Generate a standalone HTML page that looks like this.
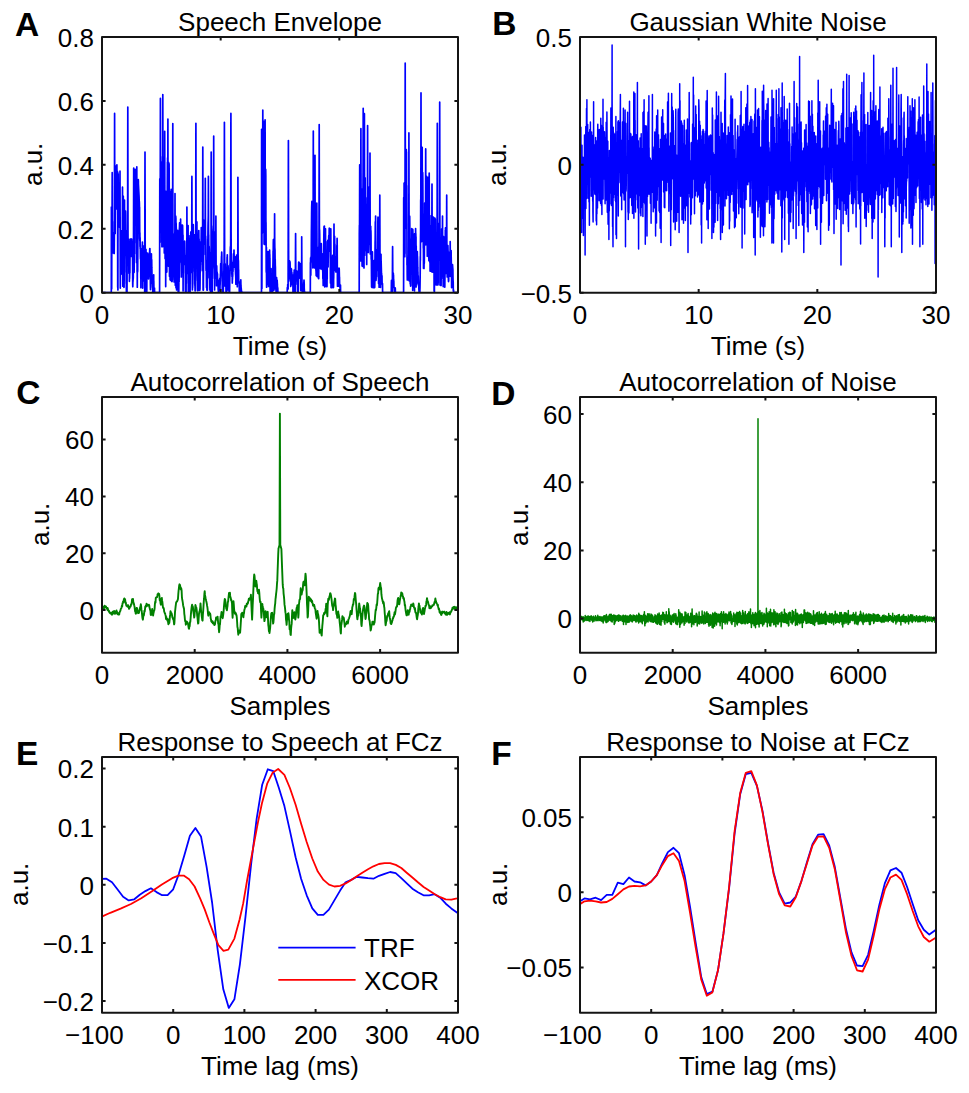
<!DOCTYPE html>
<html><head><meta charset="utf-8"><style>html,body{margin:0;padding:0;background:#fff;font-family:"Liberation Sans", sans-serif;}svg{display:block}</style></head>
<body><svg width="969" height="1093" viewBox="0 0 969 1093" font-family="'Liberation Sans', sans-serif" fill="#000">
<clipPath id="c00"><rect x="102" y="37" width="356" height="255.7"/></clipPath>
<path d="M102.0 292.7 102.1 292.7 102.2 292.7 102.3 292.7 102.4 292.7 102.5 292.7 102.6 292.7 102.6 292.7 102.7 292.7 102.8 292.7 102.9 292.7 103.0 292.7 103.1 292.7 103.2 292.7 103.3 292.7 103.4 292.7 103.5 292.7 103.6 292.7 103.7 292.7 103.8 292.7 103.9 292.7 103.9 292.7 104.0 292.7 104.1 292.7 104.2 292.7 104.3 292.7 104.4 292.7 104.5 292.7 104.6 292.7 104.7 292.7 104.8 292.7 104.9 292.7 105.0 292.7 105.1 292.7 105.2 292.7 105.2 292.7 105.3 292.7 105.4 292.7 105.5 292.7 105.6 292.7 105.7 292.7 105.8 292.7 105.9 292.7 106.0 292.7 106.1 292.7 106.2 292.7 106.3 292.7 106.4 292.7 106.5 292.7 106.5 292.7 106.6 292.7 106.7 292.7 106.8 292.7 106.9 292.7 107.0 292.7 107.1 292.7 107.2 292.7 107.3 292.7 107.4 292.7 107.5 292.7 107.6 292.7 107.7 292.7 107.7 292.7 107.8 292.7 107.9 292.7 108.0 292.7 108.1 292.7 108.2 292.7 108.3 292.7 108.4 292.7 108.5 292.7 108.6 292.7 108.7 292.7 108.8 292.7 108.9 292.7 109.0 292.7 109.0 292.7 109.1 292.7 109.2 292.7 109.3 292.7 109.4 292.7 109.5 292.7 109.6 292.7 109.7 292.7 109.8 292.7 109.9 292.7 110.0 292.7 110.1 292.7 110.2 292.7 110.3 292.7 110.3 292.7 110.4 292.7 110.5 292.7 110.6 292.7 110.7 292.7 110.8 292.7 110.9 292.7 111.0 292.7 111.1 292.7 111.2 292.7 111.3 292.7 111.4 207.1 111.5 288.5 111.6 227.0 111.6 223.8 111.7 288.7 111.8 235.1 111.9 221.2 112.0 225.9 112.1 212.6 112.2 172.5 112.3 212.6 112.4 239.6 112.5 221.5 112.6 249.8 112.7 241.9 112.8 246.6 112.8 252.6 112.9 252.7 113.0 252.7 113.1 252.8 113.2 252.8 113.3 248.1 113.4 252.9 113.5 251.6 113.6 232.7 113.7 253.1 113.8 253.1 113.9 253.2 114.0 253.2 114.1 253.3 114.1 244.0 114.2 253.4 114.3 243.9 114.4 232.9 114.5 173.2 114.6 113.4 114.7 173.2 114.8 232.9 114.9 228.6 115.0 218.8 115.1 208.2 115.2 233.4 115.3 204.1 115.4 204.9 115.4 201.4 115.5 203.4 115.6 183.4 115.7 194.7 115.8 166.0 115.9 177.0 116.0 168.3 116.1 169.7 116.2 166.8 116.3 188.3 116.4 175.9 116.5 186.5 116.6 183.5 116.7 200.6 116.7 209.0 116.8 207.5 116.9 164.8 117.0 186.6 117.1 194.8 117.2 184.1 117.3 171.6 117.4 171.3 117.5 176.6 117.6 172.0 117.7 287.2 117.8 172.6 117.9 173.0 117.9 289.9 118.0 173.8 118.1 174.0 118.2 174.4 118.3 188.8 118.4 184.9 118.5 184.8 118.6 200.8 118.7 208.6 118.8 209.9 118.9 219.0 119.0 220.8 119.1 209.9 119.2 218.4 119.2 207.9 119.3 211.0 119.4 210.9 119.5 216.8 119.6 227.3 119.7 218.2 119.8 226.6 119.9 210.2 120.0 171.2 120.1 210.4 120.2 239.8 120.3 288.1 120.4 266.7 120.5 267.0 120.5 267.7 120.6 268.8 120.7 269.9 120.8 271.0 120.9 272.1 121.0 273.2 121.1 274.3 121.2 271.2 121.3 244.1 121.4 255.2 121.5 232.3 121.6 253.5 121.7 246.6 121.8 230.5 121.8 250.3 121.9 247.1 122.0 236.2 122.1 254.7 122.2 255.7 122.3 257.5 122.4 222.4 122.5 187.2 122.6 222.4 122.7 257.5 122.8 286.2 122.9 284.2 123.0 261.9 123.1 243.4 123.1 231.4 123.2 202.6 123.3 196.2 123.4 217.1 123.5 240.2 123.6 236.7 123.7 242.5 123.8 258.6 123.9 287.3 124.0 269.7 124.1 286.9 124.2 267.5 124.3 272.2 124.3 252.0 124.4 230.9 124.5 200.0 124.6 230.9 124.7 239.3 124.8 232.5 124.9 229.1 125.0 231.8 125.1 214.4 125.2 212.0 125.3 217.4 125.4 223.7 125.5 211.1 125.6 215.0 125.6 216.9 125.7 228.8 125.8 237.4 125.9 230.3 126.0 254.7 126.1 259.7 126.2 283.4 126.3 282.4 126.4 291.8 126.5 291.9 126.6 292.0 126.7 292.2 126.8 292.3 126.9 292.5 126.9 289.6 127.0 292.7 127.1 267.8 127.2 258.2 127.3 262.7 127.4 253.7 127.5 258.1 127.6 230.8 127.7 168.9 127.8 107.0 127.9 168.9 128.0 230.8 128.1 258.3 128.2 260.1 128.2 248.1 128.3 248.4 128.4 239.0 128.5 246.1 128.6 244.2 128.7 254.3 128.8 263.5 128.9 273.3 129.0 268.6 129.1 265.5 129.2 269.7 129.3 269.9 129.4 271.5 129.4 281.3 129.5 273.1 129.6 278.5 129.7 272.5 129.8 261.1 129.9 272.7 130.0 255.7 130.1 243.6 130.2 239.0 130.3 239.0 130.4 239.0 130.5 239.0 130.6 239.0 130.7 239.0 130.7 239.0 130.8 239.7 130.9 248.6 131.0 243.7 131.1 246.9 131.2 256.4 131.3 239.0 131.4 256.5 131.5 248.5 131.6 246.9 131.7 239.0 131.8 251.9 131.9 240.9 132.0 254.6 132.0 248.0 132.1 249.8 132.2 254.3 132.3 250.6 132.4 248.0 132.5 254.1 132.6 266.6 132.7 284.0 132.8 286.8 132.9 281.2 133.0 281.5 133.1 279.2 133.2 279.2 133.3 277.3 133.3 274.1 133.4 273.5 133.5 251.1 133.6 209.6 133.7 168.0 133.8 209.6 133.9 251.1 134.0 253.5 134.1 272.2 134.2 265.9 134.3 242.4 134.4 244.8 134.5 253.8 134.5 207.9 134.6 211.4 134.7 197.9 134.8 197.1 134.9 177.6 135.0 179.7 135.1 177.3 135.2 169.3 135.3 194.0 135.4 180.9 135.5 206.3 135.6 176.5 135.7 193.2 135.8 199.6 135.8 201.0 135.9 181.4 136.0 170.7 136.1 183.7 136.2 219.4 136.3 243.1 136.4 212.7 136.5 262.6 136.6 250.7 136.7 208.7 136.8 166.8 136.9 208.7 137.0 250.7 137.1 271.7 137.1 254.8 137.2 268.5 137.3 287.2 137.4 262.0 137.5 256.3 137.6 272.2 137.7 270.1 137.8 252.6 137.9 237.8 138.0 239.0 138.1 212.4 138.2 182.6 138.3 179.6 138.4 181.6 138.4 183.5 138.5 185.5 138.6 187.5 138.7 189.5 138.8 191.5 138.9 193.5 139.0 195.4 139.1 197.4 139.2 202.4 139.3 201.4 139.4 203.4 139.5 208.0 139.6 207.3 139.6 212.7 139.7 229.7 139.8 240.5 139.9 232.8 140.0 246.5 140.1 237.5 140.2 248.8 140.3 244.7 140.4 256.4 140.5 258.9 140.6 253.6 140.7 259.1 140.8 277.9 140.9 278.8 140.9 287.7 141.0 272.9 141.1 263.9 141.2 271.8 141.3 267.2 141.4 254.9 141.5 258.4 141.6 254.0 141.7 248.5 141.8 259.8 141.9 262.9 142.0 258.3 142.1 268.7 142.2 263.4 142.2 262.5 142.3 261.7 142.4 242.0 142.5 256.0 142.6 245.3 142.7 288.1 142.8 251.9 142.9 256.3 143.0 251.8 143.1 248.9 143.2 245.8 143.3 266.7 143.4 258.2 143.5 266.7 143.5 273.3 143.6 275.6 143.7 277.6 143.8 280.9 143.9 279.1 144.0 263.3 144.1 269.8 144.2 263.6 144.3 268.6 144.4 256.1 144.5 268.2 144.6 272.7 144.7 285.9 144.7 292.5 144.8 245.8 144.9 198.9 145.0 152.1 145.1 198.9 145.2 245.8 145.3 281.1 145.4 292.2 145.5 261.1 145.6 268.8 145.7 265.4 145.8 255.2 145.9 261.4 146.0 249.8 146.0 249.4 146.1 259.5 146.2 252.9 146.3 252.8 146.4 261.6 146.5 268.6 146.6 269.6 146.7 266.5 146.8 291.6 146.9 265.0 147.0 266.8 147.1 268.3 147.2 267.9 147.3 258.3 147.3 262.4 147.4 254.1 147.5 261.9 147.6 253.5 147.7 253.0 147.8 253.9 147.9 253.8 148.0 258.6 148.1 261.2 148.2 268.0 148.3 274.7 148.4 278.3 148.5 279.0 148.6 275.7 148.6 272.3 148.7 274.5 148.8 274.2 148.9 271.4 149.0 276.5 149.1 274.4 149.2 274.9 149.3 270.9 149.4 267.9 149.5 266.0 149.6 254.5 149.7 249.6 149.8 248.6 149.8 248.7 149.9 248.9 150.0 254.8 150.1 260.3 150.2 276.7 150.3 273.5 150.4 285.1 150.5 289.7 150.6 283.0 150.7 279.6 150.8 280.7 150.9 273.0 151.0 280.1 151.1 272.5 151.1 269.4 151.2 269.4 151.3 257.3 151.4 253.8 151.5 264.7 151.6 263.2 151.7 259.7 151.8 267.9 151.9 270.6 152.0 277.0 152.1 276.5 152.2 283.5 152.3 279.5 152.4 281.4 152.4 282.7 152.5 287.3 152.6 287.6 152.7 288.3 152.8 292.7 152.9 292.7 153.0 292.7 153.1 292.7 153.2 292.7 153.3 288.1 153.4 289.1 153.5 285.4 153.6 276.1 153.7 274.8 153.7 280.2 153.8 281.3 153.9 287.7 154.0 288.1 154.1 288.5 154.2 290.6 154.3 292.7 154.4 288.9 154.5 288.1 154.6 292.7 154.7 292.7 154.8 292.7 154.9 292.7 155.0 292.7 155.0 292.7 155.1 292.7 155.2 292.7 155.3 292.7 155.4 292.7 155.5 292.7 155.6 292.7 155.7 292.7 155.8 292.7 155.9 292.7 156.0 292.7 156.1 292.7 156.2 292.7 156.2 292.7 156.3 292.7 156.4 292.7 156.5 292.7 156.6 292.7 156.7 292.7 156.8 292.7 156.9 292.7 157.0 292.7 157.1 292.7 157.2 292.7 157.3 292.7 157.4 292.7 157.5 292.7 157.5 292.7 157.6 292.7 157.7 292.7 157.8 292.7 157.9 292.7 158.0 292.7 158.1 292.7 158.2 292.7 158.3 292.7 158.4 292.7 158.5 292.7 158.6 292.7 158.7 292.7 158.8 292.7 158.8 292.7 158.9 292.7 159.0 292.7 159.1 292.7 159.2 292.7 159.3 292.7 159.4 292.7 159.5 292.7 159.6 292.7 159.7 222.3 159.8 178.8 159.9 220.6 160.0 212.7 160.1 223.6 160.1 242.2 160.2 213.6 160.3 163.1 160.4 98.4 160.5 163.1 160.6 195.0 160.7 156.5 160.8 171.9 160.9 192.9 161.0 205.1 161.1 161.8 161.2 170.4 161.3 168.7 161.3 192.2 161.4 197.9 161.5 205.0 161.6 177.9 161.7 204.3 161.8 201.6 161.9 246.7 162.0 227.1 162.1 246.7 162.2 246.7 162.3 246.7 162.4 246.7 162.5 219.5 162.6 246.7 162.6 212.3 162.7 160.6 162.8 94.5 162.9 160.6 163.0 197.6 163.1 191.7 163.2 221.8 163.3 201.6 163.4 199.9 163.5 173.7 163.6 170.9 163.7 157.0 163.8 179.4 163.9 171.5 163.9 237.1 164.0 227.2 164.1 216.9 164.2 228.6 164.3 252.9 164.4 231.4 164.5 238.9 164.6 185.1 164.7 131.3 164.8 185.1 164.9 238.9 165.0 221.6 165.1 258.6 165.2 238.7 165.2 229.0 165.3 244.7 165.4 207.0 165.5 216.8 165.6 191.0 165.7 286.6 165.8 222.0 165.9 206.2 166.0 231.4 166.1 230.2 166.2 255.6 166.3 267.9 166.4 268.6 166.4 269.3 166.5 270.0 166.6 270.7 166.7 271.4 166.8 272.1 166.9 248.9 167.0 209.6 167.1 231.9 167.2 211.1 167.3 189.4 167.4 162.2 167.5 186.6 167.6 157.9 167.7 158.3 167.7 223.4 167.8 177.0 167.9 119.1 168.0 177.0 168.1 234.8 168.2 262.2 168.3 266.1 168.4 234.7 168.5 221.4 168.6 213.9 168.7 162.4 168.8 162.8 168.9 163.1 169.0 163.5 169.0 163.9 169.1 164.2 169.2 182.3 169.3 223.9 169.4 226.1 169.5 276.2 169.6 258.9 169.7 225.2 169.8 191.4 169.9 225.2 170.0 258.9 170.1 279.7 170.2 279.8 170.3 279.9 170.3 280.0 170.4 280.1 170.5 280.2 170.6 280.3 170.7 280.3 170.8 268.4 170.9 222.1 171.0 215.0 171.1 195.4 171.2 189.4 171.3 198.6 171.4 191.5 171.5 213.1 171.5 247.4 171.6 265.2 171.7 267.4 171.8 281.4 171.9 281.3 172.0 275.3 172.1 281.6 172.2 277.2 172.3 279.7 172.4 276.8 172.5 272.4 172.6 236.3 172.7 180.0 172.8 123.6 172.8 180.0 172.9 236.3 173.0 261.6 173.1 274.8 173.2 233.8 173.3 261.4 173.4 240.6 173.5 255.7 173.6 239.2 173.7 258.8 173.8 235.4 173.9 250.9 174.0 273.8 174.1 245.9 174.1 281.9 174.2 269.2 174.3 256.9 174.4 271.2 174.5 257.1 174.6 270.0 174.7 278.7 174.8 259.7 174.9 226.6 175.0 193.6 175.1 226.6 175.2 259.7 175.3 285.2 175.4 268.7 175.4 230.0 175.5 218.6 175.6 237.3 175.7 216.1 175.8 217.4 175.9 218.6 176.0 287.7 176.1 222.9 176.2 226.7 176.3 228.6 176.4 250.8 176.5 264.7 176.6 275.8 176.6 290.0 176.7 288.9 176.8 282.8 176.9 274.9 177.0 274.7 177.1 248.8 177.2 270.6 177.3 260.3 177.4 251.3 177.5 236.4 177.6 245.5 177.7 230.4 177.8 240.9 177.9 248.9 177.9 254.1 178.0 268.6 178.1 284.1 178.2 292.7 178.3 292.7 178.4 292.7 178.5 292.7 178.6 292.7 178.7 292.7 178.8 290.6 178.9 280.6 179.0 272.1 179.1 281.8 179.2 270.6 179.2 257.2 179.3 262.8 179.4 229.1 179.5 227.1 179.6 222.9 179.7 223.0 179.8 223.1 179.9 223.1 180.0 223.2 180.1 226.4 180.2 223.4 180.3 228.0 180.4 241.5 180.5 233.9 180.5 241.2 180.6 219.2 180.7 243.7 180.8 254.2 180.9 261.9 181.0 257.4 181.1 263.3 181.2 265.2 181.3 276.9 181.4 269.1 181.5 263.2 181.6 271.2 181.7 253.4 181.7 230.2 181.8 240.6 181.9 232.1 182.0 225.1 182.1 225.5 182.2 225.1 182.3 225.2 182.4 225.3 182.5 228.0 182.6 225.4 182.7 229.9 182.8 237.2 182.9 242.5 183.0 235.2 183.0 250.9 183.1 290.9 183.2 245.6 183.3 255.1 183.4 246.7 183.5 258.9 183.6 246.4 183.7 264.4 183.8 248.4 183.9 252.5 184.0 256.2 184.1 247.7 184.2 254.9 184.3 258.9 184.3 257.7 184.4 264.5 184.5 261.2 184.6 260.2 184.7 241.2 184.8 243.1 184.9 252.6 185.0 255.9 185.1 262.3 185.2 273.2 185.3 272.4 185.4 291.1 185.5 292.6 185.6 292.6 185.6 292.6 185.7 292.6 185.8 292.6 185.9 292.5 186.0 292.5 186.1 290.8 186.2 265.1 186.3 283.2 186.4 265.8 186.5 255.8 186.6 265.3 186.7 261.3 186.8 252.7 186.9 235.6 186.9 207.0 187.0 235.6 187.1 255.6 187.2 273.3 187.3 264.7 187.4 258.6 187.5 265.9 187.6 263.8 187.7 266.8 187.8 270.1 187.9 270.3 188.0 248.0 188.1 225.6 188.1 248.0 188.2 270.3 188.3 292.1 188.4 287.9 188.5 260.7 188.6 262.0 188.7 252.3 188.8 245.1 188.9 235.5 189.0 239.2 189.1 238.5 189.2 245.9 189.3 256.1 189.4 260.5 189.4 277.5 189.5 267.5 189.6 291.9 189.7 284.3 189.8 291.9 189.9 291.0 190.0 281.9 190.1 291.8 190.2 267.8 190.3 270.5 190.4 272.8 190.5 269.9 190.6 256.5 190.7 262.8 190.7 232.8 190.8 240.6 190.9 231.9 191.0 238.1 191.1 247.3 191.2 255.1 191.3 267.1 191.4 259.8 191.5 272.5 191.6 269.0 191.7 253.9 191.8 215.1 191.9 176.4 192.0 215.1 192.0 253.9 192.1 267.6 192.2 271.6 192.3 283.9 192.4 290.0 192.5 287.0 192.6 287.6 192.7 284.6 192.8 283.9 192.9 262.8 193.0 252.1 193.1 236.3 193.2 232.3 193.2 229.5 193.3 224.5 193.4 232.5 193.5 238.4 193.6 236.8 193.7 244.2 193.8 241.8 193.9 249.8 194.0 258.6 194.1 239.2 194.2 234.7 194.3 251.4 194.4 248.3 194.5 240.7 194.5 252.1 194.6 271.6 194.7 262.9 194.8 279.1 194.9 285.6 195.0 286.0 195.1 291.0 195.2 291.0 195.3 288.6 195.4 279.5 195.5 275.6 195.6 257.8 195.7 252.0 195.8 236.2 195.8 179.8 195.9 123.3 196.0 179.8 196.1 232.5 196.2 235.8 196.3 234.6 196.4 241.9 196.5 248.1 196.6 250.9 196.7 225.9 196.8 230.2 196.9 221.8 197.0 236.9 197.1 237.0 197.1 248.4 197.2 257.8 197.3 280.5 197.4 271.6 197.5 290.6 197.6 290.6 197.7 290.5 197.8 288.6 197.9 290.5 198.0 276.0 198.1 284.1 198.2 276.5 198.3 272.5 198.3 252.5 198.4 262.0 198.5 255.3 198.6 248.7 198.7 233.2 198.8 230.5 198.9 241.3 199.0 290.5 199.1 239.0 199.2 251.8 199.3 258.8 199.4 271.2 199.5 255.0 199.6 262.8 199.6 280.2 199.7 279.5 199.8 290.2 199.9 277.6 200.0 289.3 200.1 278.7 200.2 260.4 200.3 272.0 200.4 249.4 200.5 253.3 200.6 257.6 200.7 241.8 200.8 248.6 200.9 255.7 200.9 244.5 201.0 247.8 201.1 244.9 201.2 238.1 201.3 227.5 201.4 246.9 201.5 247.9 201.6 236.2 201.7 255.2 201.8 249.3 201.9 252.2 202.0 261.5 202.1 260.9 202.2 260.6 202.2 264.8 202.3 264.1 202.4 270.4 202.5 267.5 202.6 244.1 202.7 195.5 202.8 147.0 202.9 195.5 203.0 244.1 203.1 290.1 203.2 290.1 203.3 290.1 203.4 290.1 203.4 281.7 203.5 273.8 203.6 255.7 203.7 233.8 203.8 220.3 203.9 220.3 204.0 220.3 204.1 220.3 204.2 220.3 204.3 220.3 204.4 220.3 204.5 220.3 204.6 220.3 204.7 228.0 204.7 220.3 204.8 220.3 204.9 223.3 205.0 224.2 205.1 244.2 205.2 216.4 205.3 178.3 205.4 216.4 205.5 254.6 205.6 238.9 205.7 236.2 205.8 241.5 205.9 254.9 206.0 264.5 206.0 268.4 206.1 270.7 206.2 270.7 206.3 264.3 206.4 275.2 206.5 287.4 206.6 286.6 206.7 260.6 206.8 274.4 206.9 290.1 207.0 290.1 207.1 288.6 207.2 290.1 207.3 290.1 207.3 290.1 207.4 290.1 207.5 281.3 207.6 267.5 207.7 259.0 207.8 239.0 207.9 239.3 208.0 228.9 208.1 223.0 208.2 220.3 208.3 215.1 208.4 176.4 208.5 215.1 208.5 226.8 208.6 235.0 208.7 234.9 208.8 256.8 208.9 256.2 209.0 252.0 209.1 246.3 209.2 248.7 209.3 277.8 209.4 267.7 209.5 268.4 209.6 270.6 209.7 271.8 209.8 276.3 209.8 276.5 209.9 290.1 210.0 279.3 210.1 290.2 210.2 290.2 210.3 290.3 210.4 280.7 210.5 291.4 210.6 261.9 210.7 260.1 210.8 255.6 210.9 252.1 211.0 252.2 211.1 245.8 211.1 198.9 211.2 152.1 211.3 198.9 211.4 231.3 211.5 243.0 211.6 225.9 211.7 228.0 211.8 239.7 211.9 252.7 212.0 259.2 212.1 274.5 212.2 292.5 212.3 270.2 212.4 277.2 212.4 268.9 212.5 278.5 212.6 273.9 212.7 266.7 212.8 268.6 212.9 260.2 213.0 257.4 213.1 243.7 213.2 250.7 213.3 231.7 213.4 238.3 213.5 228.9 213.6 229.1 213.6 188.3 213.7 136.1 213.8 188.3 213.9 240.5 214.0 262.7 214.1 258.5 214.2 257.0 214.3 250.0 214.4 241.0 214.5 252.8 214.6 290.0 214.7 231.9 214.8 232.1 214.9 232.3 214.9 235.2 215.0 232.8 215.1 245.9 215.2 233.3 215.3 235.8 215.4 240.4 215.5 243.3 215.6 238.4 215.7 244.0 215.8 241.6 215.9 216.0 216.0 241.6 216.1 267.1 216.2 278.2 216.2 276.3 216.3 271.9 216.4 276.7 216.5 285.7 216.6 271.1 216.7 265.8 216.8 270.6 216.9 271.9 217.0 275.0 217.1 272.0 217.2 274.9 217.3 275.8 217.4 277.3 217.5 273.8 217.5 276.9 217.6 278.9 217.7 283.0 217.8 283.3 217.9 284.6 218.0 283.9 218.1 287.1 218.2 290.3 218.3 289.6 218.4 291.3 218.5 292.7 218.6 292.7 218.7 292.7 218.8 291.6 218.8 284.4 218.9 284.7 219.0 283.4 219.1 280.7 219.2 280.0 219.3 285.3 219.4 283.4 219.5 284.9 219.6 282.1 219.7 281.5 219.8 278.3 219.9 286.7 220.0 290.6 220.0 285.1 220.1 285.3 220.2 282.2 220.3 280.1 220.4 274.3 220.5 274.4 220.6 267.9 220.7 263.6 220.8 266.8 220.9 266.7 221.0 272.6 221.1 267.2 221.2 269.8 221.3 269.2 221.3 263.6 221.4 260.2 221.5 256.2 221.6 256.4 221.7 252.1 221.8 254.9 221.9 261.8 222.0 268.3 222.1 277.2 222.2 279.6 222.3 288.6 222.4 291.4 222.5 292.7 222.6 290.1 222.6 291.8 222.7 292.7 222.8 292.7 222.9 292.7 223.0 292.7 223.1 292.7 223.2 292.7 223.3 292.7 223.4 286.6 223.5 278.4 223.6 277.8 223.7 276.1 223.8 270.8 223.9 278.8 223.9 263.8 224.0 267.6 224.1 265.3 224.2 235.9 224.3 179.1 224.4 122.3 224.5 179.1 224.6 235.9 224.7 286.0 224.8 279.8 224.9 283.8 225.0 269.6 225.1 270.5 225.1 271.2 225.2 263.9 225.3 272.4 225.4 269.0 225.5 272.2 225.6 273.2 225.7 271.5 225.8 276.2 225.9 279.3 226.0 290.9 226.1 292.7 226.2 292.7 226.3 292.7 226.4 289.4 226.4 292.7 226.5 292.7 226.6 292.7 226.7 292.7 226.8 279.3 226.9 270.1 227.0 264.8 227.1 257.2 227.2 260.3 227.3 254.8 227.4 264.0 227.5 278.8 227.6 289.9 227.7 271.2 227.7 281.5 227.8 275.8 227.9 277.3 228.0 265.7 228.1 266.4 228.2 268.3 228.3 275.8 228.4 277.6 228.5 271.5 228.6 280.7 228.7 287.6 228.8 270.9 228.9 275.2 229.0 289.4 229.0 287.9 229.1 292.7 229.2 292.7 229.3 292.7 229.4 292.7 229.5 292.7 229.6 292.7 229.7 282.7 229.8 276.2 229.9 276.2 230.0 264.1 230.1 267.8 230.2 255.4 230.2 262.8 230.3 249.4 230.4 246.7 230.5 246.7 230.6 252.3 230.7 232.9 230.8 173.2 230.9 113.4 231.0 173.2 231.1 232.9 231.2 260.5 231.3 260.4 231.4 267.5 231.5 270.6 231.5 269.5 231.6 262.1 231.7 268.0 231.8 274.2 231.9 272.3 232.0 276.8 232.1 276.3 232.2 274.1 232.3 283.1 232.4 275.8 232.5 279.6 232.6 270.0 232.7 276.5 232.8 268.3 232.8 270.7 232.9 262.6 233.0 271.6 233.1 264.6 233.2 264.1 233.3 264.8 233.4 256.7 233.5 253.8 233.6 254.4 233.7 255.9 233.8 254.9 233.9 256.0 234.0 250.0 234.1 254.8 234.1 254.5 234.2 259.4 234.3 258.4 234.4 267.1 234.5 265.6 234.6 264.5 234.7 263.8 234.8 257.0 234.9 256.9 235.0 256.7 235.1 259.1 235.2 258.0 235.3 269.8 235.3 263.4 235.4 267.4 235.5 272.1 235.6 274.4 235.7 275.3 235.8 278.0 235.9 284.2 236.0 280.0 236.1 277.6 236.2 269.1 236.3 262.2 236.4 256.8 236.5 256.9 236.6 258.6 236.6 255.1 236.7 262.3 236.8 260.0 236.9 265.9 237.0 262.5 237.1 270.3 237.2 272.1 237.3 286.7 237.4 269.6 237.5 271.0 237.6 271.1 237.7 267.5 237.8 254.2 237.9 215.8 237.9 177.3 238.0 215.8 238.1 254.2 238.2 259.6 238.3 260.2 238.4 260.8 238.5 270.2 238.6 269.8 238.7 281.4 238.8 283.1 238.9 281.7 239.0 282.7 239.1 282.4 239.2 283.9 239.2 283.6 239.3 291.4 239.4 290.4 239.5 292.7 239.6 292.7 239.7 292.7 239.8 291.7 239.9 292.7 240.0 292.7 240.1 292.7 240.2 291.0 240.3 290.2 240.4 286.3 240.4 284.7 240.5 281.6 240.6 283.2 240.7 281.0 240.8 279.8 240.9 284.8 241.0 285.1 241.1 288.9 241.2 287.7 241.3 290.4 241.4 289.8 241.5 292.7 241.6 292.7 241.7 292.7 241.7 292.7 241.8 292.7 241.9 291.8 242.0 292.7 242.1 292.7 242.2 292.7 242.3 292.7 242.4 292.7 242.5 292.7 242.6 292.7 242.7 292.7 242.8 292.7 242.9 292.7 243.0 292.7 243.0 292.7 243.1 292.7 243.2 292.7 243.3 292.7 243.4 292.7 243.5 292.7 243.6 292.7 243.7 292.7 243.8 292.7 243.9 292.7 244.0 292.7 244.1 292.7 244.2 292.7 244.3 292.7 244.3 292.7 244.4 292.7 244.5 292.7 244.6 292.7 244.7 292.7 244.8 292.7 244.9 292.7 245.0 292.7 245.1 292.7 245.2 292.7 245.3 292.7 245.4 292.7 245.5 292.7 245.5 292.7 245.6 292.7 245.7 292.7 245.8 292.7 245.9 292.7 246.0 292.7 246.1 292.7 246.2 292.7 246.3 292.7 246.4 292.7 246.5 292.7 246.6 292.7 246.7 292.7 246.8 292.7 246.8 292.7 246.9 292.7 247.0 292.7 247.1 292.7 247.2 292.7 247.3 292.7 247.4 292.7 247.5 292.7 247.6 292.7 247.7 292.7 247.8 292.7 247.9 292.7 248.0 292.7 248.1 292.7 248.1 292.7 248.2 292.7 248.3 292.7 248.4 292.7 248.5 292.7 248.6 292.7 248.7 292.7 248.8 292.7 248.9 292.7 249.0 292.7 249.1 292.7 249.2 292.7 249.3 292.7 249.4 292.7 249.4 292.7 249.5 292.7 249.6 292.7 249.7 292.7 249.8 292.7 249.9 292.7 250.0 292.7 250.1 292.7 250.2 292.7 250.3 292.7 250.4 292.7 250.5 292.7 250.6 292.7 250.7 292.7 250.7 292.7 250.8 292.7 250.9 292.7 251.0 292.7 251.1 292.7 251.2 292.7 251.3 292.7 251.4 292.7 251.5 292.7 251.6 292.7 251.7 292.7 251.8 292.7 251.9 292.7 251.9 292.7 252.0 292.7 252.1 292.7 252.2 292.7 252.3 292.7 252.4 292.7 252.5 292.7 252.6 292.7 252.7 292.7 252.8 292.7 252.9 292.7 253.0 292.7 253.1 292.7 253.2 292.7 253.2 292.7 253.3 292.7 253.4 292.7 253.5 292.7 253.6 292.7 253.7 292.7 253.8 292.7 253.9 292.7 254.0 292.7 254.1 292.7 254.2 292.7 254.3 292.7 254.4 292.7 254.5 292.7 254.5 292.7 254.6 292.7 254.7 292.7 254.8 292.7 254.9 292.7 255.0 292.7 255.1 292.7 255.2 292.7 255.3 292.7 255.4 292.7 255.5 292.7 255.6 292.7 255.7 292.7 255.8 292.7 255.8 292.7 255.9 292.7 256.0 292.7 256.1 292.7 256.2 292.7 256.3 292.7 256.4 292.7 256.5 292.7 256.6 292.7 256.7 292.7 256.8 292.7 256.9 292.7 257.0 292.7 257.0 292.7 257.1 292.7 257.2 292.7 257.3 292.7 257.4 292.7 257.5 292.7 257.6 292.7 257.7 292.7 257.8 292.7 257.9 292.7 258.0 292.7 258.1 292.7 258.2 292.7 258.3 292.7 258.3 292.7 258.4 292.7 258.5 292.7 258.6 292.7 258.7 292.7 258.8 292.7 258.9 292.7 259.0 292.7 259.1 292.7 259.2 292.7 259.3 292.7 259.4 292.7 259.5 292.7 259.6 292.7 259.6 292.7 259.7 292.7 259.8 292.7 259.9 292.7 260.0 292.7 260.1 292.7 260.2 292.7 260.3 292.7 260.4 292.7 260.5 292.7 260.6 292.7 260.7 292.7 260.8 292.7 260.9 292.7 260.9 292.7 261.0 292.7 261.1 292.7 261.2 292.7 261.3 292.7 261.4 292.7 261.5 292.7 261.6 129.3 261.7 140.4 261.8 143.3 261.9 288.6 262.0 204.8 262.1 206.8 262.1 217.3 262.2 202.5 262.3 233.0 262.4 218.2 262.5 224.1 262.6 231.9 262.7 171.0 262.8 110.2 262.9 171.0 263.0 207.8 263.1 197.2 263.2 161.2 263.3 156.1 263.4 131.3 263.4 121.1 263.5 146.3 263.6 133.9 263.7 155.5 263.8 191.4 263.9 202.3 264.0 217.2 264.1 244.1 264.2 225.7 264.3 225.1 264.4 229.3 264.5 207.6 264.6 221.9 264.7 244.5 264.7 203.1 264.8 211.9 264.9 197.6 265.0 177.4 265.1 119.8 265.2 177.4 265.3 233.7 265.4 211.2 265.5 191.0 265.6 185.9 265.7 169.4 265.8 175.8 265.9 221.5 266.0 231.4 266.0 222.4 266.1 241.6 266.2 271.3 266.3 272.5 266.4 247.4 266.5 274.9 266.6 287.2 266.7 277.3 266.8 278.5 266.9 279.6 267.0 280.8 267.1 282.0 267.2 283.2 267.2 284.4 267.3 274.1 267.4 260.3 267.5 261.6 267.6 271.7 267.7 267.3 267.8 251.7 267.9 256.2 268.0 255.3 268.1 265.5 268.2 265.8 268.3 273.2 268.4 267.1 268.5 260.4 268.5 286.5 268.6 270.7 268.7 252.4 268.8 261.1 268.9 259.1 269.0 259.0 269.1 258.8 269.2 264.0 269.3 252.7 269.4 260.4 269.5 262.6 269.6 250.0 269.7 256.2 269.8 254.6 269.8 270.6 269.9 257.9 270.0 279.4 270.1 291.0 270.2 292.7 270.3 292.7 270.4 292.7 270.5 292.7 270.6 292.7 270.7 292.7 270.8 292.7 270.9 288.9 271.0 281.6 271.1 284.7 271.1 268.6 271.2 287.0 271.3 288.8 271.4 282.7 271.5 292.7 271.6 292.7 271.7 292.7 271.8 292.7 271.9 292.7 272.0 292.7 272.1 292.7 272.2 292.7 272.3 292.7 272.3 292.7 272.4 292.7 272.5 292.7 272.6 292.7 272.7 290.0 272.8 285.8 272.9 266.6 273.0 262.0 273.1 251.1 273.2 255.5 273.3 243.3 273.4 239.6 273.5 239.5 273.6 248.1 273.6 246.2 273.7 254.4 273.8 258.4 273.9 262.7 274.0 290.1 274.1 264.0 274.2 275.2 274.3 270.6 274.4 266.4 274.5 240.1 274.6 213.8 274.7 240.1 274.8 247.2 274.9 249.1 274.9 249.2 275.0 250.2 275.1 260.3 275.2 259.3 275.3 265.3 275.4 267.1 275.5 275.7 275.6 287.1 275.7 289.3 275.8 283.4 275.9 284.7 276.0 290.8 276.1 291.4 276.2 287.6 276.2 292.3 276.3 287.1 276.4 287.6 276.5 285.6 276.6 277.5 276.7 282.7 276.8 282.4 276.9 281.0 277.0 285.8 277.1 280.0 277.2 281.3 277.3 283.3 277.4 284.3 277.4 285.2 277.5 288.4 277.6 287.2 277.7 288.2 277.8 288.2 277.9 292.7 278.0 292.7 278.1 292.7 278.2 292.7 278.3 292.7 278.4 292.7 278.5 292.7 278.6 292.7 278.7 292.7 278.7 292.7 278.8 292.7 278.9 292.7 279.0 292.7 279.1 292.7 279.2 292.7 279.3 292.7 279.4 292.7 279.5 292.7 279.6 292.7 279.7 292.7 279.8 292.7 279.9 292.7 280.0 292.7 280.0 292.7 280.1 292.7 280.2 292.7 280.3 292.7 280.4 292.7 280.5 292.7 280.6 292.7 280.7 292.7 280.8 292.7 280.9 292.7 281.0 292.7 281.1 292.7 281.2 292.7 281.3 292.7 281.3 292.7 281.4 292.7 281.5 292.7 281.6 292.7 281.7 292.7 281.8 292.7 281.9 292.7 282.0 292.7 282.1 292.7 282.2 292.7 282.3 292.7 282.4 292.7 282.5 292.7 282.6 292.7 282.6 292.7 282.7 292.7 282.8 292.7 282.9 292.7 283.0 292.7 283.1 292.7 283.2 292.7 283.3 292.7 283.4 292.7 283.5 292.7 283.6 292.7 283.7 292.7 283.8 292.7 283.8 292.7 283.9 292.7 284.0 292.7 284.1 292.7 284.2 292.7 284.3 292.7 284.4 292.7 284.5 292.7 284.6 292.7 284.7 292.7 284.8 292.7 284.9 292.7 285.0 292.7 285.1 292.7 285.1 292.7 285.2 292.7 285.3 292.7 285.4 292.7 285.5 292.7 285.6 292.7 285.7 292.7 285.8 292.7 285.9 292.7 286.0 292.7 286.1 292.7 286.2 292.7 286.3 292.7 286.4 292.7 286.4 292.7 286.5 292.7 286.6 292.7 286.7 292.7 286.8 292.7 286.9 292.7 287.0 292.7 287.1 292.7 287.2 292.7 287.3 287.7 287.4 287.9 287.5 288.1 287.6 288.2 287.7 286.3 287.7 284.5 287.8 285.3 287.9 288.9 288.0 289.1 288.1 288.9 288.2 242.0 288.3 191.3 288.4 140.6 288.5 191.3 288.6 242.0 288.7 280.9 288.8 272.6 288.9 272.3 288.9 268.7 289.0 262.9 289.1 268.0 289.2 265.7 289.3 263.6 289.4 260.6 289.5 265.2 289.6 261.9 289.7 261.3 289.8 263.6 289.9 261.7 290.0 261.9 290.1 263.6 290.2 271.5 290.2 274.1 290.3 279.1 290.4 278.9 290.5 277.6 290.6 278.0 290.7 286.4 290.8 280.7 290.9 275.5 291.0 274.9 291.1 278.0 291.2 269.3 291.3 268.5 291.4 269.0 291.5 269.4 291.5 269.9 291.6 273.7 291.7 273.8 291.8 275.6 291.9 272.7 292.0 284.6 292.1 283.4 292.2 281.8 292.3 282.1 292.4 278.9 292.5 274.8 292.6 277.4 292.7 275.6 292.8 276.1 292.8 276.6 292.9 277.0 293.0 292.7 293.1 292.7 293.2 292.7 293.3 292.7 293.4 292.7 293.5 292.7 293.6 281.6 293.7 280.4 293.8 282.8 293.9 283.6 294.0 278.0 294.0 272.6 294.1 275.9 294.2 270.1 294.3 273.1 294.4 273.5 294.5 276.6 294.6 283.0 294.7 281.1 294.8 287.9 294.9 292.4 295.0 292.7 295.1 292.7 295.2 292.7 295.3 292.7 295.3 292.7 295.4 273.0 295.5 253.3 295.6 233.6 295.7 253.3 295.8 273.0 295.9 273.1 296.0 275.7 296.1 275.2 296.2 270.7 296.3 277.8 296.4 278.3 296.5 273.3 296.6 273.4 296.6 274.3 296.7 270.8 296.8 280.7 296.9 275.4 297.0 271.5 297.1 281.1 297.2 284.5 297.3 276.6 297.4 278.6 297.5 277.0 297.6 291.5 297.7 287.3 297.8 290.8 297.9 292.7 297.9 288.9 298.0 292.7 298.1 292.7 298.2 292.5 298.3 282.7 298.4 272.9 298.5 273.0 298.6 265.4 298.7 262.0 298.8 262.0 298.9 264.6 299.0 264.7 299.1 262.3 299.1 274.0 299.2 270.9 299.3 271.5 299.4 275.6 299.5 272.8 299.6 272.0 299.7 270.2 299.8 272.1 299.9 277.6 300.0 278.3 300.1 270.0 300.2 273.6 300.3 265.7 300.4 263.5 300.4 263.8 300.5 264.2 300.6 264.6 300.7 290.6 300.8 265.4 300.9 265.7 301.0 267.2 301.1 268.8 301.2 271.2 301.3 274.9 301.4 270.4 301.5 273.6 301.6 274.1 301.7 255.4 301.7 236.8 301.8 255.4 301.9 274.1 302.0 284.5 302.1 285.4 302.2 291.8 302.3 292.7 302.4 292.7 302.5 292.7 302.6 292.7 302.7 292.7 302.8 292.7 302.9 292.7 303.0 292.7 303.0 292.7 303.1 289.6 303.2 290.2 303.3 290.6 303.4 286.5 303.5 284.6 303.6 285.6 303.7 284.3 303.8 282.3 303.9 282.3 304.0 280.0 304.1 281.7 304.2 284.4 304.2 287.7 304.3 289.2 304.4 292.7 304.5 291.0 304.6 291.9 304.7 292.7 304.8 292.7 304.9 292.7 305.0 292.7 305.1 292.7 305.2 292.7 305.3 292.7 305.4 292.7 305.5 292.7 305.5 292.7 305.6 292.7 305.7 292.7 305.8 292.7 305.9 292.7 306.0 292.7 306.1 292.7 306.2 292.7 306.3 292.7 306.4 292.7 306.5 292.7 306.6 292.7 306.7 292.7 306.8 292.7 306.8 292.7 306.9 292.7 307.0 292.7 307.1 292.7 307.2 292.7 307.3 292.7 307.4 292.7 307.5 292.7 307.6 292.7 307.7 292.7 307.8 292.7 307.9 292.7 308.0 292.7 308.1 292.7 308.1 292.7 308.2 292.7 308.3 292.7 308.4 292.7 308.5 292.7 308.6 292.7 308.7 292.7 308.8 292.7 308.9 292.7 309.0 292.7 309.1 292.7 309.2 292.7 309.3 292.7 309.3 292.7 309.4 292.7 309.5 292.7 309.6 292.7 309.7 292.7 309.8 292.7 309.9 292.7 310.0 292.7 310.1 292.7 310.2 292.7 310.3 292.7 310.4 262.5 310.5 265.3 310.6 257.9 310.6 268.9 310.7 271.9 310.8 275.3 310.9 263.3 311.0 263.2 311.1 256.6 311.2 261.7 311.3 246.6 311.4 232.0 311.5 223.6 311.6 213.6 311.7 207.0 311.8 204.2 311.9 201.4 311.9 204.5 312.0 207.6 312.1 211.4 312.2 213.5 312.3 232.5 312.4 233.6 312.5 239.2 312.6 251.9 312.7 253.5 312.8 267.8 312.9 254.6 313.0 245.9 313.1 234.3 313.2 238.8 313.2 184.9 313.3 131.0 313.4 184.9 313.5 238.8 313.6 231.4 313.7 234.1 313.8 220.4 313.9 231.9 314.0 245.4 314.1 255.5 314.2 247.5 314.3 266.5 314.4 268.0 314.5 241.2 314.5 264.7 314.6 249.0 314.7 253.5 314.8 242.8 314.9 201.1 315.0 155.3 315.1 201.1 315.2 231.8 315.3 229.8 315.4 237.9 315.5 231.0 315.6 243.2 315.7 244.8 315.7 257.4 315.8 254.6 315.9 270.3 316.0 269.1 316.1 272.5 316.2 275.7 316.3 265.5 316.4 261.1 316.5 254.5 316.6 262.9 316.7 233.0 316.8 203.2 316.9 233.0 317.0 262.9 317.0 276.5 317.1 273.9 317.2 274.1 317.3 276.2 317.4 261.0 317.5 265.1 317.6 266.9 317.7 248.0 317.8 247.5 317.9 253.4 318.0 263.7 318.1 260.3 318.2 277.7 318.3 277.8 318.3 278.0 318.4 278.2 318.5 278.4 318.6 278.6 318.7 278.7 318.8 267.7 318.9 253.4 319.0 236.7 319.1 180.6 319.2 124.6 319.3 180.6 319.4 227.5 319.5 231.5 319.6 232.3 319.6 229.8 319.7 234.3 319.8 242.8 319.9 253.1 320.0 267.4 320.1 255.7 320.2 267.7 320.3 264.0 320.4 267.2 320.5 268.8 320.6 264.0 320.7 268.3 320.8 253.6 320.8 254.1 320.9 252.9 321.0 255.4 321.1 244.4 321.2 245.5 321.3 243.7 321.4 250.4 321.5 261.5 321.6 265.9 321.7 264.7 321.8 261.9 321.9 268.2 322.0 269.4 322.1 263.0 322.1 253.7 322.2 257.6 322.3 257.1 322.4 254.9 322.5 254.8 322.6 270.1 322.7 269.6 322.8 271.9 322.9 279.1 323.0 277.8 323.1 279.3 323.2 285.4 323.3 270.8 323.4 278.8 323.4 264.8 323.5 261.2 323.6 267.7 323.7 256.1 323.8 239.9 323.9 232.4 324.0 226.7 324.1 238.1 324.2 228.2 324.3 226.1 324.4 226.2 324.5 237.6 324.6 261.1 324.7 286.8 324.7 278.1 324.8 285.9 324.9 282.1 325.0 283.6 325.1 284.3 325.2 286.1 325.3 271.4 325.4 250.1 325.5 228.8 325.6 250.1 325.7 271.4 325.8 286.2 325.9 286.3 325.9 286.3 326.0 282.9 326.1 286.4 326.2 286.4 326.3 282.2 326.4 286.4 326.5 286.5 326.6 286.5 326.7 286.5 326.8 286.6 326.9 286.6 327.0 286.6 327.1 271.0 327.2 279.1 327.2 265.9 327.3 252.1 327.4 241.5 327.5 254.7 327.6 244.8 327.7 249.2 327.8 240.3 327.9 254.7 328.0 248.5 328.1 266.8 328.2 255.1 328.3 248.5 328.4 249.4 328.5 249.0 328.5 248.6 328.6 251.4 328.7 236.8 328.8 235.7 328.9 237.2 329.0 243.5 329.1 237.2 329.2 228.5 329.3 228.2 329.4 228.3 329.5 228.3 329.6 238.5 329.7 246.0 329.8 236.2 329.8 234.9 329.9 228.8 330.0 246.2 330.1 239.6 330.2 256.1 330.3 260.1 330.4 275.9 330.5 283.0 330.6 271.4 330.7 250.1 330.8 228.8 330.9 250.1 331.0 271.4 331.0 287.6 331.1 287.6 331.2 287.6 331.3 287.6 331.4 281.0 331.5 287.6 331.6 285.5 331.7 287.6 331.8 287.6 331.9 287.6 332.0 287.6 332.1 287.6 332.2 284.8 332.3 287.6 332.3 265.1 332.4 257.0 332.5 262.7 332.6 260.4 332.7 255.3 332.8 256.0 332.9 268.2 333.0 274.0 333.1 266.9 333.2 282.7 333.3 287.6 333.4 287.6 333.5 287.6 333.6 283.6 333.6 279.4 333.7 277.5 333.8 269.8 333.9 246.9 334.0 224.0 334.1 246.9 334.2 256.0 334.3 251.0 334.4 244.0 334.5 246.1 334.6 236.4 334.7 243.9 334.8 250.0 334.9 244.2 334.9 255.6 335.0 269.8 335.1 270.3 335.2 267.0 335.3 269.1 335.4 258.7 335.5 260.6 335.6 258.7 335.7 256.7 335.8 257.0 335.9 271.9 336.0 271.3 336.1 272.0 336.1 266.9 336.2 270.7 336.3 262.6 336.4 263.5 336.5 259.0 336.6 264.1 336.7 255.6 336.8 245.7 336.9 254.2 337.0 251.8 337.1 238.4 337.2 245.1 337.3 270.4 337.4 268.3 337.4 279.1 337.5 286.2 337.6 282.1 337.7 275.3 337.8 273.4 337.9 274.0 338.0 270.2 338.1 280.5 338.2 280.7 338.3 276.3 338.4 280.5 338.5 286.1 338.6 286.1 338.7 279.2 338.7 275.7 338.8 272.1 338.9 270.7 339.0 268.0 339.1 269.4 339.2 268.6 339.3 272.3 339.4 276.9 339.5 277.0 339.6 282.6 339.7 285.6 339.8 285.0 339.9 287.1 340.0 285.2 340.0 286.1 340.1 289.7 340.2 289.0 340.3 288.9 340.4 289.2 340.5 285.2 340.6 292.7 340.7 292.7 340.8 292.7 340.9 292.7 341.0 292.7 341.1 292.7 341.2 292.7 341.2 292.7 341.3 292.7 341.4 292.7 341.5 292.7 341.6 292.7 341.7 292.7 341.8 292.7 341.9 292.7 342.0 292.7 342.1 292.7 342.2 292.7 342.3 292.7 342.4 292.7 342.5 292.7 342.5 292.7 342.6 292.7 342.7 292.7 342.8 292.7 342.9 292.7 343.0 292.7 343.1 292.7 343.2 292.7 343.3 292.7 343.4 292.7 343.5 292.7 343.6 292.7 343.7 292.7 343.8 292.7 343.8 292.7 343.9 292.7 344.0 292.7 344.1 292.7 344.2 292.7 344.3 292.7 344.4 292.7 344.5 292.7 344.6 292.7 344.7 292.7 344.8 292.7 344.9 292.7 345.0 292.7 345.1 292.7 345.1 292.7 345.2 292.7 345.3 292.7 345.4 292.7 345.5 292.7 345.6 292.7 345.7 292.7 345.8 292.7 345.9 292.7 346.0 292.7 346.1 292.7 346.2 292.7 346.3 292.7 346.4 292.7 346.4 292.7 346.5 292.7 346.6 292.7 346.7 292.7 346.8 292.7 346.9 292.7 347.0 292.7 347.1 292.7 347.2 292.7 347.3 292.7 347.4 292.7 347.5 292.7 347.6 292.7 347.6 292.7 347.7 292.7 347.8 292.7 347.9 292.7 348.0 292.7 348.1 292.7 348.2 292.7 348.3 292.7 348.4 292.7 348.5 292.7 348.6 292.7 348.7 292.7 348.8 292.7 348.9 292.7 348.9 292.7 349.0 292.7 349.1 292.7 349.2 292.7 349.3 292.7 349.4 292.7 349.5 292.7 349.6 292.7 349.7 292.7 349.8 292.7 349.9 292.7 350.0 292.7 350.1 292.7 350.2 292.7 350.2 292.7 350.3 292.7 350.4 292.7 350.5 292.7 350.6 292.7 350.7 292.7 350.8 292.7 350.9 292.7 351.0 292.7 351.1 292.7 351.2 292.7 351.3 292.7 351.4 292.7 351.5 292.7 351.5 292.7 351.6 292.7 351.7 292.7 351.8 292.7 351.9 292.7 352.0 292.7 352.1 292.7 352.2 292.7 352.3 292.7 352.4 292.7 352.5 292.7 352.6 292.7 352.7 292.7 352.7 292.7 352.8 292.7 352.9 292.7 353.0 292.7 353.1 292.7 353.2 292.7 353.3 292.7 353.4 292.7 353.5 292.7 353.6 292.7 353.7 292.7 353.8 292.7 353.9 292.7 354.0 292.7 354.0 292.7 354.1 292.7 354.2 292.7 354.3 292.7 354.4 292.7 354.5 292.7 354.6 292.7 354.7 292.7 354.8 292.7 354.9 292.7 355.0 292.7 355.1 292.7 355.2 292.7 355.3 292.7 355.3 292.7 355.4 292.7 355.5 292.7 355.6 292.7 355.7 292.7 355.8 292.7 355.9 292.7 356.0 292.7 356.1 292.7 356.2 292.7 356.3 292.7 356.4 292.7 356.5 292.7 356.6 292.7 356.6 292.7 356.7 292.7 356.8 292.7 356.9 292.7 357.0 292.7 357.1 292.7 357.2 292.7 357.3 292.7 357.4 292.7 357.5 292.7 357.6 292.7 357.7 292.7 357.8 292.7 357.8 292.7 357.9 292.7 358.0 292.7 358.1 292.7 358.2 292.7 358.3 292.7 358.4 292.7 358.5 292.7 358.6 292.7 358.7 292.7 358.8 292.7 358.9 292.7 359.0 292.7 359.1 292.7 359.1 292.7 359.2 292.7 359.3 234.3 359.4 225.2 359.5 241.0 359.6 204.1 359.7 164.8 359.8 164.8 359.9 164.8 360.0 164.8 360.1 164.8 360.2 164.8 360.3 179.8 360.4 195.4 360.4 205.3 360.5 229.0 360.6 260.9 360.7 238.0 360.8 183.4 360.9 128.7 361.0 183.4 361.1 238.0 361.2 254.3 361.3 243.8 361.4 205.6 361.5 209.5 361.6 188.8 361.7 225.8 361.7 211.3 361.8 234.8 361.9 257.7 362.0 244.4 362.1 265.9 362.2 253.1 362.3 233.2 362.4 262.0 362.5 262.7 362.6 265.1 362.7 266.4 362.8 239.0 362.9 229.7 362.9 201.1 363.0 192.1 363.1 169.8 363.2 108.3 363.3 164.8 363.4 194.3 363.5 200.1 363.6 186.0 363.7 204.8 363.8 234.7 363.9 204.4 364.0 267.9 364.1 236.0 364.2 228.2 364.2 212.6 364.3 173.4 364.4 113.7 364.5 173.4 364.6 216.1 364.7 255.2 364.8 239.8 364.9 232.8 365.0 204.1 365.1 182.7 365.2 177.8 365.3 203.7 365.4 197.8 365.5 212.7 365.5 224.4 365.6 244.8 365.7 243.8 365.8 250.3 365.9 240.1 366.0 241.4 366.1 204.3 366.2 247.4 366.3 238.9 366.4 247.8 366.5 250.9 366.6 251.5 366.7 264.5 366.8 227.2 366.8 246.2 366.9 223.8 367.0 230.6 367.1 232.2 367.2 197.4 367.3 234.7 367.4 237.0 367.5 181.3 367.6 125.5 367.7 181.3 367.8 237.0 367.9 239.0 368.0 233.8 368.0 230.0 368.1 248.7 368.2 240.7 368.3 252.5 368.4 245.0 368.5 244.6 368.6 236.4 368.7 220.8 368.8 230.3 368.9 216.5 369.0 187.2 369.1 188.0 369.2 188.7 369.3 189.5 369.3 190.3 369.4 191.1 369.5 191.9 369.6 192.7 369.7 193.5 369.8 195.5 369.9 199.6 370.0 153.0 370.1 199.6 370.2 246.1 370.3 254.0 370.4 251.1 370.5 243.3 370.6 245.7 370.6 227.0 370.7 226.3 370.8 238.7 370.9 230.5 371.0 235.2 371.1 253.0 371.2 259.3 371.3 256.1 371.4 261.7 371.5 275.9 371.6 286.9 371.7 287.0 371.8 287.2 371.9 287.3 371.9 286.0 372.0 276.1 372.1 279.4 372.2 261.6 372.3 251.8 372.4 251.8 372.5 261.6 372.6 266.2 372.7 273.6 372.8 270.2 372.9 286.0 373.0 287.6 373.1 287.6 373.1 287.6 373.2 287.6 373.3 287.6 373.4 287.6 373.5 287.6 373.6 287.6 373.7 287.6 373.8 284.5 373.9 278.6 374.0 260.5 374.1 265.0 374.2 264.8 374.3 266.2 374.4 280.4 374.4 276.4 374.5 281.0 374.6 287.6 374.7 287.6 374.8 283.8 374.9 273.0 375.0 257.6 375.1 242.7 375.2 238.9 375.3 221.8 375.4 237.7 375.5 232.9 375.6 216.0 375.7 241.6 375.7 248.0 375.8 252.1 375.9 256.1 376.0 280.4 376.1 278.7 376.2 276.6 376.3 273.1 376.4 262.9 376.5 276.6 376.6 259.4 376.7 262.5 376.8 251.1 376.9 270.5 377.0 252.9 377.0 258.1 377.1 259.6 377.2 249.6 377.3 251.5 377.4 268.3 377.5 251.6 377.6 253.8 377.7 244.8 377.8 233.1 377.9 218.7 378.0 217.0 378.1 217.8 378.2 240.2 378.3 234.2 378.3 256.7 378.4 277.4 378.5 279.8 378.6 283.7 378.7 271.8 378.8 258.0 378.9 250.2 379.0 262.1 379.1 287.2 379.2 239.3 379.3 238.4 379.4 250.1 379.5 250.3 379.5 253.9 379.6 252.6 379.7 227.7 379.8 195.2 379.9 227.7 380.0 260.2 380.1 270.1 380.2 277.8 380.3 286.6 380.4 283.1 380.5 287.5 380.6 279.1 380.7 267.4 380.8 272.0 380.8 265.4 380.9 267.0 381.0 254.3 381.1 261.4 381.2 263.6 381.3 267.2 381.4 270.7 381.5 274.8 381.6 273.3 381.7 278.9 381.8 276.6 381.9 276.1 382.0 275.7 382.1 284.1 382.1 282.5 382.2 283.2 382.3 284.8 382.4 284.2 382.5 283.5 382.6 292.7 382.7 292.7 382.8 292.7 382.9 292.7 383.0 292.7 383.1 292.7 383.2 292.7 383.3 292.7 383.4 292.7 383.4 292.7 383.5 292.7 383.6 292.7 383.7 292.7 383.8 292.7 383.9 292.7 384.0 292.7 384.1 292.7 384.2 292.7 384.3 292.7 384.4 292.7 384.5 292.7 384.6 292.7 384.6 292.7 384.7 292.7 384.8 292.7 384.9 292.7 385.0 292.7 385.1 292.7 385.2 292.7 385.3 292.7 385.4 292.7 385.5 292.7 385.6 292.7 385.7 292.7 385.8 292.7 385.9 292.7 385.9 292.7 386.0 292.7 386.1 292.7 386.2 292.7 386.3 292.7 386.4 292.7 386.5 292.7 386.6 292.7 386.7 292.7 386.8 292.7 386.9 292.7 387.0 292.7 387.1 292.7 387.2 292.7 387.2 292.7 387.3 292.7 387.4 292.7 387.5 292.7 387.6 292.7 387.7 292.7 387.8 292.7 387.9 292.7 388.0 292.7 388.1 292.7 388.2 292.7 388.3 292.7 388.4 292.7 388.5 292.7 388.5 292.7 388.6 292.7 388.7 292.7 388.8 292.7 388.9 292.7 389.0 292.7 389.1 292.7 389.2 292.7 389.3 292.7 389.4 292.7 389.5 292.7 389.6 292.7 389.7 292.7 389.7 292.7 389.8 292.7 389.9 292.7 390.0 292.7 390.1 292.7 390.2 292.7 390.3 292.7 390.4 292.7 390.5 292.7 390.6 292.7 390.7 292.7 390.8 292.7 390.9 292.7 391.0 292.7 391.0 292.7 391.1 292.7 391.2 292.7 391.3 292.7 391.4 282.8 391.5 280.4 391.6 283.1 391.7 287.3 391.8 288.5 391.9 286.8 392.0 286.1 392.1 284.2 392.2 286.0 392.3 286.2 392.3 292.4 392.4 277.4 392.5 262.0 392.6 246.7 392.7 262.0 392.8 277.4 392.9 286.6 393.0 281.2 393.1 282.3 393.2 278.4 393.3 273.1 393.4 277.8 393.5 274.9 393.6 280.0 393.6 280.0 393.7 280.6 393.8 280.8 393.9 284.8 394.0 288.0 394.1 287.9 394.2 287.8 394.3 288.5 394.4 291.7 394.5 290.1 394.6 291.7 394.7 290.5 394.8 290.1 394.8 291.5 394.9 287.9 395.0 289.9 395.1 287.8 395.2 288.7 395.3 288.4 395.4 292.7 395.5 292.7 395.6 292.7 395.7 292.7 395.8 292.7 395.9 292.7 396.0 292.7 396.1 292.7 396.1 292.7 396.2 292.7 396.3 292.7 396.4 292.7 396.5 292.7 396.6 292.7 396.7 292.7 396.8 292.7 396.9 292.7 397.0 292.7 397.1 292.7 397.2 292.7 397.3 292.7 397.4 292.7 397.4 292.7 397.5 292.7 397.6 292.7 397.7 292.7 397.8 292.7 397.9 292.7 398.0 292.7 398.1 292.7 398.2 292.7 398.3 292.7 398.4 292.7 398.5 292.7 398.6 292.7 398.7 292.7 398.7 292.7 398.8 292.7 398.9 292.7 399.0 292.7 399.1 292.7 399.2 292.7 399.3 292.7 399.4 292.7 399.5 292.7 399.6 292.7 399.7 292.7 399.8 292.7 399.9 292.7 399.9 292.7 400.0 292.7 400.1 292.7 400.2 292.7 400.3 292.7 400.4 292.7 400.5 292.7 400.6 292.7 400.7 292.7 400.8 292.7 400.9 292.7 401.0 292.7 401.1 292.7 401.2 292.7 401.2 292.7 401.3 292.7 401.4 292.7 401.5 292.7 401.6 292.7 401.7 292.7 401.8 292.7 401.9 292.7 402.0 292.7 402.1 292.7 402.2 292.7 402.3 292.7 402.4 292.7 402.5 292.7 402.5 292.7 402.6 292.7 402.7 292.7 402.8 292.7 402.9 292.7 403.0 292.7 403.1 292.7 403.2 292.7 403.3 292.7 403.4 292.7 403.5 292.7 403.6 292.4 403.7 197.7 403.8 218.3 403.8 201.0 403.9 220.8 404.0 221.5 404.1 183.1 404.2 232.8 404.3 236.4 404.4 201.3 404.5 237.5 404.6 229.8 404.7 233.3 404.8 256.7 404.9 236.8 405.0 253.5 405.0 216.2 405.1 139.7 405.2 63.2 405.3 139.7 405.4 183.3 405.5 201.2 405.6 189.2 405.7 190.1 405.8 210.1 405.9 191.4 406.0 208.3 406.1 220.0 406.2 212.9 406.3 170.0 406.3 149.5 406.4 155.4 406.5 151.9 406.6 190.4 406.7 228.4 406.8 185.6 406.9 214.2 407.0 265.1 407.1 257.0 407.2 274.8 407.3 279.9 407.4 279.9 407.5 279.9 407.6 279.9 407.6 279.9 407.7 277.7 407.8 279.9 407.9 277.4 408.0 279.9 408.1 279.9 408.2 279.9 408.3 279.9 408.4 279.9 408.5 279.9 408.6 279.9 408.7 266.1 408.8 239.4 408.9 186.2 408.9 132.9 409.0 186.2 409.1 239.4 409.2 280.8 409.3 248.6 409.4 230.6 409.5 240.1 409.6 216.1 409.7 216.4 409.8 223.6 409.9 246.1 410.0 268.7 410.1 280.3 410.2 263.1 410.2 283.7 410.3 249.9 410.4 257.7 410.5 268.2 410.6 286.1 410.7 279.0 410.8 285.9 410.9 281.0 411.0 265.3 411.1 247.1 411.2 273.8 411.3 268.7 411.4 239.0 411.4 251.9 411.5 244.7 411.6 250.2 411.7 228.6 411.8 242.5 411.9 239.0 412.0 240.9 412.1 235.9 412.2 245.3 412.3 251.6 412.4 238.4 412.5 240.0 412.6 250.5 412.7 290.3 412.7 242.3 412.8 229.4 412.9 233.2 413.0 236.1 413.1 254.2 413.2 245.5 413.3 260.1 413.4 263.7 413.5 287.6 413.6 287.6 413.7 287.6 413.8 273.8 413.9 276.2 414.0 258.3 414.0 264.7 414.1 245.3 414.2 242.0 414.3 239.4 414.4 238.5 414.5 290.9 414.6 233.8 414.7 237.9 414.8 242.3 414.9 249.0 415.0 251.8 415.1 248.3 415.2 241.6 415.3 237.8 415.3 241.2 415.4 245.9 415.5 244.1 415.6 228.6 415.7 238.8 415.8 233.6 415.9 238.5 416.0 236.8 416.1 286.9 416.2 245.9 416.3 260.2 416.4 275.9 416.5 273.9 416.5 284.9 416.6 282.4 416.7 274.4 416.8 283.4 416.9 267.8 417.0 264.9 417.1 254.8 417.2 256.2 417.3 251.6 417.4 256.0 417.5 256.7 417.6 261.1 417.7 267.4 417.8 268.3 417.8 272.1 417.9 271.8 418.0 279.0 418.1 280.8 418.2 275.8 418.3 279.8 418.4 282.7 418.5 282.8 418.6 284.6 418.7 286.3 418.8 283.6 418.9 290.2 419.0 290.2 419.1 292.0 419.1 292.7 419.2 292.7 419.3 292.7 419.4 292.7 419.5 292.7 419.6 292.7 419.7 292.7 419.8 292.7 419.9 290.0 420.0 287.1 420.1 280.8 420.2 273.1 420.3 256.4 420.4 260.2 420.4 259.4 420.5 236.7 420.6 231.7 420.7 199.7 420.8 209.1 420.9 159.5 421.0 92.9 421.1 159.5 421.2 187.8 421.3 211.3 421.4 216.3 421.5 209.4 421.6 241.6 421.6 238.4 421.7 233.8 421.8 232.0 421.9 239.7 422.0 233.5 422.1 195.7 422.2 147.3 422.3 195.7 422.4 202.0 422.5 200.7 422.6 192.0 422.7 172.7 422.8 178.2 422.9 198.1 422.9 212.8 423.0 214.9 423.1 217.4 423.2 227.8 423.3 248.3 423.4 243.8 423.5 268.2 423.6 268.2 423.7 268.3 423.8 268.3 423.9 268.4 424.0 268.4 424.1 259.8 424.2 259.5 424.2 251.1 424.3 263.0 424.4 245.3 424.5 235.2 424.6 225.9 424.7 203.0 424.8 213.2 424.9 214.1 425.0 232.3 425.1 227.6 425.2 223.5 425.3 230.4 425.4 244.2 425.5 232.9 425.5 242.2 425.6 196.8 425.7 148.9 425.8 196.8 425.9 244.8 426.0 242.6 426.1 221.5 426.2 195.1 426.3 208.0 426.4 202.1 426.5 204.6 426.6 176.4 426.7 188.1 426.7 189.6 426.8 188.7 426.9 205.0 427.0 206.7 427.1 225.0 427.2 239.2 427.3 256.3 427.4 252.0 427.5 236.6 427.6 240.6 427.7 213.6 427.8 193.4 427.9 186.0 428.0 177.3 428.0 206.2 428.1 197.0 428.2 207.9 428.3 211.3 428.4 226.7 428.5 241.8 428.6 243.1 428.7 255.5 428.8 238.0 428.9 260.7 429.0 252.9 429.1 213.0 429.2 173.2 429.3 213.0 429.3 236.9 429.4 237.0 429.5 243.1 429.6 236.1 429.7 225.7 429.8 233.3 429.9 262.4 430.0 255.7 430.1 271.0 430.2 271.0 430.3 271.1 430.4 271.1 430.5 271.2 430.6 271.2 430.6 242.5 430.7 259.9 430.8 241.8 430.9 229.0 431.0 231.7 431.1 233.6 431.2 215.6 431.3 223.9 431.4 238.6 431.5 240.9 431.6 260.3 431.7 271.7 431.8 266.8 431.8 256.5 431.9 220.3 432.0 184.0 432.1 220.3 432.2 256.5 432.3 272.0 432.4 267.4 432.5 272.0 432.6 270.1 432.7 272.1 432.8 272.1 432.9 272.2 433.0 272.2 433.1 270.8 433.1 272.2 433.2 251.9 433.3 242.6 433.4 217.0 433.5 219.5 433.6 224.8 433.7 217.7 433.8 231.5 433.9 241.7 434.0 250.2 434.1 291.0 434.2 251.6 434.3 262.7 434.4 292.5 434.4 245.5 434.5 254.3 434.6 228.1 434.7 221.8 434.8 232.7 434.9 218.1 435.0 219.1 435.1 221.4 435.2 231.6 435.3 219.0 435.4 235.6 435.5 250.2 435.6 247.8 435.7 259.9 435.7 273.8 435.8 270.9 435.9 280.3 436.0 285.0 436.1 285.0 436.2 285.0 436.3 285.0 436.4 281.4 436.5 282.0 436.6 274.9 436.7 278.9 436.8 269.0 436.9 271.5 436.9 261.6 437.0 260.1 437.1 236.2 437.2 179.8 437.3 123.3 437.4 179.8 437.5 236.2 437.6 285.0 437.7 285.0 437.8 285.0 437.9 285.0 438.0 285.0 438.1 281.4 438.2 282.9 438.2 253.8 438.3 247.8 438.4 226.0 438.5 238.3 438.6 239.7 438.7 223.3 438.8 231.6 438.9 225.3 439.0 243.4 439.1 231.7 439.2 241.6 439.3 241.3 439.4 249.1 439.5 260.1 439.5 229.2 439.6 165.7 439.7 102.2 439.8 165.7 439.9 229.2 440.0 285.0 440.1 285.1 440.2 285.1 440.3 285.2 440.4 285.2 440.5 285.2 440.6 285.3 440.7 285.3 440.8 285.3 440.8 285.4 440.9 285.4 441.0 285.5 441.1 285.5 441.2 266.0 441.3 262.9 441.4 244.2 441.5 248.0 441.6 241.9 441.7 228.8 441.8 247.0 441.9 252.5 442.0 254.5 442.1 257.3 442.1 259.7 442.2 265.5 442.3 267.1 442.4 241.6 442.5 216.0 442.6 241.6 442.7 266.4 442.8 265.0 442.9 278.6 443.0 271.0 443.1 270.6 443.2 286.4 443.3 251.0 443.3 247.6 443.4 242.1 443.5 243.5 443.6 236.7 443.7 240.5 443.8 244.5 443.9 239.8 444.0 266.7 444.1 275.4 444.2 273.9 444.3 273.8 444.4 286.9 444.5 286.8 444.6 287.0 444.6 287.0 444.7 287.0 444.8 287.1 444.9 277.3 445.0 270.8 445.1 263.4 445.2 254.9 445.3 230.3 445.4 229.9 445.5 227.9 445.6 234.7 445.7 229.5 445.8 231.0 445.9 232.7 445.9 244.3 446.0 240.2 446.1 259.9 446.2 258.1 446.3 267.2 446.4 273.4 446.5 260.2 446.6 227.7 446.7 195.2 446.8 227.7 446.9 260.2 447.0 271.4 447.1 263.2 447.2 262.3 447.2 276.9 447.3 265.0 447.4 262.9 447.5 264.0 447.6 265.6 447.7 251.9 447.8 254.5 447.9 245.6 448.0 250.1 448.1 251.6 448.2 270.6 448.3 273.1 448.4 279.9 448.4 276.7 448.5 281.6 448.6 279.4 448.7 280.8 448.8 272.2 448.9 268.7 449.0 256.2 449.1 259.5 449.2 260.0 449.3 252.1 449.4 252.7 449.5 261.4 449.6 260.2 449.7 265.4 449.7 268.2 449.8 270.5 449.9 276.1 450.0 275.7 450.1 258.6 450.2 241.6 450.3 258.6 450.4 275.7 450.5 275.7 450.6 276.4 450.7 270.1 450.8 265.3 450.9 263.1 451.0 260.2 451.0 256.1 451.1 250.5 451.2 256.7 451.3 262.4 451.4 274.3 451.5 269.7 451.6 287.6 451.7 280.4 451.8 286.3 451.9 277.2 452.0 272.0 452.1 269.7 452.2 268.3 452.3 268.8 452.3 272.2 452.4 269.3 452.5 264.6 452.6 265.9 452.7 267.2 452.8 268.5 452.9 269.8 453.0 277.7 453.1 280.8 453.2 281.8 453.3 290.7 453.4 291.0 453.5 291.6 453.5 292.5 453.6 290.2 453.7 292.7 453.8 292.7 453.9 292.7 454.0 292.7 454.1 292.7 454.2 292.7 454.3 292.7 454.4 292.7 454.5 292.7 454.6 292.7 454.7 292.7 454.8 292.7 454.8 292.7 454.9 292.7 455.0 292.7 455.1 292.7 455.2 292.7 455.3 292.7 455.4 292.7 455.5 292.7 455.6 292.7 455.7 292.7 455.8 292.7 455.9 292.7 456.0 292.7 456.1 292.7 456.1 292.7 456.2 292.7 456.3 292.7 456.4 292.7 456.5 292.7 456.6 292.7 456.7 292.7 456.8 292.7 456.9 292.7 457.0 292.7 457.1 292.7 457.2 292.7 457.3 292.7 457.4 292.7 457.4 292.7 457.5 292.7 457.6 292.7 457.7 292.7 457.8 292.7 457.9 292.7 458.0 292.7" stroke="#0000ff" stroke-width="1.7" fill="none" stroke-linejoin="round" stroke-linecap="round" clip-path="url(#c00)"/>
<path d="M102.00 292.7V289.09999999999997M102.00 37V40.6M220.67 292.7V289.09999999999997M220.67 37V40.6M339.33 292.7V289.09999999999997M339.33 37V40.6M458.00 292.7V289.09999999999997M458.00 37V40.6M102 292.70H105.6M458 292.70H454.4M102 228.77H105.6M458 228.77H454.4M102 164.85H105.6M458 164.85H454.4M102 100.93H105.6M458 100.93H454.4M102 37.00H105.6M458 37.00H454.4" stroke="#141414" stroke-width="2" fill="none"/>
<rect x="102" y="37" width="356" height="255.7" stroke="#141414" stroke-width="2" fill="none" stroke-linejoin="round"/>
<text x="102.00" y="323.70" text-anchor="middle" font-size="26" >0</text>
<text x="220.67" y="323.70" text-anchor="middle" font-size="26" >10</text>
<text x="339.33" y="323.70" text-anchor="middle" font-size="26" >20</text>
<text x="458.00" y="323.70" text-anchor="middle" font-size="26" >30</text>
<text x="94.00" y="302.50" text-anchor="end" font-size="26" >0</text>
<text x="94.00" y="238.57" text-anchor="end" font-size="26" >0.2</text>
<text x="94.00" y="174.65" text-anchor="end" font-size="26" >0.4</text>
<text x="94.00" y="110.73" text-anchor="end" font-size="26" >0.6</text>
<text x="94.00" y="46.80" text-anchor="end" font-size="26" >0.8</text>
<text x="280.00" y="31.00" text-anchor="middle" font-size="26" >Speech Envelope</text>
<text x="280.00" y="354.70" text-anchor="middle" font-size="26" >Time (s)</text>
<text x="0" y="0" text-anchor="middle" font-size="26" transform="translate(42.1,164.35) rotate(-90)">a.u.</text>
<text x="15.00" y="35.60" text-anchor="start" font-size="33.5" font-weight="bold">A</text>
<clipPath id="c10"><rect x="580" y="37" width="356" height="255.7"/></clipPath>
<path d="M580.0 164.8 580.1 156.4 580.3 172.6 580.4 189.9 580.5 177.6 580.7 192.7 580.8 163.2 580.9 127.2 581.1 178.7 581.2 182.3 581.3 151.1 581.5 154.8 581.6 232.4 581.7 191.0 581.8 165.7 582.0 145.3 582.1 202.7 582.2 177.7 582.4 218.3 582.5 201.1 582.6 216.7 582.8 171.5 582.9 200.5 583.0 157.2 583.2 160.4 583.3 170.1 583.4 235.6 583.6 180.0 583.7 166.2 583.8 161.7 584.0 207.9 584.1 178.3 584.2 192.4 584.4 187.6 584.5 135.0 584.6 187.6 584.7 165.8 584.9 140.0 585.0 181.3 585.1 255.0 585.3 161.7 585.4 163.1 585.5 199.3 585.7 162.7 585.8 126.6 585.9 208.4 586.1 140.7 586.2 161.5 586.3 182.9 586.5 108.6 586.6 143.4 586.7 198.6 586.9 99.7 587.0 148.6 587.1 170.2 587.3 145.6 587.4 166.7 587.5 146.1 587.7 124.4 587.8 183.9 587.9 159.1 588.0 177.9 588.2 161.3 588.3 198.2 588.4 181.1 588.6 170.4 588.7 139.6 588.8 132.6 589.0 202.1 589.1 187.2 589.2 146.7 589.4 225.3 589.5 177.9 589.6 167.6 589.8 129.5 589.9 145.5 590.0 174.1 590.2 175.2 590.3 171.9 590.4 122.0 590.6 176.9 590.7 173.4 590.8 154.9 590.9 168.2 591.1 170.4 591.2 196.2 591.3 165.2 591.5 177.3 591.6 132.1 591.7 146.5 591.9 165.5 592.0 146.1 592.1 174.4 592.3 135.3 592.4 165.0 592.5 148.4 592.7 201.2 592.8 155.1 592.9 212.3 593.1 222.1 593.2 173.4 593.3 190.2 593.5 160.2 593.6 101.7 593.7 188.2 593.8 182.4 594.0 159.1 594.1 151.0 594.2 169.8 594.4 170.6 594.5 145.1 594.6 150.2 594.8 193.9 594.9 167.1 595.0 163.9 595.2 194.5 595.3 157.5 595.4 189.0 595.6 137.5 595.7 159.4 595.8 162.3 596.0 181.5 596.1 168.2 596.2 221.0 596.4 196.7 596.5 154.6 596.6 224.7 596.8 141.0 596.9 214.0 597.0 143.6 597.1 188.6 597.3 142.9 597.4 161.2 597.5 208.1 597.7 129.7 597.8 124.3 597.9 166.7 598.1 172.6 598.2 169.3 598.3 192.3 598.5 134.0 598.6 180.1 598.7 166.3 598.9 187.2 599.0 182.5 599.1 200.8 599.3 129.5 599.4 169.2 599.5 137.7 599.7 164.5 599.8 184.4 599.9 174.0 600.0 180.6 600.2 164.6 600.3 175.4 600.4 173.3 600.6 203.6 600.7 187.5 600.8 118.3 601.0 183.7 601.1 194.5 601.2 155.4 601.4 125.3 601.5 205.7 601.6 170.7 601.8 182.6 601.9 214.4 602.0 144.2 602.2 165.5 602.3 162.8 602.4 186.0 602.6 152.1 602.7 180.0 602.8 168.9 603.0 99.2 603.1 199.1 603.2 127.3 603.3 179.1 603.5 156.6 603.6 165.8 603.7 177.3 603.9 179.1 604.0 147.1 604.1 173.3 604.3 169.1 604.4 164.2 604.5 131.8 604.7 145.7 604.8 154.1 604.9 180.7 605.1 203.7 605.2 138.1 605.3 137.7 605.5 168.8 605.6 149.6 605.7 142.9 605.9 141.5 606.0 138.9 606.1 177.7 606.2 122.2 606.4 199.9 606.5 140.6 606.6 151.0 606.8 140.3 606.9 112.0 607.0 123.1 607.2 197.1 607.3 212.3 607.4 141.9 607.6 193.4 607.7 165.2 607.8 141.2 608.0 211.1 608.1 224.2 608.2 157.6 608.4 163.6 608.5 171.8 608.6 163.8 608.8 189.1 608.9 239.6 609.0 169.5 609.2 192.2 609.3 211.1 609.4 150.6 609.5 166.6 609.7 153.4 609.8 192.7 609.9 183.4 610.1 193.0 610.2 189.8 610.3 159.4 610.5 186.9 610.6 154.8 610.7 155.3 610.9 107.9 611.0 204.0 611.1 139.9 611.3 167.4 611.4 165.2 611.5 205.6 611.7 177.8 611.8 143.9 611.9 167.2 612.1 45.0 612.2 173.0 612.3 132.4 612.4 165.5 612.6 226.7 612.7 184.3 612.8 220.2 613.0 246.7 613.1 179.8 613.2 127.3 613.4 163.5 613.5 197.8 613.6 191.3 613.8 133.0 613.9 160.4 614.0 163.5 614.2 166.4 614.3 163.8 614.4 142.2 614.6 149.3 614.7 158.8 614.8 194.2 615.0 150.5 615.1 184.1 615.2 134.1 615.3 200.6 615.5 168.7 615.6 165.1 615.7 202.1 615.9 116.4 616.0 234.8 616.1 177.9 616.3 143.1 616.4 154.2 616.5 238.4 616.7 157.8 616.8 166.6 616.9 162.5 617.1 195.1 617.2 172.4 617.3 169.9 617.5 131.4 617.6 155.4 617.7 165.0 617.9 121.8 618.0 180.5 618.1 175.8 618.3 215.9 618.4 120.7 618.5 137.7 618.6 139.1 618.8 146.0 618.9 161.8 619.0 158.8 619.2 171.9 619.3 170.6 619.4 163.3 619.6 122.3 619.7 149.2 619.8 166.5 620.0 181.1 620.1 182.7 620.2 119.8 620.4 94.5 620.5 163.0 620.6 174.6 620.8 196.0 620.9 166.7 621.0 140.3 621.2 175.9 621.3 171.2 621.4 171.1 621.5 161.8 621.7 209.7 621.8 171.5 621.9 188.9 622.1 140.0 622.2 186.5 622.3 148.6 622.5 122.0 622.6 173.7 622.7 181.8 622.9 159.5 623.0 164.9 623.1 192.8 623.3 151.9 623.4 108.2 623.5 172.1 623.7 170.6 623.8 194.2 623.9 155.9 624.1 199.9 624.2 196.0 624.3 128.9 624.5 190.3 624.6 134.4 624.7 122.0 624.8 157.6 625.0 149.3 625.1 109.9 625.2 170.4 625.4 181.5 625.5 246.7 625.6 163.7 625.8 123.2 625.9 137.9 626.0 191.3 626.2 188.9 626.3 179.0 626.4 156.6 626.6 170.6 626.7 158.8 626.8 156.5 627.0 173.3 627.1 166.0 627.2 159.0 627.4 167.2 627.5 150.7 627.6 112.2 627.7 148.2 627.9 163.3 628.0 212.3 628.1 153.9 628.3 219.6 628.4 204.5 628.5 140.8 628.7 145.0 628.8 169.1 628.9 212.9 629.1 175.3 629.2 183.9 629.3 146.9 629.5 101.3 629.6 158.7 629.7 186.8 629.9 197.8 630.0 166.4 630.1 169.8 630.3 197.2 630.4 161.6 630.5 197.2 630.6 133.6 630.8 135.0 630.9 134.3 631.0 178.2 631.2 150.4 631.3 168.6 631.4 175.8 631.6 174.4 631.7 201.4 631.8 205.5 632.0 142.5 632.1 170.2 632.2 158.8 632.4 136.7 632.5 213.6 632.6 186.9 632.8 159.9 632.9 153.8 633.0 175.5 633.2 135.9 633.3 158.9 633.4 199.0 633.6 191.0 633.7 142.2 633.8 92.1 633.9 218.3 634.1 126.9 634.2 148.0 634.3 127.1 634.5 175.6 634.6 173.2 634.7 196.5 634.9 93.5 635.0 169.8 635.1 120.2 635.3 183.1 635.4 160.2 635.5 211.9 635.7 175.6 635.8 137.2 635.9 200.1 636.1 134.7 636.2 155.4 636.3 194.2 636.5 179.0 636.6 177.8 636.7 166.2 636.8 179.9 637.0 188.1 637.1 173.4 637.2 193.7 637.4 82.6 637.5 166.2 637.6 140.0 637.8 207.9 637.9 164.8 638.0 183.1 638.2 192.3 638.3 140.8 638.4 179.4 638.6 249.1 638.7 186.8 638.8 154.0 639.0 171.2 639.1 186.1 639.2 148.3 639.4 169.2 639.5 147.9 639.6 166.2 639.8 195.4 639.9 167.7 640.0 163.4 640.1 137.9 640.3 190.3 640.4 166.0 640.5 213.3 640.7 146.5 640.8 195.3 640.9 215.7 641.1 166.5 641.2 133.8 641.3 207.7 641.5 195.5 641.6 185.8 641.7 196.6 641.9 154.2 642.0 187.6 642.1 185.1 642.3 148.4 642.4 186.1 642.5 152.7 642.7 192.2 642.8 198.9 642.9 216.5 643.0 112.5 643.2 173.9 643.3 158.0 643.4 165.7 643.6 160.4 643.7 163.5 643.8 111.2 644.0 194.1 644.1 99.7 644.2 193.3 644.4 202.4 644.5 143.8 644.6 141.8 644.8 191.9 644.9 204.0 645.0 174.8 645.2 125.7 645.3 244.2 645.4 150.0 645.6 195.1 645.7 135.6 645.8 195.2 646.0 172.9 646.1 207.2 646.2 192.3 646.3 125.9 646.5 141.8 646.6 176.1 646.7 189.3 646.9 218.1 647.0 236.0 647.1 165.7 647.3 167.2 647.4 167.5 647.5 196.4 647.7 166.7 647.8 165.9 647.9 128.6 648.1 112.3 648.2 168.7 648.3 186.4 648.5 166.7 648.6 181.9 648.7 185.7 648.9 95.7 649.0 194.2 649.1 147.8 649.2 167.8 649.4 157.8 649.5 170.0 649.6 185.3 649.8 191.5 649.9 171.5 650.0 180.3 650.2 158.3 650.3 165.0 650.4 203.2 650.6 163.0 650.7 202.6 650.8 182.2 651.0 173.1 651.1 223.2 651.2 162.3 651.4 160.6 651.5 169.3 651.6 176.8 651.8 175.4 651.9 192.3 652.0 172.4 652.1 180.4 652.3 162.3 652.4 94.5 652.5 158.2 652.7 160.8 652.8 168.8 652.9 177.2 653.1 149.3 653.2 211.7 653.3 151.9 653.5 158.0 653.6 156.9 653.7 154.1 653.9 183.2 654.0 172.1 654.1 146.9 654.3 152.7 654.4 159.0 654.5 207.4 654.7 149.7 654.8 132.0 654.9 136.5 655.1 158.3 655.2 208.7 655.3 138.3 655.4 169.0 655.6 236.1 655.7 154.2 655.8 206.8 656.0 201.3 656.1 182.7 656.2 129.1 656.4 175.3 656.5 222.9 656.6 115.7 656.8 120.0 656.9 167.8 657.0 171.6 657.2 200.3 657.3 184.4 657.4 152.9 657.6 153.7 657.7 109.9 657.8 136.9 658.0 186.6 658.1 166.4 658.2 144.3 658.3 148.4 658.5 134.7 658.6 153.7 658.7 173.6 658.9 154.7 659.0 193.0 659.1 211.0 659.3 148.5 659.4 166.4 659.5 156.2 659.7 212.6 659.8 175.1 659.9 181.7 660.1 189.2 660.2 228.3 660.3 174.3 660.5 139.6 660.6 154.1 660.7 181.8 660.9 165.3 661.0 143.6 661.1 242.5 661.3 168.4 661.4 149.6 661.5 145.7 661.6 117.0 661.8 132.9 661.9 156.1 662.0 156.4 662.2 142.7 662.3 180.0 662.4 166.0 662.6 139.4 662.7 109.8 662.8 169.3 663.0 166.2 663.1 159.3 663.2 127.1 663.4 165.7 663.5 123.5 663.6 192.0 663.8 170.1 663.9 170.4 664.0 142.7 664.2 135.4 664.3 207.3 664.4 190.6 664.5 155.4 664.7 183.4 664.8 207.7 664.9 135.6 665.1 151.0 665.2 151.0 665.3 178.2 665.5 135.9 665.6 171.6 665.7 134.0 665.9 190.5 666.0 188.9 666.1 159.1 666.3 184.6 666.4 145.9 666.5 157.5 666.7 190.8 666.8 162.8 666.9 174.7 667.1 139.1 667.2 182.6 667.3 177.2 667.5 130.8 667.6 101.9 667.7 108.6 667.8 163.1 668.0 158.7 668.1 121.7 668.2 168.3 668.4 93.3 668.5 161.6 668.6 152.2 668.8 188.2 668.9 211.2 669.0 205.3 669.2 146.1 669.3 186.2 669.4 168.8 669.6 158.9 669.7 147.4 669.8 174.3 670.0 150.8 670.1 189.9 670.2 175.0 670.4 193.7 670.5 133.0 670.6 165.6 670.7 245.5 670.9 174.8 671.0 171.1 671.1 145.1 671.3 209.7 671.4 194.0 671.5 175.5 671.7 93.6 671.8 138.0 671.9 168.0 672.1 144.8 672.2 107.0 672.3 171.4 672.5 175.2 672.6 130.8 672.7 151.0 672.9 146.0 673.0 179.1 673.1 110.7 673.3 116.8 673.4 148.9 673.5 145.6 673.6 221.9 673.8 146.9 673.9 170.3 674.0 152.6 674.2 145.7 674.3 174.4 674.4 212.4 674.6 154.5 674.7 185.7 674.8 174.1 675.0 181.9 675.1 174.5 675.2 229.8 675.4 130.6 675.5 157.7 675.6 133.6 675.8 109.2 675.9 164.2 676.0 215.5 676.2 190.0 676.3 198.8 676.4 179.0 676.6 162.6 676.7 221.2 676.8 155.2 676.9 207.3 677.1 156.5 677.2 167.9 677.3 173.7 677.5 166.9 677.6 180.0 677.7 182.1 677.9 212.2 678.0 165.7 678.1 112.9 678.3 109.1 678.4 127.7 678.5 145.0 678.7 183.9 678.8 124.3 678.9 166.4 679.1 232.4 679.2 173.0 679.3 162.3 679.5 177.1 679.6 167.2 679.7 83.8 679.8 175.4 680.0 100.7 680.1 166.8 680.2 171.6 680.4 149.9 680.5 144.9 680.6 196.2 680.8 170.7 680.9 139.0 681.0 157.3 681.2 161.4 681.3 121.1 681.4 183.9 681.6 162.5 681.7 179.5 681.8 122.9 682.0 219.7 682.1 183.7 682.2 179.7 682.4 146.2 682.5 147.8 682.6 125.6 682.8 209.1 682.9 143.7 683.0 173.1 683.1 183.6 683.3 149.7 683.4 190.7 683.5 223.3 683.7 175.3 683.8 207.0 683.9 183.1 684.1 154.4 684.2 156.1 684.3 120.2 684.5 170.5 684.6 208.0 684.7 186.1 684.9 190.7 685.0 199.1 685.1 152.6 685.3 183.0 685.4 220.5 685.5 145.2 685.7 168.0 685.8 154.8 685.9 161.9 686.0 147.1 686.2 163.8 686.3 130.1 686.4 152.9 686.6 153.8 686.7 153.3 686.8 205.8 687.0 169.5 687.1 172.1 687.2 159.0 687.4 203.1 687.5 118.9 687.6 161.9 687.8 198.9 687.9 212.9 688.0 252.6 688.2 167.4 688.3 185.1 688.4 162.3 688.6 182.9 688.7 149.3 688.8 185.2 688.9 165.9 689.1 137.3 689.2 92.5 689.3 193.2 689.5 177.9 689.6 188.5 689.7 142.8 689.9 197.1 690.0 178.5 690.1 165.7 690.3 192.4 690.4 191.8 690.5 178.2 690.7 223.9 690.8 205.5 690.9 176.5 691.1 160.7 691.2 170.1 691.3 214.7 691.5 177.9 691.6 142.4 691.7 149.2 691.9 167.1 692.0 189.8 692.1 147.1 692.2 181.1 692.4 197.7 692.5 187.4 692.6 124.1 692.8 158.7 692.9 132.2 693.0 178.3 693.2 138.5 693.3 77.3 693.4 169.3 693.6 94.9 693.7 143.3 693.8 178.9 694.0 167.2 694.1 155.7 694.2 130.8 694.4 178.6 694.5 213.8 694.6 172.7 694.8 164.4 694.9 161.8 695.0 127.8 695.1 155.9 695.3 142.0 695.4 195.8 695.5 140.4 695.7 105.9 695.8 143.1 695.9 157.7 696.1 160.5 696.2 114.6 696.3 190.9 696.5 168.0 696.6 151.9 696.7 143.9 696.9 177.2 697.0 156.2 697.1 172.7 697.3 161.5 697.4 168.6 697.5 197.0 697.7 165.4 697.8 140.2 697.9 192.0 698.1 171.6 698.2 146.2 698.3 194.9 698.4 159.7 698.6 194.7 698.7 132.9 698.8 99.8 699.0 108.0 699.1 171.0 699.2 144.0 699.4 161.4 699.5 162.0 699.6 121.3 699.8 202.0 699.9 135.2 700.0 166.2 700.2 125.2 700.3 159.6 700.4 183.8 700.6 157.1 700.7 144.1 700.8 163.8 701.0 151.1 701.1 179.5 701.2 224.9 701.3 139.5 701.5 145.2 701.6 243.1 701.7 162.9 701.9 135.7 702.0 177.7 702.1 184.7 702.3 170.2 702.4 131.4 702.5 203.9 702.7 131.3 702.8 182.8 702.9 195.8 703.1 129.4 703.2 167.6 703.3 201.4 703.5 174.9 703.6 138.7 703.7 131.3 703.9 176.9 704.0 153.4 704.1 144.8 704.3 183.0 704.4 154.9 704.5 165.7 704.6 179.9 704.8 178.7 704.9 163.0 705.0 164.0 705.2 180.8 705.3 176.8 705.4 133.5 705.6 158.8 705.7 140.0 705.8 131.0 706.0 148.3 706.1 101.0 706.2 188.1 706.4 142.1 706.5 173.8 706.6 112.7 706.8 117.0 706.9 219.8 707.0 192.1 707.2 90.4 707.3 142.6 707.4 144.1 707.5 166.8 707.7 152.0 707.8 146.5 707.9 167.0 708.1 136.0 708.2 228.4 708.3 147.0 708.5 193.9 708.6 137.9 708.7 171.3 708.9 189.8 709.0 154.3 709.1 190.5 709.3 190.5 709.4 208.9 709.5 165.6 709.7 150.9 709.8 136.1 709.9 168.8 710.1 135.4 710.2 164.3 710.3 167.5 710.4 148.7 710.6 135.1 710.7 174.5 710.8 171.7 711.0 169.4 711.1 162.5 711.2 190.2 711.4 135.9 711.5 176.1 711.6 151.8 711.8 188.1 711.9 238.4 712.0 153.8 712.2 176.7 712.3 108.0 712.4 154.4 712.6 114.9 712.7 137.9 712.8 183.5 713.0 175.6 713.1 152.6 713.2 163.1 713.4 163.5 713.5 232.4 713.6 215.7 713.7 171.2 713.9 227.2 714.0 154.4 714.1 185.3 714.3 185.0 714.4 171.0 714.5 157.2 714.7 205.1 714.8 214.0 714.9 194.8 715.1 222.3 715.2 192.0 715.3 120.1 715.5 194.6 715.6 146.5 715.7 203.4 715.9 156.4 716.0 173.8 716.1 166.5 716.3 148.9 716.4 92.1 716.5 159.4 716.6 161.4 716.8 192.2 716.9 148.4 717.0 171.8 717.2 141.4 717.3 166.1 717.4 115.9 717.6 220.6 717.7 173.2 717.8 140.1 718.0 174.7 718.1 187.1 718.2 172.3 718.4 203.7 718.5 161.5 718.6 96.2 718.8 132.6 718.9 196.0 719.0 189.4 719.2 176.2 719.3 136.6 719.4 188.0 719.6 184.3 719.7 140.0 719.8 140.5 719.9 175.4 720.1 196.3 720.2 208.4 720.3 184.5 720.5 227.6 720.6 239.6 720.7 182.6 720.9 151.3 721.0 112.3 721.1 131.9 721.3 197.2 721.4 140.4 721.5 132.3 721.7 185.8 721.8 191.7 721.9 167.9 722.1 209.9 722.2 123.5 722.3 232.5 722.5 196.0 722.6 172.4 722.7 171.2 722.8 160.2 723.0 157.2 723.1 170.9 723.2 132.9 723.4 225.0 723.5 164.9 723.6 184.9 723.8 161.1 723.9 158.6 724.0 190.5 724.2 182.9 724.3 142.6 724.4 155.0 724.6 184.0 724.7 107.5 724.8 99.9 725.0 206.0 725.1 156.4 725.2 94.3 725.4 73.5 725.5 158.6 725.6 170.7 725.8 180.1 725.9 170.8 726.0 180.3 726.1 143.9 726.3 176.0 726.4 177.3 726.5 198.7 726.7 166.2 726.8 190.0 726.9 169.9 727.1 135.5 727.2 154.6 727.3 150.7 727.5 154.8 727.6 163.2 727.7 168.4 727.9 173.5 728.0 143.5 728.1 195.3 728.3 127.1 728.4 163.9 728.5 185.9 728.7 178.6 728.8 183.9 728.9 160.3 729.0 185.0 729.2 132.7 729.3 186.8 729.4 228.8 729.6 185.4 729.7 221.3 729.8 166.0 730.0 135.1 730.1 146.6 730.2 202.5 730.4 186.3 730.5 114.8 730.6 155.9 730.8 164.7 730.9 135.1 731.0 95.9 731.2 128.4 731.3 160.9 731.4 154.9 731.6 147.5 731.7 182.1 731.8 194.6 731.9 163.4 732.1 191.5 732.2 166.6 732.3 162.1 732.5 99.0 732.6 188.8 732.7 168.3 732.9 169.5 733.0 152.5 733.1 135.4 733.3 178.6 733.4 188.0 733.5 211.0 733.7 190.9 733.8 149.8 733.9 163.6 734.1 193.4 734.2 175.3 734.3 164.0 734.5 227.7 734.6 181.5 734.7 171.9 734.9 216.0 735.0 197.2 735.1 119.3 735.2 226.4 735.4 174.4 735.5 158.7 735.6 175.4 735.8 187.6 735.9 166.6 736.0 165.0 736.2 167.2 736.3 217.7 736.4 169.0 736.6 188.9 736.7 180.3 736.8 158.5 737.0 146.8 737.1 139.6 737.2 178.8 737.4 138.9 737.5 131.8 737.6 132.9 737.8 125.8 737.9 168.9 738.0 169.7 738.1 141.6 738.3 203.3 738.4 159.0 738.5 179.8 738.7 175.2 738.8 213.8 738.9 189.9 739.1 165.4 739.2 139.9 739.3 137.0 739.5 167.1 739.6 170.2 739.7 188.2 739.9 153.5 740.0 171.8 740.1 147.8 740.3 115.6 740.4 165.8 740.5 207.0 740.7 189.1 740.8 205.9 740.9 198.5 741.1 91.6 741.2 158.5 741.3 207.6 741.4 146.5 741.6 129.4 741.7 175.0 741.8 183.9 742.0 174.3 742.1 247.9 742.2 146.8 742.4 131.6 742.5 130.7 742.6 131.5 742.8 126.5 742.9 146.2 743.0 207.9 743.2 168.5 743.3 156.0 743.4 175.6 743.6 139.2 743.7 175.0 743.8 190.9 744.0 124.2 744.1 146.1 744.2 158.7 744.3 138.8 744.5 135.0 744.6 155.3 744.7 234.0 744.9 183.9 745.0 177.7 745.1 192.5 745.3 159.3 745.4 131.3 745.5 178.5 745.7 196.8 745.8 107.8 745.9 177.5 746.1 199.5 746.2 158.2 746.3 152.9 746.5 184.7 746.6 142.6 746.7 178.6 746.9 104.0 747.0 159.8 747.1 143.2 747.3 182.7 747.4 155.6 747.5 167.5 747.6 85.4 747.8 184.8 747.9 125.9 748.0 166.3 748.2 168.4 748.3 144.6 748.4 139.7 748.6 129.2 748.7 155.6 748.8 181.7 749.0 180.0 749.1 150.5 749.2 148.5 749.4 125.5 749.5 153.1 749.6 135.0 749.8 122.2 749.9 160.2 750.0 206.6 750.2 198.0 750.3 205.3 750.4 120.1 750.5 188.7 750.7 130.2 750.8 148.4 750.9 116.6 751.1 136.6 751.2 167.7 751.3 170.5 751.5 162.5 751.6 159.9 751.7 179.8 751.9 165.8 752.0 119.6 752.1 212.7 752.3 157.6 752.4 190.4 752.5 159.6 752.7 141.2 752.8 166.5 752.9 143.1 753.1 209.6 753.2 133.7 753.3 181.8 753.4 147.3 753.6 159.7 753.7 237.6 753.8 186.1 754.0 158.6 754.1 121.1 754.2 156.8 754.4 157.6 754.5 204.6 754.6 124.6 754.8 114.0 754.9 164.0 755.0 171.0 755.2 255.0 755.3 140.0 755.4 88.8 755.6 144.7 755.7 129.3 755.8 149.6 756.0 192.6 756.1 127.3 756.2 199.6 756.4 170.8 756.5 157.0 756.6 140.0 756.7 153.1 756.9 154.0 757.0 186.3 757.1 201.1 757.3 163.1 757.4 184.8 757.5 109.9 757.7 200.5 757.8 178.6 757.9 217.0 758.1 202.8 758.2 210.8 758.3 159.7 758.5 153.4 758.6 108.4 758.7 207.0 758.9 184.0 759.0 139.2 759.1 170.9 759.3 174.0 759.4 116.8 759.5 174.4 759.6 197.4 759.8 201.9 759.9 155.4 760.0 156.3 760.2 203.4 760.3 192.6 760.4 237.2 760.6 148.6 760.7 182.9 760.8 147.3 761.0 148.8 761.1 215.0 761.2 173.6 761.4 153.2 761.5 181.0 761.6 225.0 761.8 172.8 761.9 143.7 762.0 120.4 762.2 226.5 762.3 91.3 762.4 196.6 762.6 137.9 762.7 130.1 762.8 137.2 762.9 160.6 763.1 197.5 763.2 147.2 763.3 185.0 763.5 235.8 763.6 85.3 763.7 103.5 763.9 113.7 764.0 190.5 764.1 123.6 764.3 120.1 764.4 121.1 764.5 165.4 764.7 198.7 764.8 169.8 764.9 226.8 765.1 212.7 765.2 162.3 765.3 192.7 765.5 169.5 765.6 167.9 765.7 110.5 765.8 128.4 766.0 166.1 766.1 130.8 766.2 186.8 766.4 174.3 766.5 139.2 766.6 199.8 766.8 172.7 766.9 202.0 767.0 104.0 767.2 118.9 767.3 186.0 767.4 158.5 767.6 190.1 767.7 197.2 767.8 199.6 768.0 123.9 768.1 98.4 768.2 151.3 768.4 185.0 768.5 145.0 768.6 174.3 768.7 142.3 768.9 156.7 769.0 157.0 769.1 147.8 769.3 181.1 769.4 176.2 769.5 213.3 769.7 177.3 769.8 204.9 769.9 168.9 770.1 191.8 770.2 162.0 770.3 152.1 770.5 204.8 770.6 187.7 770.7 191.4 770.9 143.9 771.0 116.9 771.1 140.9 771.3 174.7 771.4 123.6 771.5 207.4 771.7 122.7 771.8 183.3 771.9 243.1 772.0 90.3 772.2 120.5 772.3 193.9 772.4 160.1 772.6 170.9 772.7 162.0 772.8 206.6 773.0 184.0 773.1 151.7 773.2 158.6 773.4 131.1 773.5 243.1 773.6 98.8 773.8 185.0 773.9 157.6 774.0 218.8 774.2 200.1 774.3 127.5 774.4 191.4 774.6 149.9 774.7 166.6 774.8 194.2 774.9 174.6 775.1 179.3 775.2 178.6 775.3 143.7 775.5 146.5 775.6 181.1 775.7 190.4 775.9 156.9 776.0 167.7 776.1 135.9 776.3 90.2 776.4 141.1 776.5 165.8 776.7 169.7 776.8 188.9 776.9 190.4 777.1 193.1 777.2 176.0 777.3 176.9 777.5 143.9 777.6 176.1 777.7 170.4 777.9 199.1 778.0 118.6 778.1 150.6 778.2 114.5 778.4 142.4 778.5 123.0 778.6 171.8 778.8 144.7 778.9 88.8 779.0 199.3 779.2 131.8 779.3 117.1 779.4 153.0 779.6 143.3 779.7 128.9 779.8 183.7 780.0 153.1 780.1 189.8 780.2 184.3 780.4 182.6 780.5 169.0 780.6 160.6 780.8 151.8 780.9 205.7 781.0 107.8 781.1 131.6 781.3 143.9 781.4 175.2 781.5 167.4 781.7 149.1 781.8 251.9 781.9 213.3 782.1 143.5 782.2 83.0 782.3 218.1 782.5 136.2 782.6 154.2 782.7 168.1 782.9 125.3 783.0 199.0 783.1 160.2 783.3 122.6 783.4 170.5 783.5 176.9 783.7 161.5 783.8 177.7 783.9 120.2 784.1 191.1 784.2 96.4 784.3 201.0 784.4 145.5 784.6 167.9 784.7 239.5 784.8 165.0 785.0 195.7 785.1 177.7 785.2 120.4 785.4 197.2 785.5 195.5 785.6 123.2 785.8 161.5 785.9 120.3 786.0 155.5 786.2 190.4 786.3 166.8 786.4 129.3 786.6 137.6 786.7 164.8 786.8 163.4 787.0 168.1 787.1 181.6 787.2 109.0 787.3 164.6 787.5 197.6 787.6 178.6 787.7 143.8 787.9 146.3 788.0 168.8 788.1 184.2 788.3 164.2 788.4 213.2 788.5 202.5 788.7 141.7 788.8 178.7 788.9 244.3 789.1 129.6 789.2 146.1 789.3 164.3 789.5 103.3 789.6 145.5 789.7 175.1 789.9 143.7 790.0 153.1 790.1 189.6 790.2 162.7 790.4 169.6 790.5 221.7 790.6 169.8 790.8 173.0 790.9 177.5 791.0 212.4 791.2 175.1 791.3 166.0 791.4 161.9 791.6 197.7 791.7 146.6 791.8 200.0 792.0 171.3 792.1 127.1 792.2 184.9 792.4 179.6 792.5 133.8 792.6 176.0 792.8 173.4 792.9 158.5 793.0 134.5 793.2 228.5 793.3 188.8 793.4 194.0 793.5 196.2 793.7 189.5 793.8 189.1 793.9 156.2 794.1 81.4 794.2 161.3 794.3 153.3 794.5 185.9 794.6 161.1 794.7 117.7 794.9 155.6 795.0 183.2 795.1 166.7 795.3 191.2 795.4 157.1 795.5 140.0 795.7 188.4 795.8 170.9 795.9 132.9 796.1 238.4 796.2 159.4 796.3 194.3 796.4 188.4 796.6 179.6 796.7 103.6 796.8 176.4 797.0 179.8 797.1 180.7 797.2 169.5 797.4 146.4 797.5 159.5 797.6 107.0 797.8 158.8 797.9 124.1 798.0 157.1 798.2 147.8 798.3 205.5 798.4 168.4 798.6 166.8 798.7 171.7 798.8 225.4 799.0 140.1 799.1 175.7 799.2 177.2 799.4 172.0 799.5 171.3 799.6 56.4 799.7 200.6 799.9 191.0 800.0 156.7 800.1 160.8 800.3 175.4 800.4 181.0 800.5 188.3 800.7 166.5 800.8 131.6 800.9 194.6 801.1 122.0 801.2 141.1 801.3 177.6 801.5 142.8 801.6 206.1 801.7 213.6 801.9 201.1 802.0 176.4 802.1 174.0 802.3 179.3 802.4 162.1 802.5 224.9 802.6 150.9 802.8 204.8 802.9 183.4 803.0 176.5 803.2 197.4 803.3 203.4 803.4 193.1 803.6 165.2 803.7 148.3 803.8 252.6 804.0 192.8 804.1 187.1 804.2 190.7 804.4 152.2 804.5 222.2 804.6 130.0 804.8 178.5 804.9 186.9 805.0 155.3 805.2 135.8 805.3 155.2 805.4 135.2 805.6 161.1 805.7 130.3 805.8 129.8 805.9 167.6 806.1 124.4 806.2 160.2 806.3 162.4 806.5 190.8 806.6 173.0 806.7 143.0 806.9 201.8 807.0 146.6 807.1 155.0 807.3 157.0 807.4 226.9 807.5 167.8 807.7 146.6 807.8 186.3 807.9 162.3 808.1 231.7 808.2 146.0 808.3 183.5 808.5 140.3 808.6 101.1 808.7 145.4 808.8 171.5 809.0 142.1 809.1 190.9 809.2 182.2 809.4 101.8 809.5 188.2 809.6 184.7 809.8 172.6 809.9 193.6 810.0 131.4 810.2 116.3 810.3 184.7 810.4 213.4 810.6 131.9 810.7 133.7 810.8 141.7 811.0 132.3 811.1 189.3 811.2 169.6 811.4 203.8 811.5 204.7 811.6 137.3 811.7 183.7 811.9 100.7 812.0 162.8 812.1 182.9 812.3 142.4 812.4 114.2 812.5 151.2 812.7 199.1 812.8 154.4 812.9 126.2 813.1 178.7 813.2 186.6 813.3 136.3 813.5 160.9 813.6 195.9 813.7 175.5 813.9 186.1 814.0 156.5 814.1 161.8 814.3 132.5 814.4 144.9 814.5 208.8 814.7 153.4 814.8 139.6 814.9 152.0 815.0 135.9 815.2 180.3 815.3 191.6 815.4 138.7 815.6 194.8 815.7 225.6 815.8 136.0 816.0 185.2 816.1 173.5 816.2 204.2 816.4 202.1 816.5 197.4 816.6 175.0 816.8 154.4 816.9 229.5 817.0 143.7 817.2 198.1 817.3 194.8 817.4 145.8 817.6 166.9 817.7 208.1 817.8 113.0 817.9 189.1 818.1 157.9 818.2 80.2 818.3 125.2 818.5 177.7 818.6 136.5 818.7 185.7 818.9 133.3 819.0 186.3 819.1 175.0 819.3 111.5 819.4 155.9 819.5 161.8 819.7 101.8 819.8 154.7 819.9 187.8 820.1 144.2 820.2 198.1 820.3 133.1 820.5 130.9 820.6 244.3 820.7 182.5 820.9 159.9 821.0 164.5 821.1 192.3 821.2 148.9 821.4 222.3 821.5 177.0 821.6 176.2 821.8 172.5 821.9 156.2 822.0 199.4 822.2 148.3 822.3 169.9 822.4 183.1 822.6 203.3 822.7 198.1 822.8 154.7 823.0 192.0 823.1 163.0 823.2 135.0 823.4 135.8 823.5 121.0 823.6 173.2 823.8 195.4 823.9 136.1 824.0 156.1 824.1 133.2 824.3 164.5 824.4 131.2 824.5 141.0 824.7 144.7 824.8 150.7 824.9 153.7 825.1 158.3 825.2 158.5 825.3 137.0 825.5 179.3 825.6 116.0 825.7 167.8 825.9 137.1 826.0 167.4 826.1 171.8 826.3 107.7 826.4 173.6 826.5 200.8 826.7 184.9 826.8 173.8 826.9 104.2 827.1 159.0 827.2 138.6 827.3 193.0 827.4 154.9 827.6 146.0 827.7 114.2 827.8 184.4 828.0 147.9 828.1 156.3 828.2 193.6 828.4 165.4 828.5 172.3 828.6 230.3 828.8 148.0 828.9 149.7 829.0 177.2 829.2 202.5 829.3 225.3 829.4 157.4 829.6 136.3 829.7 125.2 829.8 179.5 830.0 142.0 830.1 171.6 830.2 166.6 830.3 167.3 830.5 164.9 830.6 133.5 830.7 161.4 830.9 169.2 831.0 172.6 831.1 155.2 831.3 89.2 831.4 179.0 831.5 166.3 831.7 180.8 831.8 168.2 831.9 182.0 832.1 108.5 832.2 127.5 832.3 152.2 832.5 166.4 832.6 103.2 832.7 155.8 832.9 167.3 833.0 156.3 833.1 156.2 833.2 125.2 833.4 165.4 833.5 105.8 833.6 189.7 833.8 145.3 833.9 193.0 834.0 233.6 834.2 174.1 834.3 166.5 834.4 138.9 834.6 129.5 834.7 196.1 834.8 174.6 835.0 204.1 835.1 161.0 835.2 167.7 835.4 174.7 835.5 184.1 835.6 175.7 835.8 185.8 835.9 150.0 836.0 122.2 836.2 219.2 836.3 168.1 836.4 176.6 836.5 151.0 836.7 191.6 836.8 169.0 836.9 194.1 837.1 145.3 837.2 162.1 837.3 169.4 837.5 154.4 837.6 171.8 837.7 208.6 837.9 148.1 838.0 156.7 838.1 169.2 838.3 137.1 838.4 130.6 838.5 195.6 838.7 186.8 838.8 121.3 838.9 124.9 839.1 185.6 839.2 198.1 839.3 182.8 839.4 178.9 839.6 209.4 839.7 164.0 839.8 200.9 840.0 198.9 840.1 139.1 840.2 184.1 840.4 166.9 840.5 147.2 840.6 142.0 840.8 174.3 840.9 163.6 841.0 265.0 841.2 115.7 841.3 146.6 841.4 195.9 841.6 164.7 841.7 144.8 841.8 151.4 842.0 113.4 842.1 126.3 842.2 180.0 842.4 167.4 842.5 200.9 842.6 157.8 842.7 160.6 842.9 88.8 843.0 162.1 843.1 223.7 843.3 183.8 843.4 161.7 843.5 81.4 843.7 189.2 843.8 175.1 843.9 155.2 844.1 169.5 844.2 189.9 844.3 142.7 844.5 180.0 844.6 178.9 844.7 203.7 844.9 187.0 845.0 146.5 845.1 210.3 845.3 166.9 845.4 144.7 845.5 175.5 845.6 158.1 845.8 196.3 845.9 128.0 846.0 133.9 846.2 158.2 846.3 214.2 846.4 194.3 846.6 137.4 846.7 74.2 846.8 156.5 847.0 129.8 847.1 181.9 847.2 170.2 847.4 164.8 847.5 152.9 847.6 207.9 847.8 138.4 847.9 127.7 848.0 197.2 848.2 203.0 848.3 226.5 848.4 183.3 848.5 231.5 848.7 142.1 848.8 160.5 848.9 178.3 849.1 75.4 849.2 160.9 849.3 186.0 849.5 162.0 849.6 194.1 849.7 186.3 849.9 154.0 850.0 180.4 850.1 177.5 850.3 117.9 850.4 140.7 850.5 142.3 850.7 150.0 850.8 151.2 850.9 123.9 851.1 165.4 851.2 112.7 851.3 191.6 851.5 172.0 851.6 203.6 851.7 174.5 851.8 150.3 852.0 124.0 852.1 183.5 852.2 164.7 852.4 175.0 852.5 185.6 852.6 198.3 852.8 163.1 852.9 213.6 853.0 161.7 853.2 164.3 853.3 183.4 853.4 193.3 853.6 203.8 853.7 112.2 853.8 202.6 854.0 121.0 854.1 148.0 854.2 175.1 854.4 197.4 854.5 135.5 854.6 116.2 854.7 191.1 854.9 173.3 855.0 135.3 855.1 155.4 855.3 108.6 855.4 180.9 855.5 149.6 855.7 200.0 855.8 105.9 855.9 185.4 856.1 227.0 856.2 168.4 856.3 168.8 856.5 111.0 856.6 174.4 856.7 165.2 856.9 148.2 857.0 120.2 857.1 166.6 857.3 135.6 857.4 150.3 857.5 173.2 857.7 162.7 857.8 164.0 857.9 190.6 858.0 130.7 858.2 203.8 858.3 131.9 858.4 138.0 858.6 167.5 858.7 186.4 858.8 171.2 859.0 151.6 859.1 143.9 859.2 156.8 859.4 136.9 859.5 180.5 859.6 158.3 859.8 209.0 859.9 143.4 860.0 160.5 860.2 176.5 860.3 132.2 860.4 145.4 860.6 244.1 860.7 163.7 860.8 205.8 860.9 134.8 861.1 94.8 861.2 179.4 861.3 162.8 861.5 171.9 861.6 155.0 861.7 146.7 861.9 82.6 862.0 192.6 862.1 120.6 862.3 191.1 862.4 157.1 862.5 132.3 862.7 144.8 862.8 191.2 862.9 184.6 863.1 177.9 863.2 166.3 863.3 132.6 863.5 201.2 863.6 151.7 863.7 147.7 863.9 73.1 864.0 151.7 864.1 122.1 864.2 151.1 864.4 140.7 864.5 149.0 864.6 114.4 864.8 218.3 864.9 128.8 865.0 172.2 865.2 172.7 865.3 192.1 865.4 217.4 865.6 175.6 865.7 184.2 865.8 151.0 866.0 206.3 866.1 124.6 866.2 226.5 866.4 171.8 866.5 184.8 866.6 187.0 866.8 196.6 866.9 180.2 867.0 164.7 867.1 169.8 867.3 204.6 867.4 172.3 867.5 190.0 867.7 160.4 867.8 112.4 867.9 147.3 868.1 173.7 868.2 210.6 868.3 204.6 868.5 212.3 868.6 144.4 868.7 186.4 868.9 163.1 869.0 182.3 869.1 162.3 869.3 125.4 869.4 184.1 869.5 174.4 869.7 187.5 869.8 140.3 869.9 193.7 870.0 196.7 870.2 203.9 870.3 204.5 870.4 151.6 870.6 92.6 870.7 192.8 870.8 138.1 871.0 157.8 871.1 195.8 871.2 172.6 871.4 171.4 871.5 184.3 871.6 110.5 871.8 218.5 871.9 154.1 872.0 155.5 872.2 238.4 872.3 160.6 872.4 140.2 872.6 160.6 872.7 153.1 872.8 145.4 873.0 222.0 873.1 123.3 873.2 100.8 873.3 137.3 873.5 136.3 873.6 204.5 873.7 55.2 873.9 187.7 874.0 181.4 874.1 137.7 874.3 187.5 874.4 168.5 874.5 218.5 874.7 169.3 874.8 162.3 874.9 184.7 875.1 185.1 875.2 111.8 875.3 198.9 875.5 194.4 875.6 187.6 875.7 131.1 875.9 105.7 876.0 155.5 876.1 185.0 876.2 176.9 876.4 134.9 876.5 190.5 876.6 124.0 876.8 125.0 876.9 162.9 877.0 146.7 877.2 143.8 877.3 121.1 877.4 194.4 877.6 131.6 877.7 175.4 877.8 186.4 878.0 162.0 878.1 276.9 878.2 192.6 878.4 209.8 878.5 191.3 878.6 124.0 878.8 109.6 878.9 146.6 879.0 131.5 879.2 179.4 879.3 167.0 879.4 156.9 879.5 195.3 879.7 192.7 879.8 162.1 879.9 86.9 880.1 194.8 880.2 154.0 880.3 172.3 880.5 136.1 880.6 165.0 880.7 173.3 880.9 161.3 881.0 169.7 881.1 183.6 881.3 176.2 881.4 143.8 881.5 146.7 881.7 128.7 881.8 212.5 881.9 175.9 882.1 176.5 882.2 160.0 882.3 177.6 882.4 179.3 882.6 142.8 882.7 159.8 882.8 197.7 883.0 127.3 883.1 136.8 883.2 181.0 883.4 141.5 883.5 185.5 883.6 133.2 883.8 171.0 883.9 187.4 884.0 175.3 884.2 186.4 884.3 159.4 884.4 159.9 884.6 163.8 884.7 180.5 884.8 246.7 885.0 162.2 885.1 218.2 885.2 158.0 885.4 133.0 885.5 157.1 885.6 175.8 885.7 169.9 885.9 168.6 886.0 180.3 886.1 181.3 886.3 190.8 886.4 131.4 886.5 165.3 886.7 138.0 886.8 171.9 886.9 162.8 887.1 169.6 887.2 151.8 887.3 141.6 887.5 158.1 887.6 183.8 887.7 186.8 887.9 118.2 888.0 172.7 888.1 173.0 888.3 123.6 888.4 134.3 888.5 149.8 888.6 176.1 888.8 98.7 888.9 153.8 889.0 149.5 889.2 169.7 889.3 204.6 889.4 202.4 889.6 153.4 889.7 153.8 889.8 171.6 890.0 197.8 890.1 205.4 890.2 174.1 890.4 205.8 890.5 139.6 890.6 132.4 890.8 85.3 890.9 140.1 891.0 181.5 891.2 189.4 891.3 246.7 891.4 181.6 891.5 169.8 891.7 137.6 891.8 147.6 891.9 148.3 892.1 158.8 892.2 146.3 892.3 124.1 892.5 194.8 892.6 177.7 892.7 203.9 892.9 119.3 893.0 68.3 893.1 143.7 893.3 198.6 893.4 160.0 893.5 171.4 893.7 162.6 893.8 170.1 893.9 150.2 894.1 176.0 894.2 140.8 894.3 158.1 894.5 173.1 894.6 168.0 894.7 177.2 894.8 142.0 895.0 172.5 895.1 156.6 895.2 175.9 895.4 206.6 895.5 139.4 895.6 194.6 895.8 145.7 895.9 153.0 896.0 211.4 896.2 191.4 896.3 179.3 896.4 187.9 896.6 67.6 896.7 144.0 896.8 171.6 897.0 154.0 897.1 177.0 897.2 156.3 897.4 186.0 897.5 165.6 897.6 148.5 897.7 163.6 897.9 177.7 898.0 195.4 898.1 160.1 898.3 155.1 898.4 172.1 898.5 186.5 898.7 149.6 898.8 95.0 898.9 173.4 899.1 155.4 899.2 154.2 899.3 237.0 899.5 161.4 899.6 184.7 899.7 125.9 899.9 172.0 900.0 186.7 900.1 171.0 900.3 160.2 900.4 180.6 900.5 166.3 900.7 202.9 900.8 171.2 900.9 143.0 901.0 109.5 901.2 94.5 901.3 157.2 901.4 131.6 901.6 136.2 901.7 118.1 901.8 252.6 902.0 168.2 902.1 157.6 902.2 159.8 902.4 156.4 902.5 159.2 902.6 186.9 902.8 224.0 902.9 183.7 903.0 221.8 903.2 162.9 903.3 164.7 903.4 212.0 903.6 145.5 903.7 140.5 903.8 162.2 903.9 117.9 904.1 112.2 904.2 198.8 904.3 135.7 904.5 152.5 904.6 153.1 904.7 138.6 904.9 185.1 905.0 181.5 905.1 188.1 905.3 186.1 905.4 167.6 905.5 205.7 905.7 194.3 905.8 148.6 905.9 166.8 906.1 154.1 906.2 218.0 906.3 186.9 906.5 180.5 906.6 163.9 906.7 181.3 906.8 138.6 907.0 166.5 907.1 164.4 907.2 164.5 907.4 144.9 907.5 178.1 907.6 133.3 907.8 96.8 907.9 160.5 908.0 163.7 908.2 150.2 908.3 136.3 908.4 138.3 908.6 154.3 908.7 140.2 908.8 161.5 909.0 129.6 909.1 165.6 909.2 223.2 909.4 127.2 909.5 161.8 909.6 197.8 909.8 170.4 909.9 189.7 910.0 105.8 910.1 150.9 910.3 209.0 910.4 149.5 910.5 176.1 910.7 110.9 910.8 194.5 910.9 228.1 911.1 163.0 911.2 174.6 911.3 176.6 911.5 225.1 911.6 152.8 911.7 117.8 911.9 218.5 912.0 131.9 912.1 180.8 912.3 98.8 912.4 152.6 912.5 244.3 912.7 133.8 912.8 150.1 912.9 181.5 913.0 144.9 913.2 179.2 913.3 215.2 913.4 107.7 913.6 174.7 913.7 182.0 913.8 155.3 914.0 208.7 914.1 202.9 914.2 178.9 914.4 179.5 914.5 162.8 914.6 133.3 914.8 178.2 914.9 99.7 915.0 147.9 915.2 195.3 915.3 158.4 915.4 191.4 915.6 134.9 915.7 152.0 915.8 164.4 916.0 202.5 916.1 161.6 916.2 186.4 916.3 145.0 916.5 168.2 916.6 187.7 916.7 138.8 916.9 144.6 917.0 181.5 917.1 132.2 917.3 173.2 917.4 173.5 917.5 161.4 917.7 186.0 917.8 177.3 917.9 169.4 918.1 121.8 918.2 122.7 918.3 172.1 918.5 119.6 918.6 166.1 918.7 154.1 918.9 140.0 919.0 156.6 919.1 96.9 919.2 158.0 919.4 198.5 919.5 128.1 919.6 176.4 919.8 173.4 919.9 246.7 920.0 136.7 920.2 141.8 920.3 142.4 920.4 137.3 920.6 117.3 920.7 166.1 920.8 138.5 921.0 185.8 921.1 174.8 921.2 135.1 921.4 153.8 921.5 202.4 921.6 154.7 921.8 170.0 921.9 187.9 922.0 152.6 922.2 176.2 922.3 209.0 922.4 196.1 922.5 115.1 922.7 207.5 922.8 244.3 922.9 147.7 923.1 146.9 923.2 199.3 923.3 173.9 923.5 160.9 923.6 142.3 923.7 86.1 923.9 197.6 924.0 136.7 924.1 133.8 924.3 154.4 924.4 182.0 924.5 153.4 924.7 161.8 924.8 141.3 924.9 200.0 925.1 161.6 925.2 169.3 925.3 196.1 925.4 158.8 925.6 163.9 925.7 176.4 925.8 153.7 926.0 204.8 926.1 166.4 926.2 152.7 926.4 156.9 926.5 134.6 926.6 198.6 926.8 64.0 926.9 158.1 927.0 152.0 927.2 105.2 927.3 147.5 927.4 189.4 927.6 142.2 927.7 188.6 927.8 206.6 928.0 91.5 928.1 155.7 928.2 144.7 928.3 149.0 928.5 113.9 928.6 156.9 928.7 130.6 928.9 193.7 929.0 204.0 929.1 124.7 929.3 123.4 929.4 150.5 929.5 158.5 929.7 160.2 929.8 184.2 929.9 121.6 930.1 146.3 930.2 150.6 930.3 154.3 930.5 135.4 930.6 150.6 930.7 143.9 930.9 197.7 931.0 150.5 931.1 92.6 931.3 179.4 931.4 168.5 931.5 139.8 931.6 137.9 931.8 147.3 931.9 210.3 932.0 150.7 932.2 198.1 932.3 188.0 932.4 149.4 932.6 173.2 932.7 142.1 932.8 83.0 933.0 143.0 933.1 144.5 933.2 190.0 933.4 182.9 933.5 194.8 933.6 179.8 933.8 195.6 933.9 183.4 934.0 170.7 934.2 193.0 934.3 204.8 934.4 203.1 934.5 152.1 934.7 163.2 934.8 136.0 934.9 135.5 935.1 263.4 935.2 146.0 935.3 205.4 935.5 100.6 935.6 131.2 935.7 170.9 935.9 197.6 936.0 154.2" stroke="#0000ff" stroke-width="1.5" fill="none" stroke-linejoin="round" stroke-linecap="round" clip-path="url(#c10)"/>
<path d="M580.00 292.7V289.09999999999997M580.00 37V40.6M698.67 292.7V289.09999999999997M698.67 37V40.6M817.33 292.7V289.09999999999997M817.33 37V40.6M936.00 292.7V289.09999999999997M936.00 37V40.6M580 292.70H583.6M936 292.70H932.4M580 164.85H583.6M936 164.85H932.4M580 37.00H583.6M936 37.00H932.4" stroke="#141414" stroke-width="2" fill="none"/>
<rect x="580" y="37" width="356" height="255.7" stroke="#141414" stroke-width="2" fill="none" stroke-linejoin="round"/>
<text x="580.00" y="323.70" text-anchor="middle" font-size="26" >0</text>
<text x="698.67" y="323.70" text-anchor="middle" font-size="26" >10</text>
<text x="817.33" y="323.70" text-anchor="middle" font-size="26" >20</text>
<text x="936.00" y="323.70" text-anchor="middle" font-size="26" >30</text>
<text x="572.00" y="302.50" text-anchor="end" font-size="26" >−0.5</text>
<text x="572.00" y="174.65" text-anchor="end" font-size="26" >0</text>
<text x="572.00" y="46.80" text-anchor="end" font-size="26" >0.5</text>
<text x="758.00" y="31.00" text-anchor="middle" font-size="26" >Gaussian White Noise</text>
<text x="758.00" y="354.70" text-anchor="middle" font-size="26" >Time (s)</text>
<text x="0" y="0" text-anchor="middle" font-size="26" transform="translate(505.5,164.35) rotate(-90)">a.u.</text>
<text x="492.30" y="35.30" text-anchor="start" font-size="33.5" font-weight="bold">B</text>
<clipPath id="c01"><rect x="102" y="397" width="356" height="255.70000000000005"/></clipPath>
<path d="M100.0 608.3 100.3 607.8 100.6 608.8 100.9 609.4 101.2 610.0 101.5 609.1 101.8 608.5 102.1 608.3 102.4 609.6 102.7 610.1 103.0 608.6 103.3 606.9 103.6 606.9 103.9 608.9 104.2 607.3 104.5 605.6 104.8 607.1 105.1 606.1 105.4 606.6 105.7 606.7 106.0 606.5 106.3 608.0 106.6 607.8 106.9 607.8 107.2 609.1 107.5 609.9 107.8 608.3 108.1 610.1 108.4 610.1 108.7 611.4 109.0 610.9 109.3 612.4 109.6 612.7 109.9 612.9 110.2 612.6 110.5 613.5 110.8 613.1 111.1 612.8 111.4 614.1 111.7 612.9 112.0 614.8 112.3 614.4 112.6 611.8 112.9 613.7 113.2 612.2 113.5 613.0 113.8 612.9 114.1 611.0 114.4 612.7 114.7 612.7 115.0 613.9 115.3 612.1 115.6 613.4 115.9 611.2 116.2 611.4 116.5 610.5 116.8 612.3 117.1 612.0 117.4 614.1 117.7 613.0 118.0 613.9 118.3 614.6 118.6 614.0 118.9 613.9 119.2 614.5 119.5 612.4 119.8 612.1 120.1 611.1 120.4 610.9 120.7 609.2 121.0 608.6 121.3 608.2 121.6 607.2 121.9 605.6 122.2 606.3 122.5 603.4 122.8 602.5 123.1 601.4 123.4 602.5 123.7 600.3 124.0 599.1 124.3 598.4 124.6 599.2 124.9 599.0 125.2 600.0 125.5 602.9 125.8 602.5 126.1 604.5 126.4 605.9 126.7 605.6 127.0 605.6 127.3 606.6 127.6 605.2 127.9 605.2 128.2 605.2 128.5 607.3 128.8 607.8 129.1 608.9 129.4 608.3 129.7 607.7 130.0 606.9 130.3 606.5 130.6 606.5 130.9 604.9 131.2 604.1 131.5 604.5 131.8 602.0 132.1 599.2 132.4 601.9 132.7 600.3 133.0 599.0 133.3 602.2 133.6 602.9 133.9 603.8 134.2 605.3 134.5 606.5 134.8 608.9 135.1 611.3 135.4 611.6 135.7 613.7 136.0 613.6 136.3 608.8 136.6 608.0 136.9 607.9 137.2 608.8 137.5 610.3 137.8 612.2 138.1 613.2 138.4 612.9 138.7 613.1 139.0 612.5 139.3 610.9 139.6 610.1 139.9 608.4 140.2 607.0 140.5 606.8 140.8 604.3 141.1 605.9 141.4 609.4 141.7 611.0 142.0 613.9 142.3 617.0 142.6 618.9 142.9 619.7 143.2 616.8 143.5 614.0 143.8 615.7 144.1 613.8 144.4 610.6 144.7 611.6 145.0 609.2 145.3 606.4 145.6 606.5 145.9 605.5 146.2 606.5 146.5 603.8 146.8 604.9 147.1 605.4 147.4 605.8 147.7 604.7 148.0 605.2 148.3 605.3 148.6 605.5 148.9 604.7 149.2 605.1 149.5 607.7 149.8 608.5 150.1 610.0 150.4 610.3 150.7 614.8 151.0 615.1 151.3 612.6 151.6 612.8 151.9 611.7 152.2 608.9 152.5 612.4 152.8 614.3 153.1 615.5 153.4 613.6 153.7 612.3 154.0 610.8 154.3 610.4 154.6 608.6 154.9 604.1 155.2 601.6 155.5 602.8 155.8 597.8 156.1 597.5 156.4 597.5 156.7 597.3 157.0 597.2 157.3 596.0 157.6 594.2 157.9 594.6 158.2 593.5 158.5 594.0 158.8 593.7 159.1 594.0 159.4 595.8 159.7 600.2 160.0 600.6 160.3 601.1 160.6 603.8 160.9 604.7 161.2 603.1 161.5 598.4 161.8 597.9 162.1 600.7 162.4 602.0 162.7 605.1 163.0 607.5 163.3 608.1 163.6 607.9 163.9 609.1 164.2 611.7 164.5 612.3 164.8 613.3 165.1 613.4 165.4 615.0 165.7 615.7 166.0 619.0 166.3 617.0 166.6 618.9 166.9 619.5 167.2 618.8 167.5 620.9 167.8 619.1 168.1 622.4 168.4 624.3 168.7 622.5 169.0 622.4 169.3 622.9 169.6 620.2 169.9 616.7 170.2 614.4 170.5 611.2 170.8 612.2 171.1 612.8 171.4 613.1 171.7 613.6 172.0 615.1 172.3 617.2 172.6 617.4 172.9 618.8 173.2 619.3 173.5 619.6 173.8 621.7 174.1 624.4 174.4 623.3 174.7 617.6 175.0 612.2 175.3 609.5 175.6 606.7 175.9 604.3 176.2 602.1 176.5 602.1 176.8 601.5 177.1 601.5 177.4 600.5 177.7 600.0 178.0 598.6 178.3 594.0 178.6 590.5 178.9 588.1 179.2 585.4 179.5 584.3 179.8 584.6 180.1 585.6 180.4 586.9 180.7 589.3 181.0 587.9 181.3 588.7 181.6 590.4 181.9 596.8 182.2 599.5 182.5 600.8 182.8 602.7 183.1 605.2 183.4 606.5 183.7 607.9 184.0 608.7 184.3 613.8 184.6 615.9 184.9 619.3 185.2 621.3 185.5 620.6 185.8 624.7 186.1 624.1 186.4 623.6 186.7 623.3 187.0 621.7 187.3 622.8 187.6 622.6 187.9 623.6 188.2 624.8 188.5 626.9 188.8 628.7 189.1 628.7 189.4 626.2 189.7 626.3 190.0 622.0 190.3 621.8 190.6 618.3 190.9 614.5 191.2 610.9 191.5 608.3 191.8 606.1 192.1 604.8 192.4 605.6 192.7 606.3 193.0 607.8 193.3 610.9 193.6 613.1 193.9 614.9 194.2 617.6 194.5 615.8 194.8 612.0 195.1 610.4 195.4 605.0 195.7 605.9 196.0 608.6 196.3 607.4 196.6 609.1 196.9 611.8 197.2 615.7 197.5 617.7 197.8 621.0 198.1 623.6 198.4 623.0 198.7 617.7 199.0 613.7 199.3 612.2 199.6 611.3 199.9 609.6 200.2 608.0 200.5 603.4 200.8 607.1 201.1 611.6 201.4 612.7 201.7 616.1 202.0 618.1 202.3 620.4 202.6 620.7 202.9 614.3 203.2 610.8 203.5 606.2 203.8 601.1 204.1 598.2 204.4 593.6 204.7 591.1 205.0 594.9 205.3 596.8 205.6 598.3 205.9 599.4 206.2 601.0 206.5 602.3 206.8 603.7 207.1 605.9 207.4 607.3 207.7 609.9 208.0 613.6 208.3 615.7 208.6 613.6 208.9 612.5 209.2 612.2 209.5 612.7 209.8 614.3 210.1 613.6 210.4 614.7 210.7 618.5 211.0 619.4 211.3 621.4 211.6 621.8 211.9 622.2 212.2 622.2 212.5 621.1 212.8 623.4 213.1 622.2 213.4 623.4 213.7 623.6 214.0 624.0 214.3 625.0 214.6 624.1 214.9 624.6 215.2 622.3 215.5 620.7 215.8 620.4 216.1 617.4 216.4 618.6 216.7 618.0 217.0 617.8 217.3 617.6 217.6 616.6 217.9 620.2 218.2 623.7 218.5 624.1 218.8 629.1 219.1 632.2 219.4 629.7 219.7 625.1 220.0 624.4 220.3 620.1 220.6 616.4 220.9 617.3 221.2 614.5 221.5 612.0 221.8 612.2 222.1 613.5 222.4 615.7 222.7 618.2 223.0 616.3 223.3 614.2 223.6 611.5 223.9 607.5 224.2 603.9 224.5 601.2 224.8 598.9 225.1 599.4 225.4 601.4 225.7 605.1 226.0 606.7 226.3 608.8 226.6 609.0 226.9 610.4 227.2 607.9 227.5 606.2 227.8 602.0 228.1 602.0 228.4 598.5 228.7 595.9 229.0 593.0 229.3 594.0 229.6 595.3 229.9 592.7 230.2 595.9 230.5 597.7 230.8 598.0 231.1 600.3 231.4 599.9 231.7 601.9 232.0 603.2 232.3 612.5 232.6 617.7 232.9 612.1 233.2 608.0 233.5 601.3 233.8 604.7 234.1 609.0 234.4 612.1 234.7 612.7 235.0 613.8 235.3 612.4 235.6 613.9 235.9 613.3 236.2 615.2 236.5 615.1 236.8 617.6 237.1 621.8 237.4 627.0 237.7 628.0 238.0 632.0 238.3 634.7 238.6 632.1 238.9 632.9 239.2 630.4 239.5 630.6 239.8 631.1 240.1 632.7 240.4 629.0 240.7 624.3 241.0 619.6 241.3 614.1 241.6 613.5 241.9 614.4 242.2 612.6 242.5 613.4 242.8 615.3 243.1 616.1 243.4 617.4 243.7 614.2 244.0 613.3 244.3 610.2 244.6 609.1 244.9 608.2 245.2 606.0 245.5 606.0 245.8 605.8 246.1 605.7 246.4 606.6 246.7 604.1 247.0 603.6 247.3 604.4 247.6 603.5 247.9 603.3 248.2 601.5 248.5 600.9 248.8 598.8 249.1 599.9 249.4 599.8 249.7 598.3 250.0 598.4 250.3 598.5 250.6 598.3 250.9 594.8 251.2 600.6 251.5 607.3 251.8 613.5 252.1 619.6 252.4 612.9 252.7 604.7 253.0 599.1 253.3 591.6 253.6 584.0 253.9 578.2 254.2 574.5 254.5 575.7 254.8 579.4 255.1 583.3 255.4 586.5 255.7 583.0 256.0 581.6 256.3 580.8 256.6 583.3 256.9 585.0 257.2 589.7 257.5 591.5 257.8 591.0 258.1 593.3 258.4 593.5 258.7 591.8 259.0 589.8 259.3 592.8 259.6 597.3 259.9 600.6 260.2 602.3 260.5 601.6 260.8 603.6 261.1 611.9 261.4 617.6 261.7 613.5 262.0 607.8 262.3 604.0 262.6 606.0 262.9 607.2 263.2 608.1 263.5 609.9 263.8 612.0 264.1 617.2 264.4 621.1 264.7 620.2 265.0 616.1 265.3 613.2 265.6 611.2 265.9 615.1 266.2 617.4 266.5 617.1 266.8 616.4 267.1 614.4 267.4 612.0 267.7 611.8 268.0 619.0 268.3 625.1 268.6 627.2 268.9 631.2 269.2 630.8 269.5 633.1 269.8 630.6 270.1 628.4 270.4 624.2 270.7 619.7 271.0 616.0 271.3 613.3 271.6 613.0 271.9 612.9 272.2 612.7 272.5 617.6 272.8 618.5 273.1 623.6 273.4 622.6 273.7 618.9 274.0 614.5 274.3 613.8 274.6 608.8 274.9 605.7 275.2 603.7 275.5 599.2 275.8 597.0 276.1 593.8 276.4 591.5 276.7 588.5 277.0 583.7 277.3 580.4 277.6 571.2 277.9 563.0 278.2 554.6 278.5 548.6 278.4 549.0 279.5 545.0 279.9 413.6 280.3 545.0 281.4 549.0 281.5 551.8 281.8 560.1 282.1 568.4 282.4 576.1 282.7 584.2 283.0 587.9 283.3 588.3 283.6 593.6 283.9 596.1 284.2 599.3 284.5 604.4 284.8 606.4 285.1 608.8 285.4 612.2 285.7 613.6 286.0 619.5 286.3 621.4 286.6 624.8 286.9 621.1 287.2 618.3 287.5 615.6 287.8 613.7 288.1 614.3 288.4 613.2 288.7 615.1 289.0 619.6 289.3 621.8 289.6 629.1 289.9 628.9 290.2 630.2 290.5 634.6 290.8 635.0 291.1 629.0 291.4 625.7 291.7 623.9 292.0 615.9 292.3 610.2 292.6 613.2 292.9 617.4 293.2 617.9 293.5 617.1 293.8 615.7 294.1 613.4 294.4 612.2 294.7 613.7 295.0 618.3 295.3 619.6 295.6 617.9 295.9 616.3 296.2 611.9 296.5 608.9 296.8 607.4 297.1 606.5 297.4 605.2 297.7 607.1 298.0 612.3 298.3 617.6 298.6 614.1 298.9 605.0 299.2 602.5 299.5 599.8 299.8 599.4 300.1 599.0 300.4 593.2 300.7 588.2 301.0 590.6 301.3 593.3 301.6 594.6 301.9 592.9 302.2 591.0 302.5 590.8 302.8 589.2 303.1 584.6 303.4 581.9 303.7 582.2 304.0 581.4 304.3 583.6 304.6 585.3 304.9 582.4 305.2 578.1 305.5 573.6 305.8 576.0 306.1 581.5 306.4 587.9 306.7 594.6 307.0 604.0 307.3 608.6 307.6 617.5 307.9 616.5 308.2 610.0 308.5 602.6 308.8 596.8 309.1 597.9 309.4 597.9 309.7 597.9 310.0 600.3 310.3 598.4 310.6 600.8 310.9 599.8 311.2 599.6 311.5 601.0 311.8 602.3 312.1 601.0 312.4 602.7 312.7 603.7 313.0 605.6 313.3 605.8 313.6 605.4 313.9 604.8 314.2 604.9 314.5 606.8 314.8 608.3 315.1 608.9 315.4 609.1 315.7 612.8 316.0 614.6 316.3 616.7 316.6 618.7 316.9 616.1 317.2 612.7 317.5 610.9 317.8 613.9 318.1 614.1 318.4 615.9 318.7 617.8 319.0 621.5 319.3 627.2 319.6 632.7 319.9 631.3 320.2 629.6 320.5 630.1 320.8 630.5 321.1 632.3 321.4 634.3 321.7 635.6 322.0 630.4 322.3 626.2 322.6 623.1 322.9 619.4 323.2 615.4 323.5 615.2 323.8 614.6 324.1 613.0 324.4 614.1 324.7 613.0 325.0 612.1 325.3 612.8 325.6 608.9 325.9 607.9 326.2 603.8 326.5 605.5 326.8 609.3 327.1 614.1 327.4 616.3 327.7 605.4 328.0 601.7 328.3 598.6 328.6 600.0 328.9 599.9 329.2 598.0 329.5 596.2 329.8 595.6 330.1 593.4 330.4 593.2 330.7 594.2 331.0 595.7 331.3 597.7 331.6 599.9 331.9 603.0 332.2 605.6 332.5 606.5 332.8 607.5 333.1 610.1 333.4 607.6 333.7 606.3 334.0 603.6 334.3 601.8 334.6 600.9 334.9 598.5 335.2 598.9 335.5 604.3 335.8 606.3 336.1 610.3 336.4 613.9 336.7 613.8 337.0 615.5 337.3 617.9 337.6 614.9 337.9 613.0 338.2 611.5 338.5 613.8 338.8 614.7 339.1 617.1 339.4 618.6 339.7 622.3 340.0 625.2 340.3 628.0 340.6 632.3 340.9 633.5 341.2 625.0 341.5 623.9 341.8 621.7 342.1 619.4 342.4 616.2 342.7 618.2 343.0 617.9 343.3 617.4 343.6 617.4 343.9 618.6 344.2 621.3 344.5 623.3 344.8 626.7 345.1 624.5 345.4 625.0 345.7 623.7 346.0 624.4 346.3 623.4 346.6 622.4 346.9 621.6 347.2 621.9 347.5 622.6 347.8 623.5 348.1 622.3 348.4 619.5 348.7 619.2 349.0 618.6 349.3 617.5 349.6 616.5 349.9 615.6 350.2 613.6 350.5 611.3 350.8 610.9 351.1 613.6 351.4 613.6 351.7 614.2 352.0 611.0 352.3 607.1 352.6 606.4 352.9 604.4 353.2 604.8 353.5 602.3 353.8 598.9 354.1 599.8 354.4 597.9 354.7 595.2 355.0 593.0 355.3 593.9 355.6 597.8 355.9 601.5 356.2 604.1 356.5 609.3 356.8 612.6 357.1 617.1 357.4 619.3 357.7 616.8 358.0 615.2 358.3 615.7 358.6 611.2 358.9 607.3 359.2 603.4 359.5 605.3 359.8 607.8 360.1 608.8 360.4 612.9 360.7 613.3 361.0 617.1 361.3 624.2 361.6 626.1 361.9 622.2 362.2 618.6 362.5 614.6 362.8 611.4 363.1 609.3 363.4 607.8 363.7 606.3 364.0 605.6 364.3 606.1 364.6 607.8 364.9 612.0 365.2 615.7 365.5 619.0 365.8 617.8 366.1 614.4 366.4 613.3 366.7 609.6 367.0 605.8 367.3 602.9 367.6 606.0 367.9 603.8 368.2 605.6 368.5 611.0 368.8 613.5 369.1 619.1 369.4 620.0 369.7 621.3 370.0 624.6 370.3 626.5 370.6 630.5 370.9 629.8 371.2 627.8 371.5 625.6 371.8 624.9 372.1 624.5 372.4 621.7 372.7 621.7 373.0 623.8 373.3 624.3 373.6 624.0 373.9 624.5 374.2 621.5 374.5 622.8 374.8 620.1 375.1 615.8 375.4 612.7 375.7 609.6 376.0 610.2 376.3 607.8 376.6 604.5 376.9 605.4 377.2 602.8 377.5 598.6 377.8 594.0 378.1 593.7 378.4 588.7 378.7 587.7 379.0 587.6 379.3 589.5 379.6 588.6 379.9 585.2 380.2 583.0 380.5 585.3 380.8 587.6 381.1 587.9 381.4 594.2 381.7 596.5 382.0 598.7 382.3 599.5 382.6 601.1 382.9 602.0 383.2 603.6 383.5 601.9 383.8 603.0 384.1 606.3 384.4 608.0 384.7 612.8 385.0 616.1 385.3 621.8 385.6 625.2 385.9 623.7 386.2 621.5 386.5 621.2 386.8 619.8 387.1 616.0 387.4 616.7 387.7 615.6 388.0 614.3 388.3 613.1 388.6 612.8 388.9 612.2 389.2 611.2 389.5 615.0 389.8 617.7 390.1 619.2 390.4 620.8 390.7 623.7 391.0 623.8 391.3 624.1 391.6 623.1 391.9 622.4 392.2 620.8 392.5 620.5 392.8 618.2 393.1 618.6 393.4 616.8 393.7 617.0 394.0 616.2 394.3 614.5 394.6 612.2 394.9 614.6 395.2 613.2 395.5 611.4 395.8 608.8 396.1 607.4 396.4 607.2 396.7 606.2 397.0 606.6 397.3 603.7 397.6 600.2 397.9 598.8 398.2 597.9 398.5 601.3 398.8 602.2 399.1 604.4 399.4 604.0 399.7 601.3 400.0 599.6 400.3 597.9 400.6 595.8 400.9 595.9 401.2 592.5 401.5 592.8 401.8 593.7 402.1 593.0 402.4 594.1 402.7 596.5 403.0 596.4 403.3 598.5 403.6 597.8 403.9 598.3 404.2 600.6 404.5 602.0 404.8 605.3 405.1 605.0 405.4 608.5 405.7 610.8 406.0 612.6 406.3 614.3 406.6 615.4 406.9 615.3 407.2 613.0 407.5 612.6 407.8 610.1 408.1 612.4 408.4 614.3 408.7 614.7 409.0 612.7 409.3 612.1 409.6 611.8 409.9 609.5 410.2 609.2 410.5 606.7 410.8 606.0 411.1 604.7 411.4 604.6 411.7 605.8 412.0 605.1 412.3 605.7 412.6 605.3 412.9 606.1 413.2 603.4 413.5 604.3 413.8 606.6 414.1 607.9 414.4 607.5 414.7 609.7 415.0 608.3 415.3 611.9 415.6 612.7 415.9 612.5 416.2 613.3 416.5 615.9 416.8 618.1 417.1 619.4 417.4 617.1 417.7 615.6 418.0 613.4 418.3 608.6 418.6 606.5 418.9 603.4 419.2 605.6 419.5 605.7 419.8 608.4 420.1 609.0 420.4 612.4 420.7 611.4 421.0 612.7 421.3 613.5 421.6 613.1 421.9 614.6 422.2 611.3 422.5 609.5 422.8 608.6 423.1 607.9 423.4 608.3 423.7 612.0 424.0 614.1 424.3 612.3 424.6 610.7 424.9 608.7 425.2 607.7 425.5 605.7 425.8 606.0 426.1 604.9 426.4 601.6 426.7 600.4 427.0 598.2 427.3 599.8 427.6 600.8 427.9 601.5 428.2 602.6 428.5 604.4 428.8 604.9 429.1 605.7 429.4 608.2 429.7 605.6 430.0 606.9 430.3 607.9 430.6 608.3 430.9 607.6 431.2 607.5 431.5 606.5 431.8 606.5 432.1 606.4 432.4 605.3 432.7 605.7 433.0 605.1 433.3 605.2 433.6 604.9 433.9 604.8 434.2 603.1 434.5 602.5 434.8 601.2 435.1 600.2 435.4 598.5 435.7 600.9 436.0 601.1 436.3 603.1 436.6 602.8 436.9 603.6 437.2 604.2 437.5 605.4 437.8 604.6 438.1 606.7 438.4 607.6 438.7 609.4 439.0 608.7 439.3 610.2 439.6 612.5 439.9 611.2 440.2 613.2 440.5 612.7 440.8 613.7 441.1 614.8 441.4 614.9 441.7 613.0 442.0 611.7 442.3 613.4 442.6 611.8 442.9 611.9 443.2 611.9 443.5 612.2 443.8 611.8 444.1 612.5 444.4 611.7 444.7 613.3 445.0 612.6 445.3 612.9 445.6 614.5 445.9 613.4 446.2 613.0 446.5 611.9 446.8 614.0 447.1 614.9 447.4 613.0 447.7 614.2 448.0 613.4 448.3 613.8 448.6 613.7 448.9 612.6 449.2 613.6 449.5 612.2 449.8 614.5 450.1 613.8 450.4 612.6 450.7 612.4 451.0 611.8 451.3 611.3 451.6 610.7 451.9 609.7 452.2 609.2 452.5 607.7 452.8 607.6 453.1 607.5 453.4 607.8 453.7 606.9 454.0 608.8 454.3 607.0 454.6 606.8 454.9 607.5 455.2 608.1 455.5 608.8 455.8 608.2 456.1 607.1 456.4 607.8 456.7 609.2 457.0 608.8 457.3 609.6 457.6 609.0 457.9 610.4 458.2 610.3 458.5 610.0 458.8 609.2 459.1 607.6 459.4 607.8 459.7 609.3" stroke="#008000" stroke-width="1.9" fill="none" stroke-linejoin="round" stroke-linecap="round" clip-path="url(#c01)"/>
<path d="M102.00 652.7V649.1M102.00 397V400.6M194.71 652.7V649.1M194.71 397V400.6M287.42 652.7V649.1M287.42 397V400.6M380.12 652.7V649.1M380.12 397V400.6M102 610.08H105.6M458 610.08H454.4M102 553.26H105.6M458 553.26H454.4M102 496.44H105.6M458 496.44H454.4M102 439.62H105.6M458 439.62H454.4" stroke="#141414" stroke-width="2" fill="none"/>
<rect x="102" y="397" width="356" height="255.70000000000005" stroke="#141414" stroke-width="2" fill="none" stroke-linejoin="round"/>
<text x="102.00" y="683.70" text-anchor="middle" font-size="26" >0</text>
<text x="194.71" y="683.70" text-anchor="middle" font-size="26" >2000</text>
<text x="287.42" y="683.70" text-anchor="middle" font-size="26" >4000</text>
<text x="380.12" y="683.70" text-anchor="middle" font-size="26" >6000</text>
<text x="94.00" y="619.88" text-anchor="end" font-size="26" >0</text>
<text x="94.00" y="563.06" text-anchor="end" font-size="26" >20</text>
<text x="94.00" y="506.24" text-anchor="end" font-size="26" >40</text>
<text x="94.00" y="449.42" text-anchor="end" font-size="26" >60</text>
<text x="280.00" y="391.00" text-anchor="middle" font-size="26" >Autocorrelation of Speech</text>
<text x="280.00" y="714.70" text-anchor="middle" font-size="26" >Samples</text>
<text x="0" y="0" text-anchor="middle" font-size="26" transform="translate(49.1,524.35) rotate(-90)">a.u.</text>
<text x="16.30" y="404.30" text-anchor="start" font-size="33.5" font-weight="bold">C</text>
<clipPath id="c11"><rect x="580" y="397" width="356" height="255.70000000000005"/></clipPath>
<path d="M580.0 617.4 580.1 618.0 580.2 617.5 580.3 617.4 580.4 617.0 580.5 617.5 580.6 618.6 580.7 618.5 580.8 618.0 580.9 619.2 581.0 618.5 581.1 616.4 581.2 617.9 581.3 616.4 581.4 619.6 581.5 618.5 581.6 618.9 581.7 619.1 581.8 619.0 581.9 618.5 582.0 619.4 582.1 617.0 582.2 617.7 582.3 619.7 582.4 620.0 582.5 618.0 582.6 618.1 582.7 619.8 582.8 618.1 582.9 620.3 583.0 618.8 583.1 616.7 583.2 622.0 583.3 618.7 583.4 617.1 583.5 618.9 583.6 619.3 583.7 619.2 583.8 621.2 583.9 620.6 584.0 618.4 584.1 619.2 584.2 618.1 584.3 619.4 584.4 618.6 584.5 621.0 584.6 619.9 584.6 618.9 584.7 618.7 584.8 620.1 584.9 620.5 585.0 617.4 585.1 617.3 585.2 615.6 585.3 617.2 585.4 617.4 585.5 617.6 585.6 618.7 585.7 619.1 585.8 619.8 585.9 618.5 586.0 618.3 586.1 620.1 586.2 617.2 586.3 617.1 586.4 618.6 586.5 617.3 586.6 616.7 586.7 618.5 586.8 620.5 586.9 619.0 587.0 617.4 587.1 618.4 587.2 619.9 587.3 616.2 587.4 617.2 587.5 617.7 587.6 616.7 587.7 618.8 587.8 618.6 587.9 620.2 588.0 618.7 588.1 619.8 588.2 617.6 588.3 616.1 588.4 620.8 588.5 618.0 588.6 619.5 588.7 618.7 588.8 616.2 588.9 617.5 589.0 618.3 589.1 619.4 589.2 619.2 589.3 616.5 589.4 620.0 589.5 620.5 589.6 618.6 589.7 618.6 589.8 619.0 589.9 621.5 590.0 619.9 590.1 617.7 590.2 618.0 590.3 619.9 590.4 619.3 590.5 618.7 590.6 616.4 590.7 619.6 590.8 618.0 590.9 617.9 591.0 616.4 591.1 615.8 591.2 619.7 591.3 619.3 591.4 619.4 591.5 616.3 591.6 618.1 591.7 619.8 591.8 618.4 591.9 617.5 592.0 620.5 592.1 619.9 592.2 618.4 592.3 619.6 592.4 617.4 592.5 617.5 592.6 617.8 592.7 622.1 592.8 616.9 592.9 619.1 593.0 618.2 593.1 616.8 593.2 621.1 593.3 616.4 593.4 617.7 593.5 616.3 593.6 618.0 593.7 617.9 593.7 618.9 593.8 617.3 593.9 618.9 594.0 619.3 594.1 621.1 594.2 618.5 594.3 618.6 594.4 618.1 594.5 617.7 594.6 619.5 594.7 618.6 594.8 618.1 594.9 617.4 595.0 617.2 595.1 618.4 595.2 619.1 595.3 617.7 595.4 616.8 595.5 615.7 595.6 617.8 595.7 618.9 595.8 618.7 595.9 620.7 596.0 618.1 596.1 616.9 596.2 619.2 596.3 619.2 596.4 618.8 596.5 620.0 596.6 620.4 596.7 618.8 596.8 618.3 596.9 617.2 597.0 618.4 597.1 618.6 597.2 618.2 597.3 618.9 597.4 620.1 597.5 620.0 597.6 618.2 597.7 618.4 597.8 615.2 597.9 617.2 598.0 620.8 598.1 617.7 598.2 619.0 598.3 618.9 598.4 618.3 598.5 618.6 598.6 618.4 598.7 618.4 598.8 617.1 598.9 620.0 599.0 617.6 599.1 617.7 599.2 618.3 599.3 617.6 599.4 618.8 599.5 616.7 599.6 620.5 599.7 617.3 599.8 617.2 599.9 618.2 600.0 616.4 600.1 619.7 600.2 617.1 600.3 619.1 600.4 620.0 600.5 617.9 600.6 618.4 600.7 619.1 600.8 619.4 600.9 620.8 601.0 618.0 601.1 620.9 601.2 619.9 601.3 618.0 601.4 616.9 601.5 617.2 601.6 619.3 601.7 619.2 601.8 620.3 601.9 618.6 602.0 617.3 602.1 621.1 602.2 619.0 602.3 619.6 602.4 621.6 602.5 621.5 602.6 620.8 602.7 619.8 602.8 618.0 602.8 617.0 602.9 620.0 603.0 618.0 603.1 618.6 603.2 623.0 603.3 619.9 603.4 618.5 603.5 617.3 603.6 617.4 603.7 616.1 603.8 618.0 603.9 620.9 604.0 619.0 604.1 620.3 604.2 617.6 604.3 616.6 604.4 615.8 604.5 618.3 604.6 617.2 604.7 617.2 604.8 617.4 604.9 615.9 605.0 620.0 605.1 618.9 605.2 616.1 605.3 616.2 605.4 619.1 605.5 618.1 605.6 616.1 605.7 618.0 605.8 621.6 605.9 617.9 606.0 622.6 606.1 618.2 606.2 619.2 606.3 619.6 606.4 614.6 606.5 618.9 606.6 620.1 606.7 618.3 606.8 622.5 606.9 621.9 607.0 620.3 607.1 617.9 607.2 618.8 607.3 619.9 607.4 617.8 607.5 618.1 607.6 619.9 607.7 618.0 607.8 618.8 607.9 617.2 608.0 616.2 608.1 621.5 608.2 618.1 608.3 616.6 608.4 617.7 608.5 617.8 608.6 619.3 608.7 618.2 608.8 619.8 608.9 620.0 609.0 619.2 609.1 618.7 609.2 614.9 609.3 618.4 609.4 620.1 609.5 619.5 609.6 617.0 609.7 616.7 609.8 619.0 609.9 618.2 610.0 614.2 610.1 620.4 610.2 616.6 610.3 620.1 610.4 618.2 610.5 619.1 610.6 619.1 610.7 615.9 610.8 618.1 610.9 615.9 611.0 617.9 611.1 617.6 611.2 614.2 611.3 620.2 611.4 621.6 611.5 616.8 611.6 619.1 611.7 618.3 611.8 617.4 611.9 620.6 611.9 619.9 612.0 615.6 612.1 616.9 612.2 622.1 612.3 618.1 612.4 618.6 612.5 617.8 612.6 618.4 612.7 616.0 612.8 618.0 612.9 616.8 613.0 617.9 613.1 616.4 613.2 617.4 613.3 617.6 613.4 617.1 613.5 619.3 613.6 614.9 613.7 620.3 613.8 619.4 613.9 620.4 614.0 619.2 614.1 619.6 614.2 624.4 614.3 619.3 614.4 617.5 614.5 617.1 614.6 615.3 614.7 618.4 614.8 617.5 614.9 623.1 615.0 620.6 615.1 616.3 615.2 615.4 615.3 616.3 615.4 616.9 615.5 619.1 615.6 621.3 615.7 618.1 615.8 618.2 615.9 617.2 616.0 619.2 616.1 619.1 616.2 619.6 616.3 618.4 616.4 620.6 616.5 615.9 616.6 616.4 616.7 618.1 616.8 618.1 616.9 618.3 617.0 619.1 617.1 617.8 617.2 619.0 617.3 619.6 617.4 615.4 617.5 619.6 617.6 616.9 617.7 619.8 617.8 619.4 617.9 620.4 618.0 619.9 618.1 618.6 618.2 617.6 618.3 621.2 618.4 618.4 618.5 619.5 618.6 615.0 618.7 621.3 618.8 618.6 618.9 617.7 619.0 619.5 619.1 618.7 619.2 617.9 619.3 615.3 619.4 619.9 619.5 619.3 619.6 619.0 619.7 619.7 619.8 617.6 619.9 618.9 620.0 620.1 620.1 619.5 620.2 620.5 620.3 617.9 620.4 618.0 620.5 618.2 620.6 616.9 620.7 615.8 620.8 618.2 620.9 616.7 621.0 620.0 621.1 619.0 621.1 620.1 621.2 618.2 621.3 619.1 621.4 619.3 621.5 619.4 621.6 620.1 621.7 618.2 621.8 620.1 621.9 620.2 622.0 617.7 622.1 620.1 622.2 621.2 622.3 617.0 622.4 615.9 622.5 620.5 622.6 616.9 622.7 618.8 622.8 620.2 622.9 619.2 623.0 620.0 623.1 615.3 623.2 618.5 623.3 620.5 623.4 617.9 623.5 624.4 623.6 617.6 623.7 615.6 623.8 622.6 623.9 617.9 624.0 617.9 624.1 616.4 624.2 619.1 624.3 619.9 624.4 620.0 624.5 618.3 624.6 619.6 624.7 619.4 624.8 620.2 624.9 616.1 625.0 619.0 625.1 619.0 625.2 618.2 625.3 621.7 625.4 618.3 625.5 618.3 625.6 615.6 625.7 615.4 625.8 618.6 625.9 620.0 626.0 624.4 626.1 616.4 626.2 617.7 626.3 618.7 626.4 617.1 626.5 618.1 626.6 621.9 626.7 616.5 626.8 616.2 626.9 617.4 627.0 618.7 627.1 617.9 627.2 620.5 627.3 619.8 627.4 615.9 627.5 620.6 627.6 618.2 627.7 620.5 627.8 622.5 627.9 620.9 628.0 618.6 628.1 616.9 628.2 621.9 628.3 617.0 628.4 617.9 628.5 617.5 628.6 620.8 628.7 621.7 628.8 618.5 628.9 616.8 629.0 618.9 629.1 622.3 629.2 615.8 629.3 617.8 629.4 619.9 629.5 618.8 629.6 620.9 629.7 618.4 629.8 621.1 629.9 618.5 630.0 616.5 630.1 618.1 630.2 618.5 630.2 614.8 630.3 617.0 630.4 618.6 630.5 617.0 630.6 620.5 630.7 617.0 630.8 620.0 630.9 619.3 631.0 619.8 631.1 615.6 631.2 620.1 631.3 618.7 631.4 621.1 631.5 617.9 631.6 617.6 631.7 616.0 631.8 617.1 631.9 621.6 632.0 620.6 632.1 619.7 632.2 622.0 632.3 617.0 632.4 619.4 632.5 617.1 632.6 618.9 632.7 620.8 632.8 620.2 632.9 619.2 633.0 617.2 633.1 618.0 633.2 615.0 633.3 616.7 633.4 620.6 633.5 616.4 633.6 619.4 633.7 619.9 633.8 619.0 633.9 618.4 634.0 617.4 634.1 615.7 634.2 620.2 634.3 619.2 634.4 615.6 634.5 619.6 634.6 617.7 634.7 617.0 634.8 620.0 634.9 620.4 635.0 619.0 635.1 616.8 635.2 617.6 635.3 616.0 635.4 616.9 635.5 621.2 635.6 617.5 635.7 618.4 635.8 621.2 635.9 620.9 636.0 622.1 636.1 619.7 636.2 617.3 636.3 619.7 636.4 618.7 636.5 615.7 636.6 618.3 636.7 614.9 636.8 618.6 636.9 621.1 637.0 617.8 637.1 620.1 637.2 616.8 637.3 620.2 637.4 617.1 637.5 617.7 637.6 621.1 637.7 617.3 637.8 616.0 637.9 619.7 638.0 616.3 638.1 618.9 638.2 619.1 638.3 621.5 638.4 615.3 638.5 621.9 638.6 623.0 638.7 619.6 638.8 613.2 638.9 618.7 639.0 616.1 639.1 618.6 639.2 618.8 639.3 617.5 639.3 614.5 639.4 620.9 639.5 616.6 639.6 619.5 639.7 621.7 639.8 618.9 639.9 615.1 640.0 619.5 640.1 615.6 640.2 615.7 640.3 620.1 640.4 616.2 640.5 619.3 640.6 618.6 640.7 616.3 640.8 617.9 640.9 618.1 641.0 618.8 641.1 621.9 641.2 615.4 641.3 621.9 641.4 618.5 641.5 620.0 641.6 619.2 641.7 621.6 641.8 615.7 641.9 620.5 642.0 617.8 642.1 617.5 642.2 617.9 642.3 623.8 642.4 618.9 642.5 619.0 642.6 616.7 642.7 616.4 642.8 620.3 642.9 615.7 643.0 619.0 643.1 619.8 643.2 617.7 643.3 619.5 643.4 618.3 643.5 619.8 643.6 614.6 643.7 619.4 643.8 618.2 643.9 614.9 644.0 621.1 644.1 620.2 644.2 619.4 644.3 619.0 644.4 611.8 644.5 617.5 644.6 615.2 644.7 619.3 644.8 625.1 644.9 625.8 645.0 616.4 645.1 619.0 645.2 621.2 645.3 615.4 645.4 623.4 645.5 618.5 645.6 615.4 645.7 619.7 645.8 621.1 645.9 617.6 646.0 622.7 646.1 617.0 646.2 621.8 646.3 616.5 646.4 617.3 646.5 620.1 646.6 619.9 646.7 617.9 646.8 621.5 646.9 617.3 647.0 618.6 647.1 616.4 647.2 620.2 647.3 615.7 647.4 619.2 647.5 620.5 647.6 614.4 647.7 613.7 647.8 616.3 647.9 621.7 648.0 618.6 648.1 622.0 648.2 619.9 648.3 617.4 648.4 616.4 648.5 617.4 648.5 619.2 648.6 618.3 648.7 616.0 648.8 614.8 648.9 618.4 649.0 618.2 649.1 613.8 649.2 617.0 649.3 618.6 649.4 615.0 649.5 620.0 649.6 619.6 649.7 618.1 649.8 620.7 649.9 618.7 650.0 618.0 650.1 617.5 650.2 621.5 650.3 618.8 650.4 621.4 650.5 618.0 650.6 621.3 650.7 619.6 650.8 615.2 650.9 621.4 651.0 614.1 651.1 617.1 651.2 619.1 651.3 621.2 651.4 618.2 651.5 616.8 651.6 615.9 651.7 618.6 651.8 614.9 651.9 616.4 652.0 622.0 652.1 615.4 652.2 619.4 652.3 619.3 652.4 619.4 652.5 615.3 652.6 615.9 652.7 621.7 652.8 621.9 652.9 619.3 653.0 618.8 653.1 619.1 653.2 622.3 653.3 618.2 653.4 620.4 653.5 618.6 653.6 622.3 653.7 621.9 653.8 617.8 653.9 620.9 654.0 620.7 654.1 619.6 654.2 620.9 654.3 616.4 654.4 619.4 654.5 617.6 654.6 618.5 654.7 617.6 654.8 618.1 654.9 621.2 655.0 614.7 655.1 620.8 655.2 618.1 655.3 616.5 655.4 617.9 655.5 615.6 655.6 618.8 655.7 622.9 655.8 617.9 655.9 616.7 656.0 620.7 656.1 617.5 656.2 620.7 656.3 622.0 656.4 617.1 656.5 618.2 656.6 616.1 656.7 617.5 656.8 622.8 656.9 624.0 657.0 622.4 657.1 621.6 657.2 620.6 657.3 618.4 657.4 620.7 657.5 624.2 657.6 614.1 657.6 620.9 657.7 621.4 657.8 617.7 657.9 616.2 658.0 620.4 658.1 621.4 658.2 622.2 658.3 615.2 658.4 618.3 658.5 620.0 658.6 620.1 658.7 617.8 658.8 621.6 658.9 620.7 659.0 623.2 659.1 612.9 659.2 613.6 659.3 615.8 659.4 617.3 659.5 616.1 659.6 624.5 659.7 616.6 659.8 621.4 659.9 621.0 660.0 618.3 660.1 618.8 660.2 615.5 660.3 617.0 660.4 618.5 660.5 621.5 660.6 617.3 660.7 620.9 660.8 616.1 660.9 620.8 661.0 625.3 661.1 622.3 661.2 616.5 661.3 616.7 661.4 620.2 661.5 615.0 661.6 618.4 661.7 617.2 661.8 621.5 661.9 619.2 662.0 618.4 662.1 619.3 662.2 619.1 662.3 617.2 662.4 618.2 662.5 617.2 662.6 617.7 662.7 618.3 662.8 612.2 662.9 616.1 663.0 616.8 663.1 612.9 663.2 616.8 663.3 619.3 663.4 614.2 663.5 612.8 663.6 617.6 663.7 615.8 663.8 618.1 663.9 619.9 664.0 615.3 664.1 620.2 664.2 622.1 664.3 619.1 664.4 623.0 664.5 622.2 664.6 619.5 664.7 622.1 664.8 614.8 664.9 624.2 665.0 617.9 665.1 618.1 665.2 616.8 665.3 615.7 665.4 619.0 665.5 617.0 665.6 618.9 665.7 615.6 665.8 620.2 665.9 616.6 666.0 617.7 666.1 618.6 666.2 619.2 666.3 611.7 666.4 620.8 666.5 615.9 666.6 618.4 666.7 617.9 666.7 619.6 666.8 618.6 666.9 618.4 667.0 622.7 667.1 617.7 667.2 621.4 667.3 618.8 667.4 622.5 667.5 621.6 667.6 620.5 667.7 616.9 667.8 614.9 667.9 617.6 668.0 616.5 668.1 619.9 668.2 621.6 668.3 620.3 668.4 619.3 668.5 617.3 668.6 615.6 668.7 620.0 668.8 608.8 668.9 615.9 669.0 618.6 669.1 616.0 669.2 611.7 669.3 617.8 669.4 617.9 669.5 618.7 669.6 621.4 669.7 616.5 669.8 619.2 669.9 617.2 670.0 618.0 670.1 620.5 670.2 615.3 670.3 623.3 670.4 616.4 670.5 624.0 670.6 618.7 670.7 622.5 670.8 617.5 670.9 620.5 671.0 624.1 671.1 619.7 671.2 617.6 671.3 617.4 671.4 624.5 671.5 622.7 671.6 620.9 671.7 619.5 671.8 619.2 671.9 621.2 672.0 616.7 672.1 615.3 672.2 616.2 672.3 621.5 672.4 616.7 672.5 617.7 672.6 619.7 672.7 616.6 672.8 618.1 672.9 618.5 673.0 614.7 673.1 616.6 673.2 616.7 673.3 616.1 673.4 617.7 673.5 622.3 673.6 619.0 673.7 616.6 673.8 622.1 673.9 618.4 674.0 615.7 674.1 613.6 674.2 617.9 674.3 617.5 674.4 618.1 674.5 616.3 674.6 617.2 674.7 619.1 674.8 615.3 674.9 618.6 675.0 618.9 675.1 616.8 675.2 619.3 675.3 615.3 675.4 620.9 675.5 618.6 675.6 620.8 675.7 621.6 675.8 623.7 675.8 613.8 675.9 617.3 676.0 618.5 676.1 615.3 676.2 618.4 676.3 616.9 676.4 622.1 676.5 617.2 676.6 619.4 676.7 617.3 676.8 618.7 676.9 624.4 677.0 622.1 677.1 620.1 677.2 617.4 677.3 617.8 677.4 617.3 677.5 624.6 677.6 624.2 677.7 619.2 677.8 618.3 677.9 618.9 678.0 620.0 678.1 618.4 678.2 621.9 678.3 619.4 678.4 617.0 678.5 617.4 678.6 618.8 678.7 609.8 678.8 619.3 678.9 619.5 679.0 619.8 679.1 621.1 679.2 615.0 679.3 616.0 679.4 617.4 679.5 616.4 679.6 617.9 679.7 624.7 679.8 627.2 679.9 612.3 680.0 616.8 680.1 618.3 680.2 623.6 680.3 622.6 680.4 614.9 680.5 624.5 680.6 619.3 680.7 617.6 680.8 620.2 680.9 614.3 681.0 620.2 681.1 613.7 681.2 621.9 681.3 620.8 681.4 618.8 681.5 614.4 681.6 618.4 681.7 617.4 681.8 619.7 681.9 622.9 682.0 615.3 682.1 613.9 682.2 615.1 682.3 620.7 682.4 621.9 682.5 621.7 682.6 618.7 682.7 619.9 682.8 619.5 682.9 621.5 683.0 618.3 683.1 618.5 683.2 618.1 683.3 618.9 683.4 619.6 683.5 617.0 683.6 617.5 683.7 617.6 683.8 620.3 683.9 618.9 684.0 618.6 684.1 625.2 684.2 618.2 684.3 619.1 684.4 616.2 684.5 617.7 684.6 617.8 684.7 617.5 684.8 619.0 684.9 619.7 685.0 623.4 685.0 612.0 685.1 622.0 685.2 620.2 685.3 618.0 685.4 616.2 685.5 618.2 685.6 616.3 685.7 615.2 685.8 616.6 685.9 612.4 686.0 620.6 686.1 617.8 686.2 618.6 686.3 618.4 686.4 617.8 686.5 615.2 686.6 619.4 686.7 622.0 686.8 616.6 686.9 618.4 687.0 615.1 687.1 617.9 687.2 620.0 687.3 618.5 687.4 617.0 687.5 618.9 687.6 620.8 687.7 618.5 687.8 619.6 687.9 620.5 688.0 618.8 688.1 613.4 688.2 615.4 688.3 617.2 688.4 620.5 688.5 622.8 688.6 618.0 688.7 617.1 688.8 618.9 688.9 619.1 689.0 616.3 689.1 618.3 689.2 619.8 689.3 620.4 689.4 619.2 689.5 617.8 689.6 622.7 689.7 620.7 689.8 617.7 689.9 618.6 690.0 622.4 690.1 619.4 690.2 616.9 690.3 616.7 690.4 618.4 690.5 621.7 690.6 620.9 690.7 613.2 690.8 618.3 690.9 616.9 691.0 618.1 691.1 622.0 691.2 618.2 691.3 618.6 691.4 614.9 691.5 616.4 691.6 626.7 691.7 617.0 691.8 619.2 691.9 614.2 692.0 616.7 692.1 609.1 692.2 614.9 692.3 616.1 692.4 614.2 692.5 624.0 692.6 615.9 692.7 617.9 692.8 618.3 692.9 617.2 693.0 616.5 693.1 619.8 693.2 620.2 693.3 621.8 693.4 615.9 693.5 619.4 693.6 618.5 693.7 623.9 693.8 618.1 693.9 624.7 694.0 617.1 694.1 617.5 694.1 619.0 694.2 617.3 694.3 618.2 694.4 615.7 694.5 620.4 694.6 615.7 694.7 621.2 694.8 620.9 694.9 619.5 695.0 620.1 695.1 618.6 695.2 619.3 695.3 622.4 695.4 618.1 695.5 620.4 695.6 622.1 695.7 619.7 695.8 620.8 695.9 617.0 696.0 621.8 696.1 614.4 696.2 619.3 696.3 613.3 696.4 615.9 696.5 620.0 696.6 616.5 696.7 616.4 696.8 616.2 696.9 614.1 697.0 620.4 697.1 621.4 697.2 626.0 697.3 619.0 697.4 617.7 697.5 616.1 697.6 617.8 697.7 617.4 697.8 620.5 697.9 620.0 698.0 617.4 698.1 623.8 698.2 617.9 698.3 622.4 698.4 619.1 698.5 621.1 698.6 620.0 698.7 622.5 698.8 621.5 698.9 620.8 699.0 619.5 699.1 612.1 699.2 618.6 699.3 621.8 699.4 619.7 699.5 621.6 699.6 624.0 699.7 618.3 699.8 619.8 699.9 621.2 700.0 620.4 700.1 620.2 700.2 618.8 700.3 619.1 700.4 616.5 700.5 617.4 700.6 621.7 700.7 617.2 700.8 619.3 700.9 619.3 701.0 617.8 701.1 617.2 701.2 623.0 701.3 616.5 701.4 621.1 701.5 619.9 701.6 620.5 701.7 619.4 701.8 619.6 701.9 623.2 702.0 617.6 702.1 610.9 702.2 613.5 702.3 621.6 702.4 617.7 702.5 614.9 702.6 617.0 702.7 617.9 702.8 622.6 702.9 617.3 703.0 616.8 703.1 621.6 703.2 619.2 703.2 617.7 703.3 615.8 703.4 618.5 703.5 618.7 703.6 616.5 703.7 618.7 703.8 624.0 703.9 614.9 704.0 615.7 704.1 615.0 704.2 618.2 704.3 618.0 704.4 611.9 704.5 616.6 704.6 619.2 704.7 617.0 704.8 621.2 704.9 617.1 705.0 621.7 705.1 620.9 705.2 619.5 705.3 619.1 705.4 623.4 705.5 621.7 705.6 617.1 705.7 618.3 705.8 620.3 705.9 617.9 706.0 616.7 706.1 613.0 706.2 620.6 706.3 619.7 706.4 619.7 706.5 621.7 706.6 621.4 706.7 621.5 706.8 622.3 706.9 611.8 707.0 618.4 707.1 619.2 707.2 618.9 707.3 615.1 707.4 620.8 707.5 620.5 707.6 622.3 707.7 618.4 707.8 619.7 707.9 616.1 708.0 621.8 708.1 620.0 708.2 613.5 708.3 617.3 708.4 619.4 708.5 619.9 708.6 624.9 708.7 620.5 708.8 617.0 708.9 619.9 709.0 626.3 709.1 617.8 709.2 618.1 709.3 615.3 709.4 615.6 709.5 617.8 709.6 617.9 709.7 622.0 709.8 614.9 709.9 617.5 710.0 615.8 710.1 614.5 710.2 620.3 710.3 618.2 710.4 619.7 710.5 625.2 710.6 620.1 710.7 619.1 710.8 621.7 710.9 616.2 711.0 617.3 711.1 615.1 711.2 618.8 711.3 623.2 711.4 616.9 711.5 618.4 711.6 617.9 711.7 619.2 711.8 619.7 711.9 619.2 712.0 620.2 712.1 627.4 712.2 616.5 712.3 622.4 712.4 619.7 712.4 620.8 712.5 617.8 712.6 622.6 712.7 613.1 712.8 615.5 712.9 615.7 713.0 615.1 713.1 622.5 713.2 628.0 713.3 619.3 713.4 615.1 713.5 614.1 713.6 618.8 713.7 617.8 713.8 617.8 713.9 622.5 714.0 620.8 714.1 622.8 714.2 614.0 714.3 620.4 714.4 616.3 714.5 619.2 714.6 626.3 714.7 612.9 714.8 619.9 714.9 617.6 715.0 612.2 715.1 619.8 715.2 622.9 715.3 617.8 715.4 617.5 715.5 621.2 715.6 623.4 715.7 620.2 715.8 614.5 715.9 620.3 716.0 616.2 716.1 616.3 716.2 616.1 716.3 613.6 716.4 616.5 716.5 624.9 716.6 616.8 716.7 618.1 716.8 620.8 716.9 621.8 717.0 622.4 717.1 619.9 717.2 619.1 717.3 620.0 717.4 620.2 717.5 620.6 717.6 616.1 717.7 617.6 717.8 617.2 717.9 613.9 718.0 619.6 718.1 615.9 718.2 621.3 718.3 617.4 718.4 617.9 718.5 615.9 718.6 621.4 718.7 621.6 718.8 620.8 718.9 618.9 719.0 614.3 719.1 614.3 719.2 622.5 719.3 616.7 719.4 619.0 719.5 617.0 719.6 619.6 719.7 622.6 719.8 615.3 719.9 617.4 720.0 621.6 720.1 625.8 720.2 620.6 720.3 623.6 720.4 619.7 720.5 617.7 720.6 613.7 720.7 618.1 720.8 616.1 720.9 616.2 721.0 619.4 721.1 621.6 721.2 615.2 721.3 616.3 721.4 611.8 721.5 615.0 721.5 615.8 721.6 613.1 721.7 621.4 721.8 618.7 721.9 621.3 722.0 614.5 722.1 617.4 722.2 628.8 722.3 614.2 722.4 622.9 722.5 616.7 722.6 619.5 722.7 616.9 722.8 616.4 722.9 616.5 723.0 622.0 723.1 615.4 723.2 616.1 723.3 619.6 723.4 616.7 723.5 622.2 723.6 611.7 723.7 617.0 723.8 618.4 723.9 619.6 724.0 620.9 724.1 621.6 724.2 616.5 724.3 615.3 724.4 614.3 724.5 617.5 724.6 622.0 724.7 617.3 724.8 617.8 724.9 616.7 725.0 617.7 725.1 624.1 725.2 616.7 725.3 619.2 725.4 617.7 725.5 622.2 725.6 615.0 725.7 620.8 725.8 614.4 725.9 613.6 726.0 616.1 726.1 622.1 726.2 621.2 726.3 620.9 726.4 616.5 726.5 618.0 726.6 616.8 726.7 617.9 726.8 617.3 726.9 615.5 727.0 614.8 727.1 618.7 727.2 616.2 727.3 623.9 727.4 620.7 727.5 620.9 727.6 622.6 727.7 618.1 727.8 616.1 727.9 620.2 728.0 620.5 728.1 619.1 728.2 617.7 728.3 620.4 728.4 618.2 728.5 613.8 728.6 617.8 728.7 614.6 728.8 619.9 728.9 619.0 729.0 611.9 729.1 620.0 729.2 617.5 729.3 618.5 729.4 620.8 729.5 620.3 729.6 620.8 729.7 617.5 729.8 620.1 729.9 619.5 730.0 613.3 730.1 617.3 730.2 615.6 730.3 620.0 730.4 617.2 730.5 619.1 730.6 618.7 730.6 611.6 730.7 616.6 730.8 613.7 730.9 617.8 731.0 616.5 731.1 622.9 731.2 622.4 731.3 613.9 731.4 616.2 731.5 619.6 731.6 619.5 731.7 618.4 731.8 620.3 731.9 624.5 732.0 623.6 732.1 618.4 732.2 621.1 732.3 621.6 732.4 621.6 732.5 622.0 732.6 618.8 732.7 620.9 732.8 618.7 732.9 621.3 733.0 621.6 733.1 615.8 733.2 617.6 733.3 619.9 733.4 618.1 733.5 617.6 733.6 617.7 733.7 613.0 733.8 620.8 733.9 616.6 734.0 618.0 734.1 619.2 734.2 621.3 734.3 614.7 734.4 618.4 734.5 619.8 734.6 618.4 734.7 617.1 734.8 621.7 734.9 614.9 735.0 626.4 735.1 616.9 735.2 621.8 735.3 618.4 735.4 617.5 735.5 617.8 735.6 618.7 735.7 615.6 735.8 619.8 735.9 620.2 736.0 618.3 736.1 613.7 736.2 617.1 736.3 618.2 736.4 622.0 736.5 618.4 736.6 621.9 736.7 617.1 736.8 624.0 736.9 612.2 737.0 622.4 737.1 614.7 737.2 617.9 737.3 624.9 737.4 618.4 737.5 615.9 737.6 615.7 737.7 622.4 737.8 620.7 737.9 623.0 738.0 620.9 738.1 618.8 738.2 612.6 738.3 619.9 738.4 621.4 738.5 620.1 738.6 618.9 738.7 616.7 738.8 620.5 738.9 617.4 739.0 622.3 739.1 619.2 739.2 618.0 739.3 613.0 739.4 619.2 739.5 616.6 739.6 611.5 739.7 616.4 739.7 616.4 739.8 616.8 739.9 619.4 740.0 616.0 740.1 615.5 740.2 618.3 740.3 613.6 740.4 622.9 740.5 620.3 740.6 613.1 740.7 618.3 740.8 621.1 740.9 619.2 741.0 616.2 741.1 620.4 741.2 617.9 741.3 619.9 741.4 616.7 741.5 619.2 741.6 617.1 741.7 623.7 741.8 620.0 741.9 615.7 742.0 622.6 742.1 622.6 742.2 616.6 742.3 620.1 742.4 618.0 742.5 618.9 742.6 619.5 742.7 610.4 742.8 622.0 742.9 620.7 743.0 623.5 743.1 619.5 743.2 614.2 743.3 617.3 743.4 616.4 743.5 618.3 743.6 613.0 743.7 616.7 743.8 621.2 743.9 616.5 744.0 616.8 744.1 615.0 744.2 617.6 744.3 618.2 744.4 618.4 744.5 621.8 744.6 623.1 744.7 617.1 744.8 619.1 744.9 618.6 745.0 618.2 745.1 624.1 745.2 620.7 745.3 611.5 745.4 620.6 745.5 617.5 745.6 622.9 745.7 619.6 745.8 621.0 745.9 619.3 746.0 617.2 746.1 620.1 746.2 621.0 746.3 618.8 746.4 618.6 746.5 620.0 746.6 615.0 746.7 616.7 746.8 616.9 746.9 620.9 747.0 617.1 747.1 622.2 747.2 621.4 747.3 623.4 747.4 617.4 747.5 622.9 747.6 613.7 747.7 620.3 747.8 623.2 747.9 620.4 748.0 613.6 748.1 622.9 748.2 622.2 748.3 617.7 748.4 615.3 748.5 614.2 748.6 619.4 748.7 615.3 748.8 617.2 748.9 614.9 748.9 611.8 749.0 615.8 749.1 613.1 749.2 620.2 749.3 616.5 749.4 622.3 749.5 620.3 749.6 618.0 749.7 622.2 749.8 615.4 749.9 618.8 750.0 617.5 750.1 618.1 750.2 619.7 750.3 621.2 750.4 615.5 750.5 609.1 750.6 621.9 750.7 615.7 750.8 618.4 750.9 623.7 751.0 617.8 751.1 621.8 751.2 618.1 751.3 614.9 751.4 627.5 751.5 619.0 751.6 617.7 751.7 624.3 751.8 617.2 751.9 618.0 752.0 618.6 752.1 615.0 752.2 623.7 752.3 616.9 752.4 619.5 752.5 621.0 752.6 620.5 752.7 622.6 752.8 612.8 752.9 622.6 753.0 619.3 753.1 617.3 753.2 615.1 753.3 623.3 753.4 615.9 753.5 623.8 753.6 618.2 753.7 618.3 753.8 618.0 753.9 619.5 754.0 624.5 754.1 625.7 754.2 614.6 754.3 619.5 754.4 621.7 754.5 615.9 754.6 618.5 754.7 621.5 754.8 624.7 754.9 614.9 755.0 613.9 755.1 619.7 755.2 617.0 755.3 613.8 755.4 612.5 755.5 627.8 755.6 618.0 755.7 618.4 755.8 624.8 755.9 618.5 756.0 618.4 756.1 618.4 756.2 623.2 756.3 615.8 756.4 621.5 756.5 617.1 756.6 617.6 756.7 619.6 756.8 624.2 756.9 614.1 757.0 613.3 757.1 614.5 757.2 620.1 757.3 618.0 757.4 615.8 757.5 616.3 757.6 622.0 757.7 621.0 757.8 618.0 757.9 618.7 758.0 418.8 758.0 617.0 758.1 617.2 758.2 619.2 758.3 624.2 758.4 620.4 758.5 618.2 758.6 614.3 758.7 619.7 758.8 612.0 758.9 618.1 759.0 620.9 759.1 626.9 759.2 622.7 759.3 624.0 759.4 617.8 759.5 620.3 759.6 616.5 759.7 616.3 759.8 621.6 759.9 610.5 760.0 617.4 760.1 619.3 760.2 620.8 760.3 623.5 760.4 618.0 760.5 616.2 760.6 612.9 760.7 614.9 760.8 615.5 760.9 614.9 761.0 621.1 761.1 618.1 761.2 618.1 761.3 622.9 761.4 618.5 761.5 618.2 761.6 615.1 761.7 618.0 761.8 623.8 761.9 618.9 762.0 612.5 762.1 623.4 762.2 620.0 762.3 620.2 762.4 622.1 762.5 619.6 762.6 617.5 762.7 626.1 762.8 620.0 762.9 617.0 763.0 623.9 763.1 618.1 763.2 615.3 763.3 618.2 763.4 618.0 763.5 617.9 763.6 618.8 763.7 615.9 763.8 618.9 763.9 624.3 764.0 613.2 764.1 616.4 764.2 616.4 764.3 623.1 764.4 618.5 764.5 614.5 764.6 617.5 764.7 613.9 764.8 615.4 764.9 618.2 765.0 615.1 765.1 620.2 765.2 615.3 765.3 621.1 765.4 621.4 765.5 620.4 765.6 618.1 765.7 617.7 765.8 615.2 765.9 622.1 766.0 619.7 766.1 616.9 766.2 616.9 766.3 619.7 766.4 608.3 766.5 615.2 766.6 621.1 766.7 617.0 766.8 615.7 766.9 616.0 767.0 622.8 767.1 616.4 767.1 615.7 767.2 612.7 767.3 626.7 767.4 614.9 767.5 618.6 767.6 619.0 767.7 620.2 767.8 617.0 767.9 616.0 768.0 618.4 768.1 616.3 768.2 616.6 768.3 617.4 768.4 620.5 768.5 621.2 768.6 618.7 768.7 613.4 768.8 621.6 768.9 622.9 769.0 617.3 769.1 611.7 769.2 612.8 769.3 614.1 769.4 615.1 769.5 620.8 769.6 615.3 769.7 625.7 769.8 619.4 769.9 614.8 770.0 621.7 770.1 621.9 770.2 623.4 770.3 617.4 770.4 613.8 770.5 609.2 770.6 614.3 770.7 625.1 770.8 625.9 770.9 618.7 771.0 615.1 771.1 622.0 771.2 619.1 771.3 621.1 771.4 619.1 771.5 618.6 771.6 615.3 771.7 615.1 771.8 617.8 771.9 617.8 772.0 612.7 772.1 622.4 772.2 621.3 772.3 617.0 772.4 613.6 772.5 619.1 772.6 614.6 772.7 620.1 772.8 614.0 772.9 620.0 773.0 616.5 773.1 615.9 773.2 618.5 773.3 612.9 773.4 615.9 773.5 619.2 773.6 616.4 773.7 624.7 773.8 617.5 773.9 609.7 774.0 616.0 774.1 618.4 774.2 615.8 774.3 615.7 774.4 621.0 774.5 613.7 774.6 619.6 774.7 617.7 774.8 621.3 774.9 615.7 775.0 623.3 775.1 611.8 775.2 617.4 775.3 624.8 775.4 613.7 775.5 617.7 775.6 617.2 775.7 616.7 775.8 622.4 775.9 626.8 776.0 617.5 776.1 617.3 776.2 615.4 776.3 621.2 776.3 618.1 776.4 615.2 776.5 619.3 776.6 620.0 776.7 614.4 776.8 623.2 776.9 613.0 777.0 621.1 777.1 616.5 777.2 619.4 777.3 622.4 777.4 618.0 777.5 615.0 777.6 613.8 777.7 617.2 777.8 620.3 777.9 617.5 778.0 624.4 778.1 618.8 778.2 617.5 778.3 616.7 778.4 623.2 778.5 620.9 778.6 615.3 778.7 618.7 778.8 622.6 778.9 620.0 779.0 616.5 779.1 616.3 779.2 617.8 779.3 613.7 779.4 616.4 779.5 616.2 779.6 616.0 779.7 617.8 779.8 617.5 779.9 620.0 780.0 620.0 780.1 616.8 780.2 621.6 780.3 617.9 780.4 617.4 780.5 618.1 780.6 619.8 780.7 615.5 780.8 617.6 780.9 619.5 781.0 612.7 781.1 626.7 781.2 621.6 781.3 626.0 781.4 618.6 781.5 616.2 781.6 615.8 781.7 616.9 781.8 621.0 781.9 612.0 782.0 617.7 782.1 617.6 782.2 621.9 782.3 615.6 782.4 619.6 782.5 619.8 782.6 619.0 782.7 617.0 782.8 620.4 782.9 614.6 783.0 620.9 783.1 621.6 783.2 618.6 783.3 619.5 783.4 617.5 783.5 619.4 783.6 616.5 783.7 617.7 783.8 622.4 783.9 615.5 784.0 620.8 784.1 619.0 784.2 617.0 784.3 621.6 784.4 609.3 784.5 621.9 784.6 620.7 784.7 618.0 784.8 613.2 784.9 618.1 785.0 622.5 785.1 615.4 785.2 620.5 785.3 618.1 785.4 613.1 785.4 621.6 785.5 619.2 785.6 618.1 785.7 619.6 785.8 614.8 785.9 621.8 786.0 619.0 786.1 622.4 786.2 622.1 786.3 613.8 786.4 619.2 786.5 615.6 786.6 620.4 786.7 618.6 786.8 618.9 786.9 623.6 787.0 618.0 787.1 620.6 787.2 620.5 787.3 623.5 787.4 616.8 787.5 616.6 787.6 616.4 787.7 621.3 787.8 618.7 787.9 614.5 788.0 619.5 788.1 618.8 788.2 618.0 788.3 623.3 788.4 613.1 788.5 626.0 788.6 619.6 788.7 619.8 788.8 625.4 788.9 617.4 789.0 618.0 789.1 619.0 789.2 620.2 789.3 619.9 789.4 615.6 789.5 617.5 789.6 612.2 789.7 615.9 789.8 617.1 789.9 613.3 790.0 619.3 790.1 617.4 790.2 614.4 790.3 617.3 790.4 612.4 790.5 614.9 790.6 619.3 790.7 617.0 790.8 617.7 790.9 622.5 791.0 618.2 791.1 616.9 791.2 617.9 791.3 619.3 791.4 617.9 791.5 618.3 791.6 619.6 791.7 622.3 791.8 618.6 791.9 620.1 792.0 619.3 792.1 616.7 792.2 624.0 792.3 610.5 792.4 616.6 792.5 616.9 792.6 622.3 792.7 615.2 792.8 617.2 792.9 620.3 793.0 618.8 793.1 613.6 793.2 619.9 793.3 622.0 793.4 615.4 793.5 617.7 793.6 618.4 793.7 611.8 793.8 619.0 793.9 618.0 794.0 620.1 794.1 619.7 794.2 616.3 794.3 617.4 794.4 618.6 794.5 618.8 794.5 616.6 794.6 617.1 794.7 617.1 794.8 615.5 794.9 616.3 795.0 619.2 795.1 620.4 795.2 621.6 795.3 616.4 795.4 625.6 795.5 617.8 795.6 609.6 795.7 622.5 795.8 612.5 795.9 624.4 796.0 617.9 796.1 613.0 796.2 614.9 796.3 621.5 796.4 624.4 796.5 621.7 796.6 616.1 796.7 620.8 796.8 620.1 796.9 619.1 797.0 616.8 797.1 617.6 797.2 619.7 797.3 623.5 797.4 613.3 797.5 624.9 797.6 613.4 797.7 620.1 797.8 618.8 797.9 619.7 798.0 618.8 798.1 617.9 798.2 620.5 798.3 622.6 798.4 616.6 798.5 619.3 798.6 615.3 798.7 619.9 798.8 619.3 798.9 615.5 799.0 617.1 799.1 621.3 799.2 617.9 799.3 615.0 799.4 620.3 799.5 622.7 799.6 618.3 799.7 621.2 799.8 623.7 799.9 622.1 800.0 619.5 800.1 618.6 800.2 617.9 800.3 616.4 800.4 621.1 800.5 615.3 800.6 614.4 800.7 621.2 800.8 616.3 800.9 620.7 801.0 617.0 801.1 619.0 801.2 622.7 801.3 614.1 801.4 619.5 801.5 619.8 801.6 619.4 801.7 618.5 801.8 616.1 801.9 618.9 802.0 614.9 802.1 618.9 802.2 620.4 802.3 627.4 802.4 620.1 802.5 617.9 802.6 622.2 802.7 620.7 802.8 615.9 802.9 617.0 803.0 615.8 803.1 614.8 803.2 622.5 803.3 618.8 803.4 622.5 803.5 616.2 803.6 617.9 803.6 621.1 803.7 617.6 803.8 619.0 803.9 618.0 804.0 615.9 804.1 610.0 804.2 616.3 804.3 614.9 804.4 617.8 804.5 619.5 804.6 610.0 804.7 619.7 804.8 616.9 804.9 618.6 805.0 617.6 805.1 617.8 805.2 619.1 805.3 620.7 805.4 620.7 805.5 615.1 805.6 621.3 805.7 621.0 805.8 615.4 805.9 616.0 806.0 612.7 806.1 623.5 806.2 617.9 806.3 622.8 806.4 623.3 806.5 615.9 806.6 614.2 806.7 621.1 806.8 620.4 806.9 618.5 807.0 619.6 807.1 623.2 807.2 613.5 807.3 617.0 807.4 619.8 807.5 619.8 807.6 613.6 807.7 612.2 807.8 618.9 807.9 617.5 808.0 618.3 808.1 621.8 808.2 620.6 808.3 613.7 808.4 620.7 808.5 619.0 808.6 622.7 808.7 620.3 808.8 615.5 808.9 621.2 809.0 621.8 809.1 620.1 809.2 613.0 809.3 618.2 809.4 619.6 809.5 620.4 809.6 617.7 809.7 617.3 809.8 622.7 809.9 618.9 810.0 620.2 810.1 615.8 810.2 621.9 810.3 615.2 810.4 619.9 810.5 623.2 810.6 613.7 810.7 621.2 810.8 619.3 810.9 617.9 811.0 616.6 811.1 614.8 811.2 616.4 811.3 618.0 811.4 621.2 811.5 623.3 811.6 619.8 811.7 621.5 811.8 617.6 811.9 618.5 812.0 622.3 812.1 622.9 812.2 622.1 812.3 620.5 812.4 618.5 812.5 616.7 812.6 616.0 812.7 623.7 812.8 618.5 812.8 615.8 812.9 616.8 813.0 618.0 813.1 624.5 813.2 621.4 813.3 619.2 813.4 620.3 813.5 610.8 813.6 615.4 813.7 618.2 813.8 620.9 813.9 623.6 814.0 620.2 814.1 619.5 814.2 619.7 814.3 615.5 814.4 617.0 814.5 615.2 814.6 625.4 814.7 618.8 814.8 617.2 814.9 615.0 815.0 621.4 815.1 618.5 815.2 619.0 815.3 616.7 815.4 616.6 815.5 620.1 815.6 617.9 815.7 622.1 815.8 618.5 815.9 619.4 816.0 615.0 816.1 619.3 816.2 614.0 816.3 616.9 816.4 620.2 816.5 620.5 816.6 613.2 816.7 615.3 816.8 615.9 816.9 620.1 817.0 617.9 817.1 616.5 817.2 616.7 817.3 621.4 817.4 612.4 817.5 619.6 817.6 621.4 817.7 614.7 817.8 617.9 817.9 618.5 818.0 621.3 818.1 617.8 818.2 623.9 818.3 618.5 818.4 623.0 818.5 618.4 818.6 624.1 818.7 620.8 818.8 615.5 818.9 617.6 819.0 614.8 819.1 621.9 819.2 611.7 819.3 616.5 819.4 620.4 819.5 621.3 819.6 620.4 819.7 617.0 819.8 618.4 819.9 624.1 820.0 615.3 820.1 620.0 820.2 618.9 820.3 614.6 820.4 619.8 820.5 615.4 820.6 618.1 820.7 619.1 820.8 614.5 820.9 615.3 821.0 619.7 821.1 623.5 821.2 620.8 821.3 618.2 821.4 619.6 821.5 613.3 821.6 618.6 821.7 618.9 821.8 618.8 821.9 620.3 821.9 619.3 822.0 622.3 822.1 623.4 822.2 622.0 822.3 616.7 822.4 620.2 822.5 619.0 822.6 623.6 822.7 619.0 822.8 614.9 822.9 617.1 823.0 619.7 823.1 614.4 823.2 618.2 823.3 617.5 823.4 616.6 823.5 623.2 823.6 618.0 823.7 623.0 823.8 620.3 823.9 619.1 824.0 619.6 824.1 617.2 824.2 617.0 824.3 617.5 824.4 613.4 824.5 615.1 824.6 614.9 824.7 617.1 824.8 619.0 824.9 623.3 825.0 615.9 825.1 618.5 825.2 617.1 825.3 624.6 825.4 611.5 825.5 620.3 825.6 617.9 825.7 616.5 825.8 623.1 825.9 621.3 826.0 624.2 826.1 624.2 826.2 624.1 826.3 617.1 826.4 618.0 826.5 619.6 826.6 616.1 826.7 614.2 826.8 617.9 826.9 617.5 827.0 620.2 827.1 621.1 827.2 616.0 827.3 619.5 827.4 619.6 827.5 619.7 827.6 618.3 827.7 619.7 827.8 616.6 827.9 617.9 828.0 616.0 828.1 615.7 828.2 621.9 828.3 618.3 828.4 617.3 828.5 621.3 828.6 616.2 828.7 619.0 828.8 617.6 828.9 619.1 829.0 616.8 829.1 617.9 829.2 622.2 829.3 621.2 829.4 621.9 829.5 613.4 829.6 618.4 829.7 617.1 829.8 617.9 829.9 622.2 830.0 622.5 830.1 620.3 830.2 619.2 830.3 614.4 830.4 618.8 830.5 619.0 830.6 619.6 830.7 619.6 830.8 618.6 830.9 614.9 831.0 613.9 831.0 619.8 831.1 616.8 831.2 617.4 831.3 618.3 831.4 617.3 831.5 618.3 831.6 623.2 831.7 617.7 831.8 619.1 831.9 620.7 832.0 618.9 832.1 616.8 832.2 613.4 832.3 620.2 832.4 614.6 832.5 617.6 832.6 615.9 832.7 621.2 832.8 618.0 832.9 621.8 833.0 620.8 833.1 616.6 833.2 614.9 833.3 618.2 833.4 620.7 833.5 619.3 833.6 624.8 833.7 617.4 833.8 619.3 833.9 617.0 834.0 615.7 834.1 619.5 834.2 615.9 834.3 618.7 834.4 615.6 834.5 621.0 834.6 619.8 834.7 614.4 834.8 619.3 834.9 618.4 835.0 618.4 835.1 615.8 835.2 611.2 835.3 620.7 835.4 622.4 835.5 621.2 835.6 623.3 835.7 619.4 835.8 618.8 835.9 619.8 836.0 620.7 836.1 620.9 836.2 619.3 836.3 619.5 836.4 616.5 836.5 614.3 836.6 621.4 836.7 618.5 836.8 622.2 836.9 617.6 837.0 620.6 837.1 618.5 837.2 613.9 837.3 617.7 837.4 615.1 837.5 619.8 837.6 621.5 837.7 616.8 837.8 617.0 837.9 619.0 838.0 618.6 838.1 618.4 838.2 622.3 838.3 617.1 838.4 618.9 838.5 620.0 838.6 621.3 838.7 621.2 838.8 615.2 838.9 618.0 839.0 619.4 839.1 620.4 839.2 618.1 839.3 619.1 839.4 623.1 839.5 618.5 839.6 618.9 839.7 618.0 839.8 612.4 839.9 619.9 840.0 613.2 840.1 618.1 840.2 617.1 840.2 619.6 840.3 619.6 840.4 616.8 840.5 619.8 840.6 618.8 840.7 615.5 840.8 614.1 840.9 621.5 841.0 621.0 841.1 619.6 841.2 614.9 841.3 612.4 841.4 618.8 841.5 615.1 841.6 616.8 841.7 616.0 841.8 621.0 841.9 614.2 842.0 619.9 842.1 624.8 842.2 622.4 842.3 617.8 842.4 616.9 842.5 622.2 842.6 623.6 842.7 618.9 842.8 626.9 842.9 616.3 843.0 615.5 843.1 624.1 843.2 615.9 843.3 618.1 843.4 614.9 843.5 616.6 843.6 618.3 843.7 617.6 843.8 618.0 843.9 618.4 844.0 619.0 844.1 623.8 844.2 615.6 844.3 616.5 844.4 612.7 844.5 617.6 844.6 616.7 844.7 621.7 844.8 615.1 844.9 621.2 845.0 619.7 845.1 614.4 845.2 613.5 845.3 618.5 845.4 619.8 845.5 616.5 845.6 621.0 845.7 612.7 845.8 618.4 845.9 616.5 846.0 623.2 846.1 617.2 846.2 617.1 846.3 617.8 846.4 620.4 846.5 613.5 846.6 615.9 846.7 619.6 846.8 621.4 846.9 619.7 847.0 616.4 847.1 621.9 847.2 617.1 847.3 618.8 847.4 617.1 847.5 616.8 847.6 614.1 847.7 618.6 847.8 619.1 847.9 617.0 848.0 615.1 848.1 624.4 848.2 615.9 848.3 610.6 848.4 618.4 848.5 615.7 848.6 624.1 848.7 617.3 848.8 619.6 848.9 615.8 849.0 617.0 849.1 620.0 849.2 616.7 849.3 617.9 849.3 621.5 849.4 617.2 849.5 620.7 849.6 617.6 849.7 618.2 849.8 621.0 849.9 617.1 850.0 622.6 850.1 614.9 850.2 621.3 850.3 616.4 850.4 620.5 850.5 618.6 850.6 620.6 850.7 618.1 850.8 615.9 850.9 619.2 851.0 617.2 851.1 619.6 851.2 618.5 851.3 615.4 851.4 615.5 851.5 620.1 851.6 618.5 851.7 616.0 851.8 618.7 851.9 615.0 852.0 619.0 852.1 618.2 852.2 618.6 852.3 618.0 852.4 614.7 852.5 617.7 852.6 617.5 852.7 614.5 852.8 620.8 852.9 618.4 853.0 619.1 853.1 617.2 853.2 618.1 853.3 617.3 853.4 612.8 853.5 619.0 853.6 619.9 853.7 615.6 853.8 620.1 853.9 618.7 854.0 617.2 854.1 617.5 854.2 618.1 854.3 616.0 854.4 618.1 854.5 618.1 854.6 623.8 854.7 623.1 854.8 621.0 854.9 614.4 855.0 618.0 855.1 617.5 855.2 621.1 855.3 619.6 855.4 619.1 855.5 620.1 855.6 615.7 855.7 621.8 855.8 614.5 855.9 612.2 856.0 619.5 856.1 617.0 856.2 620.6 856.3 619.1 856.4 624.1 856.5 618.5 856.6 619.0 856.7 621.7 856.8 620.8 856.9 620.9 857.0 617.4 857.1 617.4 857.2 616.2 857.3 617.8 857.4 619.3 857.5 618.3 857.6 623.4 857.7 618.8 857.8 617.5 857.9 624.8 858.0 616.0 858.1 622.4 858.2 616.4 858.3 616.9 858.4 621.6 858.4 623.0 858.5 619.0 858.6 619.6 858.7 620.6 858.8 620.8 858.9 619.2 859.0 620.3 859.1 618.3 859.2 620.2 859.3 619.1 859.4 618.8 859.5 620.1 859.6 614.6 859.7 621.1 859.8 616.4 859.9 620.2 860.0 616.1 860.1 618.9 860.2 616.1 860.3 616.0 860.4 619.8 860.5 611.3 860.6 616.8 860.7 619.4 860.8 620.5 860.9 612.8 861.0 615.2 861.1 617.6 861.2 615.6 861.3 614.6 861.4 617.9 861.5 619.0 861.6 620.9 861.7 617.6 861.8 618.6 861.9 619.8 862.0 615.4 862.1 621.9 862.2 621.4 862.3 615.2 862.4 616.7 862.5 617.0 862.6 619.0 862.7 617.5 862.8 619.6 862.9 623.8 863.0 616.7 863.1 624.5 863.2 620.2 863.3 613.1 863.4 615.0 863.5 620.2 863.6 617.8 863.7 617.7 863.8 618.0 863.9 621.6 864.0 621.2 864.1 618.2 864.2 618.6 864.3 619.5 864.4 619.2 864.5 616.1 864.6 622.0 864.7 616.3 864.8 620.8 864.9 619.3 865.0 615.1 865.1 620.0 865.2 620.7 865.3 618.3 865.4 621.0 865.5 616.3 865.6 616.6 865.7 618.4 865.8 620.5 865.9 620.1 866.0 614.9 866.1 618.6 866.2 616.0 866.3 614.1 866.4 621.4 866.5 616.6 866.6 614.9 866.7 615.7 866.8 615.1 866.9 617.5 867.0 618.8 867.1 617.1 867.2 620.3 867.3 615.3 867.4 621.1 867.5 617.6 867.5 620.7 867.6 617.4 867.7 618.6 867.8 620.8 867.9 617.4 868.0 619.7 868.1 621.0 868.2 619.0 868.3 614.2 868.4 621.6 868.5 618.4 868.6 615.6 868.7 614.2 868.8 614.0 868.9 618.0 869.0 619.2 869.1 615.0 869.2 616.3 869.3 620.6 869.4 624.5 869.5 620.7 869.6 622.5 869.7 614.4 869.8 619.1 869.9 618.5 870.0 618.5 870.1 617.3 870.2 618.1 870.3 621.6 870.4 624.4 870.5 614.4 870.6 620.7 870.7 621.5 870.8 621.2 870.9 620.1 871.0 617.6 871.1 619.6 871.2 621.1 871.3 617.0 871.4 619.3 871.5 615.1 871.6 618.6 871.7 619.3 871.8 617.8 871.9 619.9 872.0 616.3 872.1 617.8 872.2 620.5 872.3 620.3 872.4 615.8 872.5 617.6 872.6 620.6 872.7 619.5 872.8 618.8 872.9 615.3 873.0 617.1 873.1 615.6 873.2 613.8 873.3 621.1 873.4 619.9 873.5 621.7 873.6 615.1 873.7 623.5 873.8 617.8 873.9 614.8 874.0 620.4 874.1 620.3 874.2 618.7 874.3 614.3 874.4 621.9 874.5 618.6 874.6 616.0 874.7 618.7 874.8 620.1 874.9 618.0 875.0 618.0 875.1 619.3 875.2 617.4 875.3 618.0 875.4 620.7 875.5 618.2 875.6 619.8 875.7 614.9 875.8 620.9 875.9 616.5 876.0 617.1 876.1 615.2 876.2 616.5 876.3 616.7 876.4 619.3 876.5 615.4 876.6 617.8 876.7 619.1 876.7 621.3 876.8 616.4 876.9 620.1 877.0 619.5 877.1 618.9 877.2 614.5 877.3 616.3 877.4 618.7 877.5 618.4 877.6 619.5 877.7 621.3 877.8 617.6 877.9 619.6 878.0 617.9 878.1 614.9 878.2 617.3 878.3 614.6 878.4 618.2 878.5 621.0 878.6 616.9 878.7 620.9 878.8 617.7 878.9 620.0 879.0 616.0 879.1 616.2 879.2 618.6 879.3 617.5 879.4 618.8 879.5 615.5 879.6 619.4 879.7 620.5 879.8 620.6 879.9 617.6 880.0 618.7 880.1 620.1 880.2 618.0 880.3 618.8 880.4 621.4 880.5 621.0 880.6 617.4 880.7 618.6 880.8 617.8 880.9 621.7 881.0 619.1 881.1 621.8 881.2 619.3 881.3 621.8 881.4 618.0 881.5 621.6 881.6 617.3 881.7 616.9 881.8 621.1 881.9 622.5 882.0 618.0 882.1 617.8 882.2 618.6 882.3 619.7 882.4 620.2 882.5 618.2 882.6 615.6 882.7 619.8 882.8 621.6 882.9 618.2 883.0 618.5 883.1 621.0 883.2 618.8 883.3 618.7 883.4 618.9 883.5 617.6 883.6 622.1 883.7 621.6 883.8 620.1 883.9 618.4 884.0 615.1 884.1 619.0 884.2 618.0 884.3 619.7 884.4 621.9 884.5 619.2 884.6 618.3 884.7 618.6 884.8 617.9 884.9 617.6 885.0 620.3 885.1 619.6 885.2 619.1 885.3 619.7 885.4 621.1 885.5 615.9 885.6 619.3 885.7 619.6 885.8 618.0 885.8 615.7 885.9 618.9 886.0 619.0 886.1 619.4 886.2 619.0 886.3 616.5 886.4 616.5 886.5 620.9 886.6 618.5 886.7 618.3 886.8 617.1 886.9 619.4 887.0 620.6 887.1 616.6 887.2 618.6 887.3 617.1 887.4 618.8 887.5 618.8 887.6 617.8 887.7 620.3 887.8 620.5 887.9 618.0 888.0 617.6 888.1 621.8 888.2 619.0 888.3 621.4 888.4 620.3 888.5 617.8 888.6 618.2 888.7 613.5 888.8 617.6 888.9 619.4 889.0 615.8 889.1 617.3 889.2 615.6 889.3 615.6 889.4 618.0 889.5 615.4 889.6 620.3 889.7 619.3 889.8 617.9 889.9 618.7 890.0 617.3 890.1 619.1 890.2 618.1 890.3 615.8 890.4 618.9 890.5 615.8 890.6 619.3 890.7 618.5 890.8 619.3 890.9 619.2 891.0 619.3 891.1 616.3 891.2 620.1 891.3 621.0 891.4 618.2 891.5 617.8 891.6 620.9 891.7 617.9 891.8 617.4 891.9 620.4 892.0 618.1 892.1 616.9 892.2 618.0 892.3 620.1 892.4 621.6 892.5 617.8 892.6 621.0 892.7 613.2 892.8 617.4 892.9 617.8 893.0 618.1 893.1 618.8 893.2 622.6 893.3 618.3 893.4 621.2 893.5 620.7 893.6 621.2 893.7 621.0 893.8 617.4 893.9 617.9 894.0 620.0 894.1 620.0 894.2 620.2 894.3 617.3 894.4 618.8 894.5 620.6 894.6 615.5 894.7 619.6 894.8 618.4 894.9 620.4 894.9 616.7 895.0 619.5 895.1 619.2 895.2 616.6 895.3 616.6 895.4 616.8 895.5 619.5 895.6 620.1 895.7 619.5 895.8 621.5 895.9 624.0 896.0 619.4 896.1 617.7 896.2 616.2 896.3 620.6 896.4 615.8 896.5 618.7 896.6 618.4 896.7 616.9 896.8 618.3 896.9 616.8 897.0 618.6 897.1 622.0 897.2 621.0 897.3 618.8 897.4 616.7 897.5 618.1 897.6 620.6 897.7 617.5 897.8 618.3 897.9 617.0 898.0 615.0 898.1 616.6 898.2 618.4 898.3 620.3 898.4 615.1 898.5 619.5 898.6 620.7 898.7 616.1 898.8 619.0 898.9 619.1 899.0 617.7 899.1 619.1 899.2 621.4 899.3 614.6 899.4 618.6 899.5 619.1 899.6 619.6 899.7 620.9 899.8 620.0 899.9 617.7 900.0 618.9 900.1 618.1 900.2 618.8 900.3 618.7 900.4 619.6 900.5 621.0 900.6 617.5 900.7 617.0 900.8 621.4 900.9 624.9 901.0 619.3 901.1 616.7 901.2 617.5 901.3 619.0 901.4 618.4 901.5 616.2 901.6 618.0 901.7 621.3 901.8 621.2 901.9 616.6 902.0 617.2 902.1 616.3 902.2 616.5 902.3 617.6 902.4 617.9 902.5 619.5 902.6 617.6 902.7 621.3 902.8 616.1 902.9 616.9 903.0 616.6 903.1 620.5 903.2 615.1 903.3 616.5 903.4 618.8 903.5 621.6 903.6 618.2 903.7 614.5 903.8 617.6 903.9 616.7 904.0 619.3 904.1 619.9 904.1 621.6 904.2 620.8 904.3 619.6 904.4 617.1 904.5 620.6 904.6 617.0 904.7 617.8 904.8 618.1 904.9 621.9 905.0 618.9 905.1 617.0 905.2 619.3 905.3 622.9 905.4 616.5 905.5 619.0 905.6 620.0 905.7 617.2 905.8 618.6 905.9 617.4 906.0 617.2 906.1 617.4 906.2 617.2 906.3 618.3 906.4 619.8 906.5 616.6 906.6 619.5 906.7 621.7 906.8 618.7 906.9 618.5 907.0 618.6 907.1 618.5 907.2 620.2 907.3 618.6 907.4 619.2 907.5 618.2 907.6 619.3 907.7 617.9 907.8 618.0 907.9 619.8 908.0 618.5 908.1 621.7 908.2 619.3 908.3 615.0 908.4 618.8 908.5 620.7 908.6 624.0 908.7 617.5 908.8 619.3 908.9 617.1 909.0 616.8 909.1 619.2 909.2 618.5 909.3 621.4 909.4 617.2 909.5 620.0 909.6 617.5 909.7 617.4 909.8 616.7 909.9 618.6 910.0 615.9 910.1 620.4 910.2 617.8 910.3 616.6 910.4 616.5 910.5 619.5 910.6 616.4 910.7 614.7 910.8 619.8 910.9 621.0 911.0 617.8 911.1 617.9 911.2 614.7 911.3 618.4 911.4 617.6 911.5 620.0 911.6 618.3 911.7 619.1 911.8 618.5 911.9 617.8 912.0 620.1 912.1 621.8 912.2 622.4 912.3 619.3 912.4 617.0 912.5 618.3 912.6 619.2 912.7 615.0 912.8 619.6 912.9 620.4 913.0 621.3 913.1 618.0 913.2 617.5 913.2 618.3 913.3 617.0 913.4 619.1 913.5 616.9 913.6 619.8 913.7 619.4 913.8 617.3 913.9 618.8 914.0 620.0 914.1 618.8 914.2 620.0 914.3 618.8 914.4 618.9 914.5 616.5 914.6 620.2 914.7 618.2 914.8 619.5 914.9 618.4 915.0 620.7 915.1 619.3 915.2 620.3 915.3 619.1 915.4 621.6 915.5 618.7 915.6 617.6 915.7 619.1 915.8 617.3 915.9 618.9 916.0 617.5 916.1 618.0 916.2 618.9 916.3 615.7 916.4 619.3 916.5 617.4 916.6 620.2 916.7 615.8 916.8 617.7 916.9 620.7 917.0 617.0 917.1 616.9 917.2 618.1 917.3 619.0 917.4 619.1 917.5 617.9 917.6 620.2 917.7 617.4 917.8 619.2 917.9 622.0 918.0 620.1 918.1 618.9 918.2 618.5 918.3 617.0 918.4 619.9 918.5 617.0 918.6 619.3 918.7 618.3 918.8 618.3 918.9 618.4 919.0 619.5 919.1 621.6 919.2 621.3 919.3 618.7 919.4 619.7 919.5 615.9 919.6 620.8 919.7 619.6 919.8 616.4 919.9 619.7 920.0 621.7 920.1 619.3 920.2 619.8 920.3 619.2 920.4 617.4 920.5 621.4 920.6 617.3 920.7 616.4 920.8 617.2 920.9 618.1 921.0 619.8 921.1 620.5 921.2 617.1 921.3 619.3 921.4 618.1 921.5 620.8 921.6 619.2 921.7 619.0 921.8 620.8 921.9 618.5 922.0 618.5 922.1 617.7 922.2 616.6 922.3 617.0 922.3 616.9 922.4 619.1 922.5 616.3 922.6 616.5 922.7 618.0 922.8 617.8 922.9 618.6 923.0 620.7 923.1 621.4 923.2 620.8 923.3 616.2 923.4 618.1 923.5 618.2 923.6 618.3 923.7 619.4 923.8 618.5 923.9 619.9 924.0 618.6 924.1 620.0 924.2 618.6 924.3 618.2 924.4 617.4 924.5 618.8 924.6 619.0 924.7 620.6 924.8 615.9 924.9 615.5 925.0 618.4 925.1 622.1 925.2 619.8 925.3 621.2 925.4 622.4 925.5 618.1 925.6 619.1 925.7 619.7 925.8 618.0 925.9 618.0 926.0 618.2 926.1 617.7 926.2 619.4 926.3 620.0 926.4 619.5 926.5 618.1 926.6 617.8 926.7 619.3 926.8 619.0 926.9 618.1 927.0 618.6 927.1 616.2 927.2 619.4 927.3 617.9 927.4 616.5 927.5 618.0 927.6 621.6 927.7 618.1 927.8 620.2 927.9 617.0 928.0 617.9 928.1 617.4 928.2 617.1 928.3 617.3 928.4 618.3 928.5 619.4 928.6 620.2 928.7 619.1 928.8 617.5 928.9 619.5 929.0 619.2 929.1 617.5 929.2 619.6 929.3 621.0 929.4 620.6 929.5 616.9 929.6 619.5 929.7 618.2 929.8 617.8 929.9 620.8 930.0 618.3 930.1 620.5 930.2 618.5 930.3 620.4 930.4 617.9 930.5 618.5 930.6 618.0 930.7 618.7 930.8 619.7 930.9 620.2 931.0 619.9 931.1 617.1 931.2 619.9 931.3 619.1 931.4 618.0 931.4 618.4 931.5 620.6 931.6 621.3 931.7 617.6 931.8 619.2 931.9 620.1 932.0 620.0 932.1 618.3 932.2 621.8 932.3 618.8 932.4 618.9 932.5 618.2 932.6 618.9 932.7 620.0 932.8 620.7 932.9 619.0 933.0 620.0 933.1 617.4 933.2 619.2 933.3 617.9 933.4 618.2 933.5 619.6 933.6 617.7 933.7 619.5 933.8 620.3 933.9 617.9 934.0 617.1 934.1 619.1 934.2 619.0 934.3 619.4 934.4 619.6 934.5 617.7 934.6 618.2 934.7 618.7 934.8 617.9 934.9 622.2 935.0 618.1 935.1 617.8 935.2 618.6 935.3 620.2 935.4 619.7 935.5 617.5 935.6 617.9 935.7 618.1 935.8 619.9 935.9 618.3 936.0 616.9" stroke="#008000" stroke-width="1.5" fill="none" stroke-linejoin="round" stroke-linecap="round" clip-path="url(#c11)"/>
<path d="M580.00 652.7V649.1M580.00 397V400.6M672.71 652.7V649.1M672.71 397V400.6M765.42 652.7V649.1M765.42 397V400.6M858.12 652.7V649.1M858.12 397V400.6M580 618.61H583.6M936 618.61H932.4M580 550.42H583.6M936 550.42H932.4M580 482.23H583.6M936 482.23H932.4M580 414.05H583.6M936 414.05H932.4" stroke="#141414" stroke-width="2" fill="none"/>
<rect x="580" y="397" width="356" height="255.70000000000005" stroke="#141414" stroke-width="2" fill="none" stroke-linejoin="round"/>
<text x="580.00" y="683.70" text-anchor="middle" font-size="26" >0</text>
<text x="672.71" y="683.70" text-anchor="middle" font-size="26" >2000</text>
<text x="765.42" y="683.70" text-anchor="middle" font-size="26" >4000</text>
<text x="858.12" y="683.70" text-anchor="middle" font-size="26" >6000</text>
<text x="572.00" y="628.41" text-anchor="end" font-size="26" >0</text>
<text x="572.00" y="560.22" text-anchor="end" font-size="26" >20</text>
<text x="572.00" y="492.03" text-anchor="end" font-size="26" >40</text>
<text x="572.00" y="423.85" text-anchor="end" font-size="26" >60</text>
<text x="758.00" y="391.00" text-anchor="middle" font-size="26" >Autocorrelation of Noise</text>
<text x="758.00" y="714.70" text-anchor="middle" font-size="26" >Samples</text>
<text x="0" y="0" text-anchor="middle" font-size="26" transform="translate(527.8,524.35) rotate(-90)">a.u.</text>
<text x="491.30" y="404.50" text-anchor="start" font-size="33.5" font-weight="bold">D</text>
<clipPath id="c02"><rect x="102" y="757" width="356" height="255.70000000000005"/></clipPath>
<path d="M100.9 879.0 106.4 878.7 112.0 882.3 117.6 889.5 123.1 896.8 128.7 900.4 134.3 899.3 139.8 894.7 145.4 891.1 150.9 888.3 156.5 892.1 162.1 895.2 167.6 895.2 173.2 889.3 178.8 874.1 184.3 855.5 189.9 835.7 195.4 828.0 201.0 836.4 206.6 866.8 212.1 902.5 217.7 950.1 223.3 989.3 228.8 1007.9 234.4 999.3 239.9 964.3 245.5 916.7 251.1 864.4 256.6 819.2 262.2 784.7 267.8 769.3 273.3 771.2 278.9 788.0 284.4 806.1 290.0 831.1 295.6 857.3 301.1 878.7 306.7 895.3 312.3 908.4 317.8 914.8 323.4 914.8 328.9 909.6 334.5 900.1 340.1 890.6 345.6 882.3 351.2 879.9 356.8 876.8 362.3 877.5 367.9 878.2 373.4 878.7 379.0 875.8 384.6 873.9 390.1 872.0 395.7 873.2 401.3 878.2 406.8 883.4 412.4 888.7 417.9 892.2 423.5 895.3 429.1 895.3 434.6 894.2 440.2 897.7 445.8 903.7 451.3 908.4 456.9 912.5 462.4 916.0" stroke="#0000ff" stroke-width="1.8" fill="none" stroke-linejoin="round" stroke-linecap="round" clip-path="url(#c02)"/>
<path d="M100.5 917.2 102.3 916.4 110.3 912.8 120.6 908.6 131.0 904.0 141.3 898.3 151.6 891.6 161.9 884.4 172.2 878.2 178.4 875.6 183.7 875.6 189.1 879.2 194.6 886.5 200.1 898.4 204.7 909.4 209.3 922.2 213.9 934.1 218.4 945.1 223.5 950.8 228.3 949.6 234.4 938.6 239.6 919.5 243.2 903.4 246.9 881.5 249.5 867.5 253.3 847.1 258.0 822.2 261.9 803.5 267.3 783.3 272.8 772.4 278.2 769.0 284.4 774.8 289.9 788.0 295.7 805.0 301.2 824.0 306.6 841.8 312.3 858.5 317.8 871.6 323.5 879.9 329.0 884.6 334.4 886.5 340.2 885.8 345.6 883.4 351.3 879.9 356.8 876.3 362.3 872.7 368.0 869.2 373.4 866.3 378.9 864.0 384.6 863.2 390.1 863.2 395.8 864.9 401.3 868.0 406.7 872.7 412.4 877.5 417.9 882.3 423.6 887.0 429.1 890.6 434.8 894.2 440.3 897.2 445.7 899.4 451.4 899.6 456.9 898.4 462.0 897.0" stroke="#ff0000" stroke-width="1.8" fill="none" stroke-linejoin="round" stroke-linecap="round" clip-path="url(#c02)"/>
<path d="M278.3 947.7H355.6" stroke="#0000ff" stroke-width="1.8"/>
<path d="M278.3 979.8H355.6" stroke="#ff0000" stroke-width="1.8"/>
<text x="364.00" y="957.00" text-anchor="start" font-size="26" >TRF</text>
<text x="364.00" y="989.50" text-anchor="start" font-size="26" >XCOR</text>
<path d="M102.00 1012.7V1009.1M102.00 757V760.6M173.20 1012.7V1009.1M173.20 757V760.6M244.40 1012.7V1009.1M244.40 757V760.6M315.60 1012.7V1009.1M315.60 757V760.6M386.80 1012.7V1009.1M386.80 757V760.6M458.00 1012.7V1009.1M458.00 757V760.6M102 1001.08H105.6M458 1001.08H454.4M102 942.96H105.6M458 942.96H454.4M102 884.85H105.6M458 884.85H454.4M102 826.74H105.6M458 826.74H454.4M102 768.62H105.6M458 768.62H454.4" stroke="#141414" stroke-width="2" fill="none"/>
<rect x="102" y="757" width="356" height="255.70000000000005" stroke="#141414" stroke-width="2" fill="none" stroke-linejoin="round"/>
<text x="94.40" y="1043.70" text-anchor="middle" font-size="26" >−100</text>
<text x="173.20" y="1043.70" text-anchor="middle" font-size="26" >0</text>
<text x="244.40" y="1043.70" text-anchor="middle" font-size="26" >100</text>
<text x="315.60" y="1043.70" text-anchor="middle" font-size="26" >200</text>
<text x="386.80" y="1043.70" text-anchor="middle" font-size="26" >300</text>
<text x="458.00" y="1043.70" text-anchor="middle" font-size="26" >400</text>
<text x="94.00" y="1010.88" text-anchor="end" font-size="26" >−0.2</text>
<text x="94.00" y="952.76" text-anchor="end" font-size="26" >−0.1</text>
<text x="94.00" y="894.65" text-anchor="end" font-size="26" >0</text>
<text x="94.00" y="836.54" text-anchor="end" font-size="26" >0.1</text>
<text x="94.00" y="778.42" text-anchor="end" font-size="26" >0.2</text>
<text x="280.00" y="751.00" text-anchor="middle" font-size="26" >Response to Speech at FCz</text>
<text x="280.00" y="1074.70" text-anchor="middle" font-size="26" >Time lag (ms)</text>
<text x="0" y="0" text-anchor="middle" font-size="26" transform="translate(27.9,884.35) rotate(-90)">a.u.</text>
<text x="16.00" y="764.50" text-anchor="start" font-size="33.5" font-weight="bold">E</text>
<clipPath id="c12"><rect x="580" y="757" width="356" height="255.70000000000005"/></clipPath>
<path d="M578.9 902.0 584.5 898.4 590.0 899.4 595.6 897.7 601.1 900.1 606.7 894.9 612.3 894.9 617.8 882.7 623.4 884.2 629.0 877.5 634.5 881.5 640.1 882.3 645.6 885.4 651.2 881.5 656.8 875.1 662.3 863.2 667.9 852.1 673.5 847.8 679.0 853.2 684.6 875.1 690.1 907.2 695.7 942.9 701.3 977.4 706.8 994.1 712.4 991.7 718.0 970.3 723.5 933.4 729.1 888.2 734.6 833.5 740.2 794.2 745.8 774.0 751.3 772.8 756.9 785.9 762.5 810.9 768.0 843.0 773.6 872.7 779.1 892.5 784.7 903.7 790.3 902.5 795.8 896.5 801.4 881.1 807.0 862.0 812.5 844.2 818.1 834.7 823.6 834.2 829.2 845.4 834.8 866.8 840.3 897.7 845.9 928.6 851.5 952.4 857.0 965.5 862.6 966.2 868.1 954.8 873.7 931.0 879.3 904.9 884.8 883.4 890.4 870.4 896.0 868.0 901.5 872.7 907.1 887.0 912.6 903.7 918.2 920.3 923.8 929.8 929.3 934.6 934.9 930.5 940.5 926.5" stroke="#0000ff" stroke-width="1.8" fill="none" stroke-linejoin="round" stroke-linecap="round" clip-path="url(#c12)"/>
<path d="M578.9 904.9 584.5 901.3 590.0 900.6 595.6 901.3 601.1 902.5 606.7 902.0 612.3 898.9 617.8 894.2 623.4 889.4 629.0 886.5 634.5 885.8 640.1 886.3 645.6 885.4 651.2 881.5 656.8 875.1 662.3 864.9 667.9 856.1 673.5 853.2 679.0 860.9 684.6 881.1 690.1 913.2 695.7 947.7 701.3 979.8 706.8 995.7 712.4 992.4 718.0 970.3 723.5 933.4 729.1 887.0 734.6 831.1 740.2 793.1 745.8 772.8 751.3 771.2 756.9 785.4 762.5 812.1 768.0 844.2 773.6 873.9 779.1 894.2 784.7 905.3 790.3 906.5 795.8 897.2 801.4 881.1 807.0 863.2 812.5 845.4 818.1 836.6 823.6 836.4 829.2 847.8 834.8 869.2 840.3 900.1 845.9 932.2 851.5 956.0 857.0 970.3 862.6 971.5 868.1 959.6 873.7 935.8 879.3 909.6 884.8 889.4 890.4 877.5 896.0 874.6 901.5 879.9 907.1 894.2 912.6 910.8 918.2 926.3 923.8 937.0 929.3 941.7 934.9 938.2 940.5 934.6" stroke="#ff0000" stroke-width="1.8" fill="none" stroke-linejoin="round" stroke-linecap="round" clip-path="url(#c12)"/>
<path d="M580.00 1012.7V1009.1M580.00 757V760.6M651.20 1012.7V1009.1M651.20 757V760.6M722.40 1012.7V1009.1M722.40 757V760.6M793.60 1012.7V1009.1M793.60 757V760.6M864.80 1012.7V1009.1M864.80 757V760.6M936.00 1012.7V1009.1M936.00 757V760.6M580 967.58H583.6M936 967.58H932.4M580 892.37H583.6M936 892.37H932.4M580 817.16H583.6M936 817.16H932.4" stroke="#141414" stroke-width="2" fill="none"/>
<rect x="580" y="757" width="356" height="255.70000000000005" stroke="#141414" stroke-width="2" fill="none" stroke-linejoin="round"/>
<text x="572.40" y="1043.70" text-anchor="middle" font-size="26" >−100</text>
<text x="651.20" y="1043.70" text-anchor="middle" font-size="26" >0</text>
<text x="722.40" y="1043.70" text-anchor="middle" font-size="26" >100</text>
<text x="793.60" y="1043.70" text-anchor="middle" font-size="26" >200</text>
<text x="864.80" y="1043.70" text-anchor="middle" font-size="26" >300</text>
<text x="936.00" y="1043.70" text-anchor="middle" font-size="26" >400</text>
<text x="572.00" y="977.38" text-anchor="end" font-size="26" >−0.05</text>
<text x="572.00" y="902.17" text-anchor="end" font-size="26" >0</text>
<text x="572.00" y="826.96" text-anchor="end" font-size="26" >0.05</text>
<text x="758.00" y="751.00" text-anchor="middle" font-size="26" >Response to Noise at FCz</text>
<text x="758.00" y="1074.70" text-anchor="middle" font-size="26" >Time lag (ms)</text>
<text x="0" y="0" text-anchor="middle" font-size="26" transform="translate(506.5,884.35) rotate(-90)">a.u.</text>
<text x="491.30" y="764.50" text-anchor="start" font-size="33.5" font-weight="bold">F</text>
</svg></body></html>
